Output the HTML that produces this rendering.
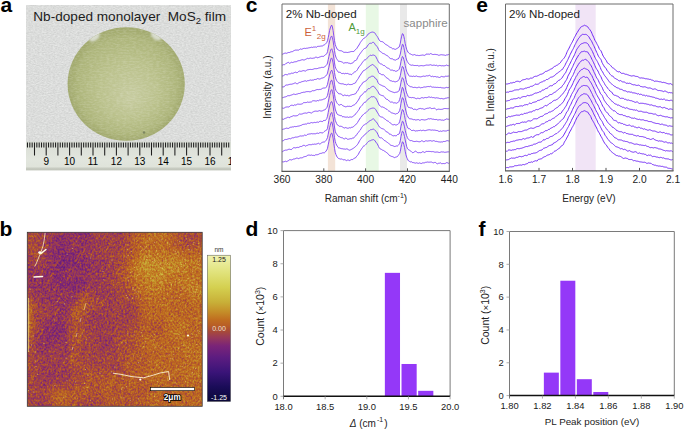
<!DOCTYPE html>
<html><head><meta charset="utf-8"><title>Figure</title>
<style>html,body{margin:0;padding:0;background:#fff;} svg{display:block;} text{font-family:"Liberation Sans", sans-serif;}</style>
</head><body>
<svg width="685" height="429" viewBox="0 0 685 429" font-family='"Liberation Sans", sans-serif'>
<defs>
<filter id="paper" x="0" y="0" width="100%" height="100%" color-interpolation-filters="sRGB">
 <feTurbulence type="fractalNoise" baseFrequency="0.45 0.9" numOctaves="2" seed="4" result="n"/>
 <feColorMatrix in="n" type="matrix" values="0.14 0 0 0 0.79 0.14 0 0 0 0.795 0.14 0 0 0 0.79 0 0 0 0 1" result="g"/>
 <feComposite in="g" in2="SourceGraphic" operator="in"/>
</filter>
<filter id="fib" x="0" y="0" width="100%" height="100%" color-interpolation-filters="sRGB">
 <feTurbulence type="fractalNoise" baseFrequency="0.3 0.7" numOctaves="2" seed="11" result="n"/>
 <feColorMatrix in="n" type="matrix" values="0 0 0 0 1  0 0 0 0 1  0 0 0 0 1  0.35 0 0 0 -0.12" result="w"/>
 <feComposite in="w" in2="SourceGraphic" operator="in" result="wi"/>
 <feMerge><feMergeNode in="SourceGraphic"/><feMergeNode in="wi"/></feMerge>
</filter>
<filter id="soft" x="-50%" y="-50%" width="200%" height="200%"><feGaussianBlur stdDeviation="0.8"/></filter>
<filter id="blur2" x="-10%" y="-10%" width="120%" height="120%"><feGaussianBlur stdDeviation="2.5" edgeMode="duplicate"/></filter>
<filter id="afm" x="0" y="0" width="100%" height="100%" color-interpolation-filters="sRGB">
 <feTurbulence type="fractalNoise" baseFrequency="0.55 0.45" numOctaves="3" seed="5" result="n"/>
 <feColorMatrix in="n" type="matrix" values="1 0 0 0 0  1 0 0 0 0  1 0 0 0 0  0 0 0 0 1" result="ng"/>
 <feComposite in="SourceGraphic" in2="ng" operator="arithmetic" k1="0" k2="1" k3="0.27" k4="-0.135" result="h"/>
 <feComponentTransfer in="h">
  <feFuncR type="table" tableValues="0.039 0.055 0.071 0.086 0.102 0.133 0.165 0.196 0.227 0.261 0.294 0.327 0.361 0.398 0.434 0.471 0.518 0.567 0.612 0.651 0.690 0.725 0.745 0.758 0.765 0.772 0.778 0.783 0.794 0.805 0.817 0.829 0.841 0.853 0.864 0.876 0.889 0.902 0.915 0.928 0.941"/>
  <feFuncG type="table" tableValues="0.031 0.035 0.039 0.043 0.047 0.055 0.063 0.071 0.078 0.086 0.094 0.102 0.110 0.120 0.129 0.139 0.170 0.206 0.243 0.282 0.329 0.376 0.416 0.467 0.525 0.579 0.630 0.680 0.715 0.747 0.778 0.809 0.830 0.847 0.865 0.883 0.897 0.910 0.923 0.936 0.949"/>
  <feFuncB type="table" tableValues="0.220 0.251 0.282 0.314 0.345 0.376 0.408 0.439 0.471 0.478 0.486 0.494 0.502 0.492 0.482 0.473 0.429 0.376 0.314 0.235 0.184 0.146 0.131 0.135 0.151 0.170 0.193 0.215 0.238 0.262 0.285 0.309 0.347 0.388 0.429 0.470 0.514 0.558 0.602 0.646 0.690"/>
 </feComponentTransfer>
</filter>
<linearGradient id="cbar" x1="0" y1="1" x2="0" y2="0"><stop offset="0.0" stop-color="#0a0838"/><stop offset="0.1" stop-color="#1a0c58"/><stop offset="0.2" stop-color="#3a1478"/><stop offset="0.3" stop-color="#5c1c80"/><stop offset="0.38" stop-color="#7a2478"/><stop offset="0.44" stop-color="#983a58"/><stop offset="0.48" stop-color="#a84a38"/><stop offset="0.52" stop-color="#b85e26"/><stop offset="0.56" stop-color="#c06e20"/><stop offset="0.61" stop-color="#c48c28"/><stop offset="0.68" stop-color="#c8b038"/><stop offset="0.78" stop-color="#d4d050"/><stop offset="0.88" stop-color="#e0e27a"/><stop offset="1.0" stop-color="#f0f2b0"/></linearGradient>
<radialGradient id="disk" cx="0.5" cy="0.5" r="0.5" fx="0.55" fy="0.62">
 <stop offset="0" stop-color="#c6cb9f"/>
 <stop offset="0.5" stop-color="#bac18b"/>
 <stop offset="0.85" stop-color="#adb57a"/>
 <stop offset="1" stop-color="#a0a86c"/>
</radialGradient>
<linearGradient id="ruler" x1="0" y1="0" x2="0" y2="1">
 <stop offset="0" stop-color="#d8dcd4"/>
 <stop offset="0.6" stop-color="#e2e6de"/>
 <stop offset="0.88" stop-color="#dfe3da"/>
 <stop offset="0.92" stop-color="#c8ccc2"/>
 <stop offset="1" stop-color="#bfc3b8"/>
</linearGradient>
</defs>
<text x="0.5" y="12.2" font-size="21" text-anchor="start" fill="#000" font-weight="bold" >a</text>
<text x="245.8" y="12.4" font-size="21" text-anchor="start" fill="#000" font-weight="bold" >c</text>
<text x="476.2" y="12.4" font-size="21" text-anchor="start" fill="#000" font-weight="bold" >e</text>
<text x="-0.6" y="235.6" font-size="21" text-anchor="start" fill="#000" font-weight="bold" >b</text>
<text x="245.5" y="235.8" font-size="21" text-anchor="start" fill="#000" font-weight="bold" >d</text>
<text x="478.5" y="235.6" font-size="21" text-anchor="start" fill="#000" font-weight="bold" >f</text>
<rect x="26" y="5" width="205" height="165" fill="#dadada"/>
<rect x="26" y="5" width="205" height="137" fill="#ddd" filter="url(#paper)"/>
<ellipse cx="126.2" cy="84" rx="58.6" ry="56.8" fill="url(#disk)" filter="url(#fib)"/>
<clipPath id="diskclip"><ellipse cx="126.2" cy="84" rx="58.6" ry="56.8"/></clipPath>
<g clip-path="url(#diskclip)" filter="url(#soft)"><ellipse cx="94.5" cy="37" rx="6" ry="3.6" fill="#d8dccd" transform="rotate(-38 94.5 37)"/><ellipse cx="156" cy="36" rx="6" ry="3.4" fill="#d8dccd" transform="rotate(36 156 36)"/></g>
<circle cx="144" cy="132.5" r="1.2" fill="#7d8660"/>
<rect x="26" y="141.4" width="205" height="29" fill="url(#ruler)"/>
<path d="M27.48 142.6v5 M29.82 142.6v5 M32.16 142.6v5 M34.50 142.6v13 M36.84 142.6v5 M39.18 142.6v5 M41.52 142.6v5 M43.86 142.6v5 M46.20 142.6v13 M48.54 142.6v5 M50.88 142.6v5 M53.22 142.6v5 M55.56 142.6v5 M57.90 142.6v13 M60.24 142.6v5 M62.58 142.6v5 M64.92 142.6v5 M67.26 142.6v5 M69.60 142.6v13 M71.94 142.6v5 M74.28 142.6v5 M76.62 142.6v5 M78.96 142.6v5 M81.30 142.6v13 M83.64 142.6v5 M85.98 142.6v5 M88.32 142.6v5 M90.66 142.6v5 M93.00 142.6v13 M95.34 142.6v5 M97.68 142.6v5 M100.02 142.6v5 M102.36 142.6v5 M104.70 142.6v13 M107.04 142.6v5 M109.38 142.6v5 M111.72 142.6v5 M114.06 142.6v5 M116.40 142.6v13 M118.74 142.6v5 M121.08 142.6v5 M123.42 142.6v5 M125.76 142.6v5 M128.10 142.6v13 M130.44 142.6v5 M132.78 142.6v5 M135.12 142.6v5 M137.46 142.6v5 M139.80 142.6v13 M142.14 142.6v5 M144.48 142.6v5 M146.82 142.6v5 M149.16 142.6v5 M151.50 142.6v13 M153.84 142.6v5 M156.18 142.6v5 M158.52 142.6v5 M160.86 142.6v5 M163.20 142.6v13 M165.54 142.6v5 M167.88 142.6v5 M170.22 142.6v5 M172.56 142.6v5 M174.90 142.6v13 M177.24 142.6v5 M179.58 142.6v5 M181.92 142.6v5 M184.26 142.6v5 M186.60 142.6v13 M188.94 142.6v5 M191.28 142.6v5 M193.62 142.6v5 M195.96 142.6v5 M198.30 142.6v13 M200.64 142.6v5 M202.98 142.6v5 M205.32 142.6v5 M207.66 142.6v5 M210.00 142.6v13 M212.34 142.6v5 M214.68 142.6v5 M217.02 142.6v5 M219.36 142.6v5 M221.70 142.6v13 M224.04 142.6v5 M226.38 142.6v5 M228.72 142.6v5" stroke="#1e1e1e" stroke-width="1.05"/>
<text x="46.2" y="164.6" font-size="10" text-anchor="middle" fill="#000" font-weight="normal" >9</text>
<text x="69.6" y="164.6" font-size="10" text-anchor="middle" fill="#000" font-weight="normal" >10</text>
<text x="93.0" y="164.6" font-size="10" text-anchor="middle" fill="#000" font-weight="normal" >11</text>
<text x="116.4" y="164.6" font-size="10" text-anchor="middle" fill="#000" font-weight="normal" >12</text>
<text x="139.8" y="164.6" font-size="10" text-anchor="middle" fill="#000" font-weight="normal" >13</text>
<text x="163.2" y="164.6" font-size="10" text-anchor="middle" fill="#000" font-weight="normal" >14</text>
<text x="186.6" y="164.6" font-size="10" text-anchor="middle" fill="#000" font-weight="normal" >15</text>
<text x="210.0" y="164.6" font-size="10" text-anchor="middle" fill="#000" font-weight="normal" >16</text>
<text x="233.4" y="164.6" font-size="10" text-anchor="middle" fill="#000" font-weight="normal" >17</text>
<rect x="231" y="140" width="10" height="32" fill="#fff"/>
<text x="33.3" y="20.6" font-size="13.6" fill="#1c1c1c">Nb-doped monolayer&#160; MoS<tspan font-size="9.5" dy="3">2</tspan><tspan dy="-3"> film</tspan></text>
<rect x="327.9" y="4.0" width="7.3" height="167.3" fill="#f3e3d7"/>
<rect x="365.8" y="4.0" width="12.9" height="167.3" fill="#e8f8e5"/>
<rect x="400.0" y="4.0" width="7.0" height="167.3" fill="#e9e9e9"/>
<path d="M282.0 54.34 282.7 54.16 283.4 53.79 284.1 53.43 284.8 53.21 285.5 53.08 286.2 53.26 286.9 53.30 287.6 52.80 288.3 52.50 289.0 52.56 289.7 52.46 290.4 52.07 291.1 51.72 291.8 51.73 292.5 51.60 293.2 51.11 293.9 50.73 294.6 50.38 295.3 50.11 296.0 50.08 296.7 50.11 297.4 50.07 298.1 50.13 298.8 50.08 299.5 49.52 300.2 48.97 300.9 49.06 301.6 49.28 302.3 49.02 303.0 48.60 303.7 48.43 304.4 48.31 305.1 48.38 305.8 48.49 306.5 48.22 307.2 48.16 307.9 48.18 308.6 47.87 309.3 47.72 310.0 47.72 310.7 47.47 311.4 47.20 312.1 47.42 312.8 47.44 313.5 47.08 314.2 47.12 314.9 47.04 315.6 46.98 316.3 47.28 317.0 46.93 317.7 46.33 318.4 46.33 319.1 46.39 319.8 46.24 320.5 46.13 321.2 46.00 321.9 46.02 322.6 45.86 323.3 45.33 324.0 44.96 324.7 44.66 325.4 44.14 326.1 43.35 326.8 42.42 327.5 40.77 328.2 37.72 328.9 34.34 329.6 30.53 330.3 27.99 331.0 26.10 331.7 25.07 332.4 27.01 333.1 30.61 333.8 35.89 334.5 40.63 335.2 44.42 335.9 46.38 336.6 47.98 337.3 49.25 338.0 49.83 338.7 50.18 339.4 50.57 340.1 50.72 340.8 50.72 341.5 50.85 342.2 51.21 342.9 51.69 343.6 52.19 344.3 52.35 345.0 52.30 345.7 52.30 346.4 52.35 347.1 52.47 347.8 52.48 348.5 52.29 349.2 52.11 349.9 52.04 350.6 51.70 351.3 51.52 352.0 51.63 352.7 51.51 353.4 51.54 354.1 51.32 354.8 50.30 355.5 49.52 356.2 49.13 356.9 48.33 357.6 47.14 358.3 46.00 359.0 45.01 359.7 43.74 360.4 42.40 361.1 41.51 361.8 40.58 362.5 39.59 363.2 38.85 363.9 38.30 364.6 37.97 365.3 37.49 366.0 36.77 366.7 36.05 367.4 35.15 368.1 34.12 368.8 33.60 369.5 33.19 370.2 32.72 370.9 32.48 371.6 32.21 372.3 32.08 373.0 32.10 373.7 32.37 374.4 32.68 375.1 33.23 375.8 34.56 376.5 35.61 377.2 36.39 377.9 37.63 378.6 39.00 379.3 40.24 380.0 41.09 380.7 41.41 381.4 41.54 382.1 41.71 382.8 41.85 383.5 42.37 384.2 43.19 384.9 43.81 385.6 44.36 386.3 44.75 387.0 45.05 387.7 45.53 388.4 46.10 389.1 46.68 389.8 47.15 390.5 47.43 391.2 47.59 391.9 48.17 392.6 48.81 393.3 48.71 394.0 48.69 394.7 49.25 395.4 49.39 396.1 48.91 396.8 48.61 397.5 48.20 398.2 47.76 398.9 47.30 399.6 45.94 400.3 43.16 401.0 39.22 401.7 36.13 402.4 33.67 403.1 34.07 403.8 36.26 404.5 39.47 405.2 43.61 405.9 46.66 406.6 49.22 407.3 50.94 408.0 52.15 408.7 52.99 409.4 53.58 410.1 53.87 410.8 54.09 411.5 54.51 412.2 54.91 412.9 55.01 413.6 54.86 414.3 54.58 415.0 54.64 415.7 55.19 416.4 55.42 417.1 55.28 417.8 55.38 418.5 55.55 419.2 55.61 419.9 55.45 420.6 55.33 421.3 55.25 422.0 54.99 422.7 55.05 423.4 55.17 424.1 55.25 424.8 55.40 425.5 55.00 426.2 54.14 426.9 53.91 427.6 54.17 428.3 54.10 429.0 54.19 429.7 54.21 430.4 53.66 431.1 53.58 431.8 54.16 432.5 54.45 433.2 54.49 433.9 54.52 434.6 54.36 435.3 54.37 436.0 54.62 436.7 54.59 437.4 54.66 438.1 55.09 438.8 55.29 439.5 55.16 440.2 54.91 440.9 54.77 441.6 54.73 442.3 54.83 443.0 54.97 443.7 54.98 444.4 55.10 445.1 55.41 445.8 55.35 446.5 54.94 447.2 54.89 447.9 54.87 448.6 54.50 449.3 54.24 M282.0 65.28 282.7 64.99 283.4 64.70 284.1 64.62 284.8 64.60 285.5 64.03 286.2 63.34 286.9 63.10 287.6 62.62 288.3 62.30 289.0 62.87 289.7 63.34 290.4 62.92 291.1 62.30 291.8 62.29 292.5 62.54 293.2 62.36 293.9 62.03 294.6 61.83 295.3 61.76 296.0 61.75 296.7 61.57 297.4 61.12 298.1 60.78 298.8 60.68 299.5 60.62 300.2 60.45 300.9 60.05 301.6 59.88 302.3 59.73 303.0 59.63 303.7 60.04 304.4 59.96 305.1 59.45 305.8 59.33 306.5 58.87 307.2 58.30 307.9 58.48 308.6 58.66 309.3 58.40 310.0 58.11 310.7 58.08 311.4 58.27 312.1 58.41 312.8 58.22 313.5 58.12 314.2 58.10 314.9 57.68 315.6 57.18 316.3 57.15 317.0 57.62 317.7 57.77 318.4 57.52 319.1 57.24 319.8 56.95 320.5 56.71 321.2 56.47 321.9 56.29 322.6 56.36 323.3 56.43 324.0 56.05 324.7 55.39 325.4 54.75 326.1 54.33 326.8 53.76 327.5 51.73 328.2 47.98 328.9 44.42 329.6 40.98 330.3 38.68 331.0 36.88 331.7 35.95 332.4 37.69 333.1 40.95 333.8 45.85 334.5 50.54 335.2 54.76 335.9 57.10 336.6 58.62 337.3 59.67 338.0 60.76 338.7 61.42 339.4 61.32 340.1 61.31 340.8 61.65 341.5 61.80 342.2 61.97 342.9 62.66 343.6 63.17 344.3 62.97 345.0 62.69 345.7 62.70 346.4 62.78 347.1 62.61 347.8 62.77 348.5 63.14 349.2 63.16 349.9 63.45 350.6 63.65 351.3 63.37 352.0 63.25 352.7 63.04 353.4 62.21 354.1 61.25 354.8 60.64 355.5 60.51 356.2 60.31 356.9 59.22 357.6 57.62 358.3 56.28 359.0 55.27 359.7 54.29 360.4 53.26 361.1 52.35 361.8 51.40 362.5 50.38 363.2 49.60 363.9 48.99 364.6 48.46 365.3 48.23 366.0 47.97 366.7 47.15 367.4 45.93 368.1 44.95 368.8 44.26 369.5 43.41 370.2 43.13 370.9 43.39 371.6 43.22 372.3 42.56 373.0 42.13 373.7 42.38 374.4 43.11 375.1 44.32 375.8 45.46 376.5 45.88 377.2 46.50 377.9 47.90 378.6 49.61 379.3 50.79 380.0 51.34 380.7 51.78 381.4 52.22 382.1 52.89 382.8 53.44 383.5 53.60 384.2 53.78 384.9 54.28 385.6 54.78 386.3 55.22 387.0 55.64 387.7 55.90 388.4 56.54 389.1 57.48 389.8 58.07 390.5 58.58 391.2 58.85 391.9 58.64 392.6 58.91 393.3 59.52 394.0 59.79 394.7 59.93 395.4 60.14 396.1 59.88 396.8 59.25 397.5 59.04 398.2 59.05 398.9 58.03 399.6 56.28 400.3 54.06 401.0 50.43 401.7 47.10 402.4 44.33 403.1 44.58 403.8 47.27 404.5 50.82 405.2 54.62 405.9 57.57 406.6 60.00 407.3 61.46 408.0 62.65 408.7 63.69 409.4 64.35 410.1 64.61 410.8 65.11 411.5 65.26 412.2 65.05 412.9 65.13 413.6 65.37 414.3 65.51 415.0 65.49 415.7 65.50 416.4 65.57 417.1 65.48 417.8 65.51 418.5 65.93 419.2 66.02 419.9 65.71 420.6 65.67 421.3 65.60 422.0 65.59 422.7 65.75 423.4 65.80 424.1 65.75 424.8 65.48 425.5 65.31 426.2 65.14 426.9 65.02 427.6 65.13 428.3 65.15 429.0 65.14 429.7 64.93 430.4 64.73 431.1 64.92 431.8 65.26 432.5 65.37 433.2 65.23 433.9 65.11 434.6 65.21 435.3 65.49 436.0 65.36 436.7 65.27 437.4 65.83 438.1 66.06 438.8 65.62 439.5 65.44 440.2 65.53 440.9 65.66 441.6 65.83 442.3 65.71 443.0 65.73 443.7 65.87 444.4 65.81 445.1 65.72 445.8 65.44 446.5 65.07 447.2 65.28 447.9 65.78 448.6 65.68 449.3 65.42 M282.0 75.97 282.7 76.02 283.4 75.93 284.1 75.18 284.8 74.58 285.5 74.44 286.2 74.51 286.9 74.83 287.6 74.72 288.3 74.06 289.0 73.69 289.7 73.94 290.4 73.82 291.1 73.23 291.8 73.18 292.5 73.30 293.2 73.20 293.9 72.87 294.6 72.49 295.3 72.18 296.0 72.29 296.7 72.71 297.4 72.55 298.1 71.95 298.8 71.39 299.5 71.10 300.2 71.23 300.9 71.34 301.6 71.21 302.3 70.92 303.0 70.64 303.7 70.63 304.4 70.80 305.1 71.06 305.8 70.99 306.5 70.35 307.2 69.91 307.9 69.82 308.6 69.65 309.3 69.53 310.0 69.45 310.7 69.40 311.4 69.50 312.1 69.48 312.8 69.33 313.5 69.10 314.2 68.79 314.9 68.66 315.6 68.67 316.3 68.67 317.0 68.69 317.7 68.44 318.4 68.13 319.1 68.01 319.8 67.80 320.5 67.72 321.2 67.53 321.9 67.25 322.6 67.40 323.3 67.46 324.0 67.12 324.7 66.73 325.4 66.23 326.1 65.60 326.8 64.75 327.5 63.00 328.2 59.75 328.9 56.61 329.6 53.69 330.3 51.41 331.0 49.41 331.7 48.73 332.4 50.39 333.1 53.21 333.8 58.12 334.5 62.91 335.2 66.79 335.9 68.65 336.6 69.73 337.3 70.81 338.0 71.85 338.7 72.33 339.4 72.28 340.1 72.27 340.8 72.83 341.5 73.44 342.2 73.62 342.9 73.41 343.6 73.39 344.3 73.82 345.0 73.64 345.7 73.32 346.4 73.55 347.1 73.50 347.8 73.42 348.5 73.87 349.2 74.24 349.9 74.16 350.6 74.31 351.3 74.68 352.0 74.42 352.7 73.66 353.4 72.89 354.1 72.22 354.8 71.87 355.5 71.70 356.2 71.17 356.9 70.37 357.6 69.33 358.3 68.00 359.0 66.94 359.7 66.12 360.4 65.26 361.1 64.38 361.8 63.30 362.5 62.28 363.2 61.43 363.9 60.47 364.6 59.90 365.3 59.82 366.0 59.50 366.7 58.70 367.4 57.75 368.1 57.12 368.8 56.54 369.5 55.73 370.2 55.20 370.9 55.34 371.6 55.53 372.3 55.22 373.0 54.88 373.7 55.14 374.4 55.42 375.1 55.62 375.8 56.70 376.5 58.01 377.2 59.35 377.9 60.93 378.6 62.20 379.3 63.04 380.0 63.59 380.7 63.93 381.4 64.01 382.1 64.34 382.8 65.03 383.5 65.47 384.2 65.51 384.9 65.79 385.6 66.54 386.3 67.23 387.0 67.74 387.7 68.11 388.4 68.27 389.1 68.65 389.8 69.33 390.5 70.02 391.2 70.22 391.9 69.93 392.6 70.15 393.3 70.62 394.0 70.60 394.7 70.70 395.4 71.22 396.1 71.35 396.8 70.97 397.5 70.62 398.2 70.33 398.9 69.56 399.6 68.07 400.3 65.28 401.0 61.50 401.7 58.68 402.4 56.48 403.1 57.17 403.8 59.35 404.5 62.00 405.2 65.58 405.9 68.68 406.6 71.23 407.3 72.67 408.0 74.02 408.7 75.31 409.4 76.16 410.1 76.31 410.8 76.08 411.5 76.25 412.2 76.54 412.9 76.29 413.6 76.10 414.3 76.40 415.0 76.54 415.7 76.23 416.4 75.96 417.1 76.22 417.8 76.63 418.5 76.64 419.2 76.66 419.9 76.86 420.6 76.85 421.3 76.72 422.0 76.56 422.7 76.31 423.4 76.10 424.1 76.17 424.8 76.39 425.5 76.19 426.2 75.83 426.9 75.78 427.6 75.91 428.3 75.82 429.0 75.40 429.7 75.33 430.4 75.95 431.1 76.61 431.8 76.51 432.5 76.23 433.2 76.57 433.9 76.83 434.6 76.51 435.3 76.49 436.0 76.88 436.7 77.00 437.4 76.87 438.1 76.95 438.8 77.40 439.5 77.50 440.2 77.20 440.9 76.74 441.6 76.40 442.3 76.61 443.0 76.79 443.7 76.85 444.4 76.83 445.1 76.40 445.8 76.14 446.5 76.30 447.2 76.27 447.9 76.13 448.6 76.06 449.3 76.05 M282.0 87.05 282.7 86.88 283.4 86.90 284.1 86.80 284.8 86.01 285.5 85.24 286.2 85.02 286.9 84.96 287.6 85.00 288.3 84.79 289.0 84.46 289.7 84.38 290.4 84.26 291.1 84.26 291.8 84.18 292.5 83.94 293.2 83.75 293.9 83.48 294.6 83.10 295.3 82.86 296.0 83.20 296.7 83.72 297.4 83.74 298.1 83.34 298.8 82.76 299.5 82.43 300.2 82.43 300.9 82.15 301.6 81.77 302.3 81.60 303.0 81.44 303.7 81.25 304.4 81.00 305.1 80.73 305.8 80.98 306.5 81.30 307.2 80.90 307.9 80.54 308.6 80.62 309.3 80.42 310.0 79.99 310.7 80.03 311.4 80.24 312.1 80.10 312.8 80.06 313.5 80.02 314.2 79.64 314.9 79.37 315.6 79.46 316.3 79.35 317.0 78.78 317.7 78.57 318.4 78.79 319.1 78.97 319.8 79.07 320.5 78.75 321.2 78.26 321.9 78.18 322.6 77.98 323.3 77.71 324.0 77.54 324.7 76.87 325.4 76.20 326.1 75.74 326.8 74.82 327.5 73.09 328.2 70.09 328.9 67.15 329.6 64.00 330.3 61.04 331.0 58.63 331.7 57.90 332.4 59.73 333.1 62.95 333.8 68.07 334.5 72.61 335.2 76.53 335.9 78.98 336.6 80.50 337.3 81.53 338.0 82.41 338.7 82.91 339.4 83.24 340.1 83.56 340.8 83.69 341.5 83.81 342.2 83.82 342.9 83.77 343.6 84.06 344.3 84.43 345.0 84.43 345.7 84.51 346.4 84.91 347.1 84.77 347.8 84.21 348.5 84.12 349.2 84.46 349.9 84.62 350.6 84.59 351.3 84.56 352.0 84.43 352.7 84.16 353.4 83.66 354.1 83.32 354.8 83.33 355.5 82.87 356.2 81.59 356.9 80.36 357.6 79.49 358.3 78.47 359.0 77.10 359.7 75.95 360.4 75.00 361.1 73.89 361.8 72.91 362.5 71.95 363.2 70.90 363.9 70.34 364.6 70.21 365.3 69.94 366.0 69.22 366.7 68.36 367.4 67.96 368.1 67.69 368.8 67.03 369.5 66.17 370.2 65.68 370.9 65.47 371.6 64.98 372.3 64.50 373.0 64.70 373.7 65.30 374.4 65.86 375.1 66.43 375.8 67.12 376.5 67.90 377.2 68.89 377.9 70.58 378.6 72.53 379.3 73.43 380.0 73.58 380.7 73.98 381.4 74.54 382.1 74.87 382.8 74.67 383.5 74.67 384.2 75.35 384.9 76.13 385.6 76.89 386.3 77.65 387.0 78.15 387.7 78.41 388.4 78.74 389.1 79.66 389.8 80.53 390.5 80.72 391.2 80.75 391.9 81.13 392.6 81.42 393.3 81.27 394.0 81.39 394.7 81.80 395.4 81.85 396.1 81.63 396.8 81.40 397.5 81.08 398.2 80.67 398.9 79.70 399.6 78.08 400.3 75.78 401.0 72.08 401.7 68.70 402.4 66.39 403.1 67.03 403.8 69.22 404.5 72.16 405.2 75.97 405.9 79.55 406.6 82.67 407.3 84.19 408.0 85.05 408.7 85.69 409.4 86.08 410.1 86.53 410.8 86.80 411.5 86.77 412.2 87.03 412.9 87.34 413.6 87.52 414.3 87.38 415.0 87.22 415.7 87.48 416.4 87.69 417.1 87.68 417.8 87.62 418.5 87.24 419.2 87.10 419.9 87.62 420.6 87.84 421.3 87.61 422.0 87.57 422.7 87.53 423.4 87.16 424.1 86.88 424.8 87.05 425.5 87.04 426.2 86.80 426.9 86.82 427.6 86.56 428.3 86.46 429.0 86.79 429.7 86.59 430.4 86.25 431.1 86.55 431.8 87.09 432.5 87.20 433.2 87.04 433.9 87.19 434.6 87.31 435.3 87.24 436.0 87.37 436.7 87.43 437.4 87.33 438.1 87.39 438.8 87.54 439.5 87.53 440.2 87.39 440.9 87.53 441.6 87.81 442.3 87.85 443.0 87.92 443.7 87.98 444.4 88.04 445.1 87.96 445.8 87.55 446.5 87.38 447.2 87.51 447.9 87.82 448.6 87.51 449.3 86.73 M282.0 97.79 282.7 97.71 283.4 97.44 284.1 97.12 284.8 96.99 285.5 96.84 286.2 96.65 286.9 96.25 287.6 95.75 288.3 95.68 289.0 95.70 289.7 95.67 290.4 95.37 291.1 95.05 291.8 94.95 292.5 94.62 293.2 94.21 293.9 94.07 294.6 94.28 295.3 94.50 296.0 94.38 296.7 94.14 297.4 93.99 298.1 93.70 298.8 93.46 299.5 93.51 300.2 93.37 300.9 92.93 301.6 92.63 302.3 92.54 303.0 92.33 303.7 92.21 304.4 92.24 305.1 92.09 305.8 91.83 306.5 91.64 307.2 91.65 307.9 91.59 308.6 91.58 309.3 91.77 310.0 91.74 310.7 91.68 311.4 91.35 312.1 90.78 312.8 90.65 313.5 90.75 314.2 90.66 314.9 90.46 315.6 90.09 316.3 89.75 317.0 89.60 317.7 89.50 318.4 89.64 319.1 89.56 319.8 89.36 320.5 89.42 321.2 89.25 321.9 88.69 322.6 88.31 323.3 88.12 324.0 87.86 324.7 88.03 325.4 88.07 326.1 87.35 326.8 86.26 327.5 84.30 328.2 81.11 328.9 78.06 329.6 74.97 330.3 72.86 331.0 71.13 331.7 70.17 332.4 71.58 333.1 74.53 333.8 79.44 334.5 84.22 335.2 88.23 335.9 90.37 336.6 91.54 337.3 92.07 338.0 92.97 338.7 93.78 339.4 93.82 340.1 93.81 340.8 93.93 341.5 94.13 342.2 94.89 342.9 95.74 343.6 95.64 344.3 95.10 345.0 95.03 345.7 95.39 346.4 95.61 347.1 95.38 347.8 95.41 348.5 95.84 349.2 95.89 349.9 95.50 350.6 95.11 351.3 94.95 352.0 94.73 352.7 94.51 353.4 94.49 354.1 94.19 354.8 93.95 355.5 93.82 356.2 92.89 356.9 91.62 357.6 90.86 358.3 89.83 359.0 88.22 359.7 86.93 360.4 85.93 361.1 85.14 361.8 84.33 362.5 83.05 363.2 82.22 363.9 81.97 364.6 81.60 365.3 81.24 366.0 80.75 366.7 80.24 367.4 79.44 368.1 78.36 368.8 77.73 369.5 77.37 370.2 77.11 370.9 76.77 371.6 76.23 372.3 76.12 373.0 76.36 373.7 76.44 374.4 76.92 375.1 78.18 375.8 78.91 376.5 79.02 377.2 80.38 377.9 82.35 378.6 83.54 379.3 84.26 380.0 84.65 380.7 84.94 381.4 85.24 382.1 85.61 382.8 86.02 383.5 86.22 384.2 86.40 384.9 86.85 385.6 87.47 386.3 88.05 387.0 88.80 387.7 89.60 388.4 90.09 389.1 90.52 389.8 90.93 390.5 91.24 391.2 91.47 391.9 91.78 392.6 92.03 393.3 92.23 394.0 92.62 394.7 92.62 395.4 92.35 396.1 92.24 396.8 92.14 397.5 91.91 398.2 91.63 398.9 90.93 399.6 89.05 400.3 86.13 401.0 82.42 401.7 79.50 402.4 77.65 403.1 78.64 403.8 80.73 404.5 83.18 405.2 86.99 405.9 90.49 406.6 92.93 407.3 94.48 408.0 96.19 408.7 97.26 409.4 97.42 410.1 97.35 410.8 97.56 411.5 97.71 412.2 97.53 412.9 97.51 413.6 97.71 414.3 97.80 415.0 98.00 415.7 98.51 416.4 98.75 417.1 98.37 417.8 98.19 418.5 98.37 419.2 98.59 419.9 98.61 420.6 98.23 421.3 97.79 422.0 97.57 422.7 97.75 423.4 98.05 424.1 97.89 424.8 97.54 425.5 97.53 426.2 97.68 426.9 97.64 427.6 97.40 428.3 97.10 429.0 96.81 429.7 97.11 430.4 97.43 431.1 97.11 431.8 97.23 432.5 97.62 433.2 97.58 433.9 97.60 434.6 97.84 435.3 98.05 436.0 97.91 436.7 97.75 437.4 97.94 438.1 98.06 438.8 98.16 439.5 98.44 440.2 98.67 440.9 98.60 441.6 98.45 442.3 98.65 443.0 98.86 443.7 98.89 444.4 98.72 445.1 98.33 445.8 98.21 446.5 98.13 447.2 97.84 447.9 97.79 448.6 97.74 449.3 97.65 M282.0 108.08 282.7 108.12 283.4 108.28 284.1 108.11 284.8 107.66 285.5 107.23 286.2 107.03 286.9 107.00 287.6 106.92 288.3 107.02 289.0 107.01 289.7 106.35 290.4 105.66 291.1 105.39 291.8 105.18 292.5 105.31 293.2 105.66 293.9 105.31 294.6 104.84 295.3 105.07 296.0 105.12 296.7 104.58 297.4 104.17 298.1 104.12 298.8 104.19 299.5 104.25 300.2 104.27 300.9 104.17 301.6 104.02 302.3 103.82 303.0 103.23 303.7 102.61 304.4 102.60 305.1 102.65 305.8 102.55 306.5 102.49 307.2 102.14 307.9 102.01 308.6 102.32 309.3 102.26 310.0 102.03 310.7 102.06 311.4 101.99 312.1 101.38 312.8 100.71 313.5 100.73 314.2 100.84 314.9 100.78 315.6 101.03 316.3 101.11 317.0 100.62 317.7 100.52 318.4 100.79 319.1 100.34 319.8 99.88 320.5 100.04 321.2 99.99 321.9 99.76 322.6 99.65 323.3 99.26 324.0 98.89 324.7 98.87 325.4 98.56 326.1 97.81 326.8 96.86 327.5 95.30 328.2 92.17 328.9 88.68 329.6 85.33 330.3 82.70 331.0 80.65 331.7 80.13 332.4 82.15 333.1 85.27 333.8 89.87 334.5 94.32 335.2 98.42 335.9 100.76 336.6 102.35 337.3 103.49 338.0 104.25 338.7 104.82 339.4 105.11 340.1 104.82 340.8 104.46 341.5 104.53 342.2 105.13 342.9 105.80 343.6 106.05 344.3 106.35 345.0 106.68 345.7 106.83 346.4 106.70 347.1 106.35 347.8 106.25 348.5 106.35 349.2 106.33 349.9 106.24 350.6 106.49 351.3 106.49 352.0 105.91 352.7 105.52 353.4 105.19 354.1 104.92 354.8 104.58 355.5 103.99 356.2 103.14 356.9 102.11 357.6 101.23 358.3 100.15 359.0 99.01 359.7 97.57 360.4 96.02 361.1 95.31 361.8 95.02 362.5 94.43 363.2 93.49 363.9 92.46 364.6 91.85 365.3 91.91 366.0 91.62 366.7 90.60 367.4 89.46 368.1 88.67 368.8 88.66 369.5 88.61 370.2 88.01 370.9 87.46 371.6 86.86 372.3 86.45 373.0 86.42 373.7 86.33 374.4 86.80 375.1 87.82 375.8 88.79 376.5 89.57 377.2 90.51 377.9 91.60 378.6 92.95 379.3 94.29 380.0 94.82 380.7 94.98 381.4 95.32 382.1 95.61 382.8 95.71 383.5 95.97 384.2 96.63 384.9 97.59 385.6 98.63 386.3 99.18 387.0 99.16 387.7 99.62 388.4 100.48 389.1 100.90 389.8 101.47 390.5 102.14 391.2 102.13 391.9 101.91 392.6 102.21 393.3 102.83 394.0 103.00 394.7 102.75 395.4 102.88 396.1 103.26 396.8 103.11 397.5 102.66 398.2 102.41 398.9 101.42 399.6 99.53 400.3 97.11 401.0 93.50 401.7 90.02 402.4 87.35 403.1 88.28 403.8 91.25 404.5 94.12 405.2 97.59 405.9 100.91 406.6 103.44 407.3 105.26 408.0 106.90 408.7 107.53 409.4 107.56 410.1 107.70 410.8 108.09 411.5 107.96 412.2 108.17 412.9 109.13 413.6 109.51 414.3 109.27 415.0 109.11 415.7 109.46 416.4 109.84 417.1 109.71 417.8 109.20 418.5 108.86 419.2 108.72 419.9 108.39 420.6 108.44 421.3 108.76 422.0 108.75 422.7 108.74 423.4 109.02 424.1 109.37 424.8 109.20 425.5 108.84 426.2 108.65 426.9 108.29 427.6 108.24 428.3 108.28 429.0 107.99 429.7 107.82 430.4 107.88 431.1 108.35 431.8 108.68 432.5 108.49 433.2 108.39 433.9 108.31 434.6 108.21 435.3 108.60 436.0 109.48 436.7 109.89 437.4 109.45 438.1 109.14 438.8 109.23 439.5 109.29 440.2 109.38 440.9 109.38 441.6 109.35 442.3 109.26 443.0 109.01 443.7 108.71 444.4 108.53 445.1 108.52 445.8 108.55 446.5 108.59 447.2 108.61 447.9 108.74 448.6 108.64 449.3 108.30 M282.0 118.96 282.7 119.19 283.4 119.35 284.1 118.91 284.8 118.55 285.5 118.29 286.2 117.96 286.9 117.89 287.6 117.28 288.3 116.97 289.0 117.75 289.7 117.65 290.4 116.84 291.1 116.58 291.8 116.50 292.5 116.15 293.2 115.72 293.9 115.69 294.6 115.87 295.3 115.90 296.0 115.80 296.7 115.75 297.4 115.61 298.1 115.07 298.8 114.49 299.5 113.97 300.2 114.01 300.9 114.29 301.6 114.05 302.3 113.90 303.0 113.65 303.7 113.26 304.4 113.13 305.1 113.03 305.8 113.03 306.5 113.19 307.2 113.03 307.9 112.55 308.6 112.34 309.3 112.43 310.0 112.52 310.7 112.85 311.4 113.07 312.1 112.60 312.8 112.04 313.5 111.70 314.2 111.41 314.9 111.19 315.6 111.12 316.3 111.15 317.0 111.24 317.7 111.27 318.4 111.02 319.1 110.66 319.8 110.66 320.5 110.96 321.2 111.05 321.9 110.94 322.6 110.76 323.3 110.38 324.0 109.90 324.7 109.85 325.4 109.55 326.1 108.50 326.8 107.69 327.5 105.97 328.2 102.29 328.9 98.96 329.6 95.54 330.3 92.67 331.0 90.51 331.7 89.59 332.4 91.36 333.1 94.66 333.8 99.88 334.5 104.98 335.2 109.04 335.9 111.15 336.6 113.05 337.3 114.30 338.0 114.79 338.7 114.98 339.4 115.26 340.1 115.65 340.8 115.62 341.5 115.61 342.2 116.50 342.9 117.01 343.6 116.65 344.3 116.86 345.0 117.10 345.7 117.13 346.4 117.16 347.1 116.90 347.8 117.12 348.5 117.43 349.2 117.16 349.9 116.97 350.6 117.01 351.3 117.13 352.0 117.05 352.7 116.58 353.4 116.02 354.1 115.45 354.8 115.03 355.5 114.19 356.2 113.12 356.9 112.42 357.6 111.48 358.3 110.58 359.0 109.62 359.7 108.04 360.4 106.97 361.1 106.48 361.8 105.69 362.5 104.82 363.2 103.73 363.9 102.69 364.6 102.35 365.3 102.24 366.0 101.69 366.7 100.81 367.4 99.97 368.1 99.14 368.8 98.62 369.5 98.37 370.2 97.64 370.9 96.83 371.6 96.69 372.3 96.84 373.0 96.77 373.7 96.64 374.4 96.98 375.1 97.58 375.8 98.12 376.5 99.12 377.2 100.72 377.9 102.26 378.6 103.92 379.3 105.37 380.0 105.90 380.7 106.35 381.4 106.94 382.1 106.97 382.8 106.94 383.5 107.40 384.2 107.75 384.9 108.03 385.6 108.64 386.3 109.05 387.0 109.35 387.7 110.08 388.4 110.78 389.1 111.10 389.8 111.43 390.5 112.09 391.2 112.72 391.9 112.90 392.6 113.08 393.3 113.36 394.0 113.43 394.7 113.78 395.4 114.10 396.1 113.75 396.8 113.54 397.5 113.46 398.2 112.88 398.9 111.92 399.6 110.65 400.3 107.86 401.0 103.34 401.7 100.04 402.4 97.70 403.1 98.24 403.8 100.73 404.5 104.00 405.2 107.96 405.9 111.07 406.6 113.89 407.3 115.72 408.0 116.97 408.7 118.02 409.4 118.79 410.1 118.88 410.8 118.82 411.5 118.95 412.2 119.12 412.9 119.51 413.6 119.70 414.3 119.52 415.0 119.72 415.7 120.01 416.4 119.92 417.1 119.79 417.8 119.63 418.5 119.59 419.2 120.04 419.9 120.41 420.6 120.05 421.3 119.63 422.0 119.59 422.7 119.70 423.4 119.80 424.1 119.92 424.8 120.00 425.5 119.83 426.2 119.67 426.9 119.49 427.6 119.10 428.3 118.74 429.0 118.79 429.7 118.94 430.4 118.68 431.1 118.61 431.8 119.05 432.5 119.19 433.2 119.15 433.9 119.30 434.6 119.53 435.3 119.59 436.0 119.40 436.7 119.51 437.4 119.91 438.1 120.01 438.8 119.85 439.5 119.71 440.2 119.71 440.9 120.02 441.6 120.13 442.3 120.03 443.0 120.29 443.7 120.25 444.4 119.96 445.1 119.79 445.8 119.30 446.5 118.95 447.2 119.07 447.9 119.28 448.6 119.30 449.3 119.23 M282.0 129.43 282.7 129.40 283.4 129.15 284.1 128.95 284.8 128.83 285.5 128.46 286.2 128.18 286.9 128.18 287.6 128.37 288.3 128.46 289.0 128.16 289.7 127.61 290.4 127.27 291.1 127.26 291.8 127.10 292.5 126.88 293.2 127.00 293.9 126.77 294.6 126.45 295.3 126.60 296.0 126.66 296.7 126.48 297.4 126.28 298.1 126.11 298.8 126.09 299.5 125.89 300.2 125.58 300.9 125.46 301.6 125.16 302.3 124.69 303.0 124.35 303.7 124.35 304.4 124.29 305.1 123.99 305.8 124.04 306.5 124.07 307.2 123.57 307.9 123.08 308.6 123.27 309.3 123.43 310.0 123.17 310.7 122.80 311.4 122.56 312.1 122.75 312.8 122.89 313.5 122.66 314.2 122.39 314.9 122.46 315.6 122.57 316.3 122.39 317.0 122.00 317.7 122.10 318.4 122.34 319.1 121.81 319.8 121.38 320.5 121.27 321.2 121.27 321.9 121.63 322.6 121.56 323.3 120.68 324.0 120.24 324.7 120.51 325.4 120.40 326.1 119.75 326.8 118.57 327.5 116.23 328.2 112.58 328.9 109.08 329.6 105.92 330.3 103.75 331.0 102.02 331.7 101.53 332.4 103.10 333.1 105.99 333.8 111.37 334.5 116.50 335.2 120.21 335.9 121.91 336.6 123.58 337.3 124.86 338.0 125.32 338.7 125.72 339.4 126.29 340.1 126.34 340.8 126.20 341.5 126.41 342.2 126.79 342.9 127.23 343.6 127.67 344.3 128.02 345.0 127.85 345.7 127.52 346.4 127.83 347.1 128.17 347.8 128.22 348.5 128.14 349.2 127.78 349.9 127.73 350.6 127.90 351.3 127.44 352.0 127.12 352.7 127.23 353.4 126.82 354.1 126.08 354.8 125.33 355.5 124.68 356.2 124.17 356.9 123.59 357.6 122.47 358.3 121.12 359.0 120.11 359.7 118.87 360.4 117.83 361.1 117.23 361.8 116.13 362.5 115.20 363.2 114.72 363.9 113.95 364.6 113.33 365.3 113.10 366.0 112.65 366.7 111.91 367.4 111.13 368.1 110.38 368.8 109.70 369.5 108.93 370.2 108.67 370.9 108.74 371.6 108.29 372.3 108.08 373.0 108.25 373.7 108.04 374.4 108.18 375.1 108.89 375.8 109.72 376.5 110.91 377.2 112.16 377.9 113.19 378.6 114.53 379.3 115.88 380.0 116.46 380.7 116.79 381.4 117.03 382.1 117.04 382.8 117.40 383.5 117.97 384.2 118.53 384.9 119.02 385.6 119.50 386.3 120.24 387.0 120.77 387.7 120.98 388.4 121.27 389.1 121.94 389.8 122.68 390.5 123.11 391.2 123.68 391.9 124.31 392.6 124.74 393.3 124.86 394.0 124.55 394.7 124.52 395.4 124.91 396.1 125.04 396.8 124.82 397.5 124.47 398.2 124.17 398.9 123.36 399.6 121.76 400.3 119.06 401.0 115.07 401.7 111.84 402.4 109.49 403.1 110.04 403.8 112.45 404.5 115.64 405.2 119.36 405.9 122.38 406.6 124.86 407.3 126.73 408.0 128.35 408.7 128.70 409.4 128.68 410.1 129.10 410.8 129.86 411.5 130.50 412.2 130.57 412.9 130.38 413.6 130.26 414.3 130.49 415.0 130.97 415.7 131.06 416.4 130.80 417.1 130.83 417.8 130.79 418.5 130.57 419.2 130.63 419.9 130.42 420.6 130.20 421.3 130.61 422.0 130.77 422.7 130.32 423.4 130.23 424.1 130.57 424.8 130.62 425.5 130.60 426.2 130.46 426.9 130.12 427.6 130.01 428.3 129.88 429.0 129.76 429.7 129.78 430.4 129.95 431.1 130.17 431.8 130.10 432.5 129.98 433.2 130.10 433.9 130.19 434.6 130.12 435.3 130.23 436.0 130.43 436.7 130.50 437.4 130.56 438.1 130.86 438.8 131.39 439.5 131.43 440.2 131.06 440.9 131.10 441.6 131.35 442.3 131.10 443.0 130.79 443.7 130.81 444.4 130.96 445.1 131.02 445.8 131.01 446.5 130.93 447.2 130.59 447.9 130.32 448.6 130.36 449.3 130.53 M282.0 140.82 282.7 140.92 283.4 140.65 284.1 140.01 284.8 139.60 285.5 139.45 286.2 139.49 286.9 139.42 287.6 139.11 288.3 138.85 289.0 138.67 289.7 138.60 290.4 138.83 291.1 138.63 291.8 137.95 292.5 137.77 293.2 137.86 293.9 137.71 294.6 137.39 295.3 137.13 296.0 137.06 296.7 137.14 297.4 137.00 298.1 136.76 298.8 136.62 299.5 136.20 300.2 135.89 300.9 136.07 301.6 136.04 302.3 135.88 303.0 135.98 303.7 135.74 304.4 135.08 305.1 135.02 305.8 135.49 306.5 135.34 307.2 134.61 307.9 134.17 308.6 134.16 309.3 134.02 310.0 133.86 310.7 133.86 311.4 133.65 312.1 133.67 312.8 133.91 313.5 133.75 314.2 133.69 314.9 133.87 315.6 133.75 316.3 133.43 317.0 133.16 317.7 133.19 318.4 133.46 319.1 133.16 319.8 132.60 320.5 132.61 321.2 132.76 321.9 132.80 322.6 132.88 323.3 132.49 324.0 131.78 324.7 131.19 325.4 130.74 326.1 130.37 326.8 129.91 327.5 128.32 328.2 124.41 328.9 120.55 329.6 117.54 330.3 115.27 331.0 113.16 331.7 112.42 332.4 114.47 333.1 117.70 333.8 122.38 334.5 127.04 335.2 131.19 335.9 133.09 336.6 134.14 337.3 135.03 338.0 136.05 338.7 136.66 339.4 136.73 340.1 137.12 340.8 137.56 341.5 137.69 342.2 137.78 342.9 138.06 343.6 138.69 344.3 138.99 345.0 138.59 345.7 138.12 346.4 138.33 347.1 139.05 347.8 139.34 348.5 139.22 349.2 139.06 349.9 138.78 350.6 138.68 351.3 138.78 352.0 138.47 352.7 138.03 353.4 138.04 354.1 137.66 354.8 136.55 355.5 135.86 356.2 135.50 356.9 134.39 357.6 133.20 358.3 132.58 359.0 131.58 359.7 130.55 360.4 129.87 361.1 128.66 361.8 127.39 362.5 126.48 363.2 125.56 363.9 124.99 364.6 124.67 365.3 124.10 366.0 123.77 366.7 123.64 367.4 123.02 368.1 122.16 368.8 121.41 369.5 120.93 370.2 120.59 370.9 120.24 371.6 119.87 372.3 119.27 373.0 118.86 373.7 118.93 374.4 119.62 375.1 120.76 375.8 121.63 376.5 122.12 377.2 123.10 377.9 124.46 378.6 125.69 379.3 126.83 380.0 127.48 380.7 127.81 381.4 128.33 382.1 128.72 382.8 128.76 383.5 128.88 384.2 129.58 384.9 130.44 385.6 130.95 386.3 131.71 387.0 132.25 387.7 132.28 388.4 132.73 389.1 133.77 389.8 134.36 390.5 134.28 391.2 134.62 391.9 135.20 392.6 135.63 393.3 135.86 394.0 135.74 394.7 135.60 395.4 135.76 396.1 135.97 396.8 135.30 397.5 134.53 398.2 134.47 398.9 134.16 399.6 132.94 400.3 130.14 401.0 126.24 401.7 123.50 402.4 121.27 403.1 121.65 403.8 123.98 404.5 126.83 405.2 130.24 405.9 133.22 406.6 135.68 407.3 137.40 408.0 138.81 408.7 139.49 409.4 140.20 410.1 140.68 410.8 140.58 411.5 140.55 412.2 140.84 412.9 141.23 413.6 141.43 414.3 141.53 415.0 141.54 415.7 141.41 416.4 141.26 417.1 141.25 417.8 141.56 418.5 141.65 419.2 141.64 419.9 141.89 420.6 141.49 421.3 140.86 422.0 140.88 422.7 141.09 423.4 141.62 424.1 141.82 424.8 141.23 425.5 140.87 426.2 140.85 426.9 140.92 427.6 141.08 428.3 140.94 429.0 140.74 429.7 140.78 430.4 140.64 431.1 140.79 431.8 141.17 432.5 141.05 433.2 140.71 433.9 140.70 434.6 140.95 435.3 141.34 436.0 141.49 436.7 141.33 437.4 141.55 438.1 141.84 438.8 141.85 439.5 141.95 440.2 142.07 440.9 141.98 441.6 141.90 442.3 142.01 443.0 141.80 443.7 141.40 444.4 141.51 445.1 141.48 445.8 141.15 446.5 140.80 447.2 140.61 447.9 140.76 448.6 140.94 449.3 141.04 M282.0 151.89 282.7 151.53 283.4 151.00 284.1 150.63 284.8 150.32 285.5 150.11 286.2 150.10 286.9 150.10 287.6 149.79 288.3 149.41 289.0 149.29 289.7 149.22 290.4 149.44 291.1 149.67 291.8 149.27 292.5 148.54 293.2 147.95 293.9 147.63 294.6 147.71 295.3 147.92 296.0 147.78 296.7 147.53 297.4 147.38 298.1 147.46 298.8 147.43 299.5 146.94 300.2 146.54 300.9 146.50 301.6 146.46 302.3 146.01 303.0 145.55 303.7 145.31 304.4 145.36 305.1 145.94 305.8 146.11 306.5 145.58 307.2 145.40 307.9 145.18 308.6 144.74 309.3 144.67 310.0 144.61 310.7 144.72 311.4 144.74 312.1 144.29 312.8 144.27 313.5 144.33 314.2 144.08 314.9 144.14 315.6 144.21 316.3 144.04 317.0 143.93 317.7 143.57 318.4 143.23 319.1 143.73 319.8 144.07 320.5 143.71 321.2 143.11 321.9 142.51 322.6 142.26 323.3 142.06 324.0 141.98 324.7 141.85 325.4 141.26 326.1 140.37 326.8 139.24 327.5 137.50 328.2 134.22 328.9 130.74 329.6 127.62 330.3 125.30 331.0 122.85 331.7 121.78 332.4 123.98 333.1 127.83 333.8 133.12 334.5 137.58 335.2 141.31 335.9 143.55 336.6 145.09 337.3 146.16 338.0 147.34 338.7 147.94 339.4 147.94 340.1 148.13 340.8 148.53 341.5 148.65 342.2 148.63 342.9 148.92 343.6 148.99 344.3 148.98 345.0 149.20 345.7 149.18 346.4 148.91 347.1 148.77 347.8 149.19 348.5 149.96 349.2 150.23 349.9 150.05 350.6 149.81 351.3 149.45 352.0 149.18 352.7 148.83 353.4 148.12 354.1 147.61 354.8 147.30 355.5 146.67 356.2 145.95 356.9 145.23 357.6 144.34 358.3 143.27 359.0 141.93 359.7 140.62 360.4 139.59 361.1 138.55 361.8 137.46 362.5 136.70 363.2 136.20 363.9 135.73 364.6 134.95 365.3 133.93 366.0 133.36 366.7 132.98 367.4 132.34 368.1 131.51 368.8 130.88 369.5 130.53 370.2 129.97 370.9 129.51 371.6 129.62 372.3 129.42 373.0 129.06 373.7 129.16 374.4 129.66 375.1 130.47 375.8 131.13 376.5 131.72 377.2 132.88 377.9 134.45 378.6 136.13 379.3 137.42 380.0 137.96 380.7 137.82 381.4 137.75 382.1 138.32 382.8 138.84 383.5 139.59 384.2 140.42 384.9 140.76 385.6 141.09 386.3 141.65 387.0 142.19 387.7 142.60 388.4 143.02 389.1 143.72 389.8 144.55 390.5 145.08 391.2 145.38 391.9 145.50 392.6 145.65 393.3 145.94 394.0 146.30 394.7 146.53 395.4 146.37 396.1 146.00 396.8 145.96 397.5 145.99 398.2 145.39 398.9 144.50 399.6 143.38 400.3 140.78 401.0 136.53 401.7 133.36 402.4 131.23 403.1 131.66 403.8 133.79 404.5 136.56 405.2 139.98 405.9 143.20 406.6 146.31 407.3 148.22 408.0 149.33 408.7 149.77 409.4 150.16 410.1 150.62 410.8 151.06 411.5 151.76 412.2 152.48 412.9 152.81 413.6 152.45 414.3 151.90 415.0 151.41 415.7 151.17 416.4 151.68 417.1 152.33 417.8 152.67 418.5 152.74 419.2 152.65 419.9 152.59 420.6 152.72 421.3 152.60 422.0 152.07 422.7 151.71 423.4 151.83 424.1 152.33 424.8 152.46 425.5 151.94 426.2 151.46 426.9 151.43 427.6 151.47 428.3 151.41 429.0 151.44 429.7 151.46 430.4 151.49 431.1 151.66 431.8 151.67 432.5 151.58 433.2 151.62 433.9 151.83 434.6 152.08 435.3 152.15 436.0 152.17 436.7 152.02 437.4 152.03 438.1 152.29 438.8 152.33 439.5 152.49 440.2 152.38 440.9 151.91 441.6 151.87 442.3 152.01 443.0 151.92 443.7 152.00 444.4 152.28 445.1 152.31 445.8 152.19 446.5 152.10 447.2 151.99 447.9 151.83 448.6 151.87 449.3 151.94 M282.0 162.05 282.7 161.80 283.4 161.87 284.1 161.80 284.8 161.42 285.5 161.19 286.2 161.52 286.9 161.63 287.6 161.07 288.3 160.71 289.0 160.24 289.7 159.67 290.4 159.69 291.1 159.90 291.8 159.93 292.5 159.54 293.2 159.10 293.9 159.04 294.6 158.94 295.3 158.70 296.0 158.39 296.7 158.09 297.4 158.16 298.1 158.52 298.8 158.61 299.5 158.21 300.2 157.88 300.9 157.86 301.6 157.85 302.3 157.75 303.0 157.37 303.7 156.88 304.4 156.66 305.1 156.56 305.8 156.42 306.5 156.15 307.2 155.59 307.9 155.19 308.6 155.09 309.3 155.08 310.0 155.32 310.7 155.25 311.4 155.01 312.1 155.31 312.8 155.45 313.5 155.37 314.2 155.59 314.9 155.34 315.6 154.77 316.3 154.76 317.0 154.77 317.7 154.63 318.4 154.42 319.1 153.95 319.8 153.61 320.5 153.43 321.2 153.35 321.9 153.20 322.6 152.81 323.3 152.73 324.0 152.86 324.7 152.63 325.4 151.95 326.1 150.96 326.8 149.98 327.5 148.26 328.2 144.88 328.9 141.65 329.6 138.47 330.3 135.83 331.0 133.69 331.7 133.03 332.4 134.93 333.1 138.15 333.8 143.38 334.5 148.32 335.2 152.35 335.9 154.47 336.6 156.02 337.3 157.27 338.0 158.10 338.7 158.49 339.4 158.73 340.1 158.94 340.8 159.17 341.5 158.97 342.2 158.98 342.9 159.68 343.6 159.86 344.3 159.68 345.0 159.78 345.7 160.14 346.4 160.64 347.1 160.39 347.8 159.97 348.5 160.14 349.2 160.48 349.9 160.58 350.6 159.98 351.3 159.54 352.0 159.71 352.7 159.56 353.4 158.84 354.1 158.22 354.8 158.26 355.5 157.88 356.2 156.85 356.9 156.05 357.6 155.28 358.3 154.37 359.0 152.97 359.7 151.56 360.4 150.67 361.1 149.58 361.8 148.43 362.5 147.55 363.2 146.43 363.9 145.77 364.6 145.70 365.3 145.04 366.0 144.27 366.7 143.63 367.4 142.59 368.1 141.76 368.8 141.29 369.5 140.88 370.2 140.74 370.9 140.53 371.6 140.06 372.3 139.89 373.0 139.72 373.7 139.63 374.4 140.08 375.1 140.92 375.8 142.04 376.5 142.94 377.2 143.77 377.9 145.05 378.6 146.64 379.3 147.98 380.0 148.79 380.7 149.09 381.4 149.35 382.1 149.94 382.8 150.23 383.5 150.45 384.2 150.99 384.9 151.37 385.6 151.82 386.3 152.40 387.0 152.84 387.7 153.36 388.4 154.20 389.1 155.18 389.8 155.66 390.5 155.90 391.2 156.30 391.9 156.44 392.6 156.65 393.3 156.99 394.0 157.36 394.7 157.67 395.4 157.27 396.1 156.90 396.8 156.92 397.5 156.50 398.2 155.55 398.9 154.53 399.6 153.64 400.3 151.43 401.0 147.45 401.7 144.35 402.4 141.87 403.1 142.20 403.8 144.47 404.5 147.32 405.2 151.21 405.9 154.69 406.6 157.16 407.3 158.65 408.0 160.18 408.7 160.96 409.4 161.33 410.1 161.82 410.8 161.91 411.5 161.78 412.2 162.28 412.9 162.76 413.6 162.62 414.3 162.79 415.0 163.20 415.7 163.10 416.4 162.81 417.1 162.92 417.8 163.27 418.5 163.33 419.2 163.00 419.9 162.94 420.6 163.39 421.3 163.54 422.0 163.17 422.7 162.87 423.4 162.87 424.1 162.92 424.8 162.70 425.5 162.34 426.2 162.30 426.9 162.20 427.6 162.02 428.3 162.16 429.0 162.19 429.7 162.15 430.4 162.09 431.1 161.96 431.8 162.20 432.5 162.57 433.2 162.80 433.9 162.81 434.6 162.41 435.3 162.38 436.0 162.91 436.7 163.48 437.4 163.80 438.1 163.50 438.8 163.16 439.5 163.19 440.2 162.90 440.9 163.04 441.6 163.68 442.3 163.66 443.0 163.43 443.7 163.57 444.4 163.63 445.1 163.48 445.8 163.20 446.5 162.65 447.2 162.56 447.9 163.15 448.6 163.31 449.3 162.91" fill="none" stroke="#8044f4" stroke-width="0.95" stroke-linejoin="round"/>
<path d="M282.0 171.3V4.0H449.3V171.3" fill="none" stroke="#6c6c6c" stroke-width="1"/>
<path d="M281.5 171.3H449.8" stroke="#555" stroke-width="1.2"/>
<path d="M323.8 171.3v-3M365.6 171.3v-3M407.5 171.3v-3" stroke="#555" stroke-width="1"/>
<text x="282.0" y="182.8" font-size="10.2" text-anchor="middle" fill="#222" font-weight="normal" >360</text>
<text x="323.8" y="182.8" font-size="10.2" text-anchor="middle" fill="#222" font-weight="normal" >380</text>
<text x="365.6" y="182.8" font-size="10.2" text-anchor="middle" fill="#222" font-weight="normal" >400</text>
<text x="407.5" y="182.8" font-size="10.2" text-anchor="middle" fill="#222" font-weight="normal" >420</text>
<text x="449.3" y="182.8" font-size="10.2" text-anchor="middle" fill="#222" font-weight="normal" >440</text>
<text x="366" y="202" font-size="10" text-anchor="middle" fill="#222">Raman shift (cm<tspan font-size="7" dy="-4">-1</tspan><tspan dy="4">)</tspan></text>
<text transform="translate(270.6 87.2) rotate(-90)" font-size="10" text-anchor="middle" fill="#222">Intensity (a.u.)</text>
<text x="285.7" y="17.5" font-size="11.6" text-anchor="start" fill="#1c1c1c" font-weight="normal" >2% Nb-doped</text>
<text x="304.4" y="35.8" font-size="11" fill="#cc603a">E<tspan font-size="8" dy="-4.6">1</tspan><tspan font-size="8" dy="7.6" dx="0.6">2g</tspan></text>
<text x="348.4" y="31" font-size="11" fill="#4f9a3a">A<tspan font-size="8" dy="3">1g</tspan></text>
<text x="403.6" y="27.4" font-size="11.5" text-anchor="start" fill="#8a8a8a" font-weight="normal" >sapphire</text>
<rect x="575.4" y="4.0" width="20.3" height="166.9" fill="#f1e4f6"/>
<path d="M505.5 83.93 506.1 83.99 506.7 84.04 507.3 84.05 507.9 83.74 508.5 83.66 509.1 83.57 509.7 83.47 510.3 83.02 510.9 82.80 511.5 82.97 512.1 83.02 512.7 82.67 513.3 82.37 513.9 82.52 514.5 82.51 515.1 82.00 515.7 81.70 516.3 81.42 516.9 81.34 517.5 81.24 518.1 81.33 518.7 81.41 519.3 81.73 519.9 81.88 520.5 81.62 521.1 80.87 521.7 80.44 522.3 80.04 522.9 79.93 523.5 79.73 524.1 79.61 524.7 79.53 525.3 79.40 525.9 79.09 526.5 78.73 527.1 78.78 527.7 78.92 528.3 79.09 528.9 79.05 529.5 78.81 530.1 78.51 530.7 78.01 531.3 78.11 531.9 78.19 532.5 78.14 533.1 77.36 533.7 76.99 534.3 76.62 534.9 76.36 535.5 76.26 536.1 76.42 536.7 76.20 537.3 75.97 537.9 75.64 538.5 75.41 539.1 74.99 539.7 74.71 540.3 74.43 540.9 74.13 541.5 74.17 542.1 73.85 542.7 73.87 543.3 73.23 543.9 72.94 544.5 72.22 545.1 71.77 545.7 71.38 546.3 71.41 546.9 71.13 547.5 70.87 548.1 70.46 548.7 70.26 549.3 69.88 549.9 69.79 550.5 69.19 551.1 68.94 551.7 68.78 552.3 68.60 552.9 67.81 553.5 67.08 554.1 66.54 554.7 66.41 555.3 66.32 555.9 65.90 556.5 65.27 557.1 65.15 557.7 64.92 558.3 64.34 558.9 63.82 559.5 63.55 560.1 63.09 560.7 62.23 561.3 61.31 561.9 60.45 562.5 59.78 563.1 59.20 563.7 58.55 564.3 57.77 564.9 56.83 565.5 55.76 566.1 54.43 566.7 52.83 567.3 51.42 567.9 50.26 568.5 49.23 569.1 48.09 569.7 46.86 570.3 45.54 570.9 44.38 571.5 43.43 572.1 42.31 572.7 41.16 573.3 39.97 573.9 38.66 574.5 37.28 575.1 36.35 575.7 35.21 576.3 34.02 576.9 32.90 577.5 32.23 578.1 31.03 578.7 30.12 579.3 29.21 579.9 28.42 580.5 27.38 581.1 26.90 581.7 26.59 582.3 26.27 582.9 26.09 583.5 25.81 584.1 25.40 584.7 25.21 585.3 25.53 585.9 26.01 586.5 26.04 587.1 26.35 587.7 26.78 588.3 27.83 588.9 28.42 589.5 29.20 590.1 29.94 590.7 30.91 591.3 31.85 591.9 33.31 592.5 34.82 593.1 36.02 593.7 37.24 594.3 38.80 594.9 40.28 595.5 41.22 596.1 42.18 596.7 43.43 597.3 44.70 597.9 45.71 598.5 46.85 599.1 48.43 599.7 49.56 600.3 50.07 600.9 50.71 601.5 51.95 602.1 53.49 602.7 54.97 603.3 56.22 603.9 57.13 604.5 58.01 605.1 58.84 605.7 59.77 606.3 60.55 606.9 61.89 607.5 62.97 608.1 63.61 608.7 63.69 609.3 64.19 609.9 64.75 610.5 65.36 611.1 65.96 611.7 66.92 612.3 67.59 612.9 68.04 613.5 68.18 614.1 68.51 614.7 69.09 615.3 69.77 615.9 70.53 616.5 70.90 617.1 71.35 617.7 71.60 618.3 71.92 618.9 71.70 619.5 71.61 620.1 71.99 620.7 72.81 621.3 73.28 621.9 73.42 622.5 73.36 623.1 73.40 623.7 73.36 624.3 73.72 624.9 74.08 625.5 74.27 626.1 74.21 626.7 74.39 627.3 74.68 627.9 74.76 628.5 75.03 629.1 75.30 629.7 75.50 630.3 75.60 630.9 75.93 631.5 76.03 632.1 75.97 632.7 75.82 633.3 75.79 633.9 75.52 634.5 75.91 635.1 76.02 635.7 76.44 636.3 76.38 636.9 76.57 637.5 76.56 638.1 76.89 638.7 77.28 639.3 77.72 639.9 77.92 640.5 78.02 641.1 77.82 641.7 77.93 642.3 78.02 642.9 78.15 643.5 78.13 644.1 78.26 644.7 78.50 645.3 78.72 645.9 78.80 646.5 78.76 647.1 78.94 647.7 78.97 648.3 79.01 648.9 79.32 649.5 79.42 650.1 79.33 650.7 79.44 651.3 79.81 651.9 80.33 652.5 80.18 653.1 80.52 653.7 80.71 654.3 81.37 654.9 81.23 655.5 81.12 656.1 81.01 656.7 81.23 657.3 81.23 657.9 81.35 658.5 81.55 659.1 81.74 659.7 81.74 660.3 81.78 660.9 81.90 661.5 82.17 662.1 82.45 662.7 82.50 663.3 82.35 663.9 82.37 664.5 82.58 665.1 82.73 665.7 82.89 666.3 83.21 666.9 83.29 667.5 83.58 668.1 83.63 668.7 83.93 669.3 83.86 669.9 83.83 670.5 83.64 671.1 83.89 671.7 84.30 672.3 84.92 672.9 85.00 M505.5 92.71 506.1 92.49 506.7 92.20 507.3 92.06 507.9 92.16 508.5 92.19 509.1 91.92 509.7 91.38 510.3 91.32 510.9 91.47 511.5 91.36 512.1 91.18 512.7 91.02 513.3 90.81 513.9 90.45 514.5 90.08 515.1 90.06 515.7 89.97 516.3 89.96 516.9 89.63 517.5 89.80 518.1 89.83 518.7 89.78 519.3 89.30 519.9 89.08 520.5 88.81 521.1 88.90 521.7 88.92 522.3 89.00 522.9 89.09 523.5 89.07 524.1 88.93 524.7 88.49 525.3 88.20 525.9 88.08 526.5 88.12 527.1 87.79 527.7 87.51 528.3 87.37 528.9 87.51 529.5 87.26 530.1 86.80 530.7 86.21 531.3 86.24 531.9 86.43 532.5 86.12 533.1 85.63 533.7 85.43 534.3 85.13 534.9 84.46 535.5 84.04 536.1 84.18 536.7 84.38 537.3 84.34 537.9 84.10 538.5 83.97 539.1 83.44 539.7 82.95 540.3 82.54 540.9 82.35 541.5 82.00 542.1 81.83 542.7 81.69 543.3 81.23 543.9 80.80 544.5 80.87 545.1 80.74 545.7 80.08 546.3 79.47 546.9 79.50 547.5 79.52 548.1 78.99 548.7 78.66 549.3 78.27 549.9 77.87 550.5 77.30 551.1 77.10 551.7 77.08 552.3 76.97 552.9 76.64 553.5 76.28 554.1 75.88 554.7 75.60 555.3 74.90 555.9 74.13 556.5 73.68 557.1 73.36 557.7 72.99 558.3 72.44 558.9 72.11 559.5 71.58 560.1 71.30 560.7 70.54 561.3 69.96 561.9 69.63 562.5 69.38 563.1 68.32 563.7 67.19 564.3 66.54 564.9 65.41 565.5 64.13 566.1 62.80 566.7 61.86 567.3 60.68 567.9 59.54 568.5 58.19 569.1 56.92 569.7 55.55 570.3 54.28 570.9 53.05 571.5 51.96 572.1 50.69 572.7 49.70 573.3 48.64 573.9 47.31 574.5 45.90 575.1 44.64 575.7 43.55 576.3 42.22 576.9 41.21 577.5 40.17 578.1 39.18 578.7 38.22 579.3 37.68 579.9 36.76 580.5 35.87 581.1 35.19 581.7 34.99 582.3 34.40 582.9 34.37 583.5 34.41 584.1 34.63 584.7 34.41 585.3 34.41 585.9 34.31 586.5 34.63 587.1 35.16 587.7 35.60 588.3 36.15 588.9 36.85 589.5 37.96 590.1 39.09 590.7 39.93 591.3 40.68 591.9 41.83 592.5 43.19 593.1 44.45 593.7 45.54 594.3 46.82 594.9 48.19 595.5 49.71 596.1 50.98 596.7 52.38 597.3 53.51 597.9 55.07 598.5 56.26 599.1 57.40 599.7 57.97 600.3 58.50 600.9 59.44 601.5 60.84 602.1 62.71 602.7 63.74 603.3 64.92 603.9 65.79 604.5 66.96 605.1 67.26 605.7 68.04 606.3 68.86 606.9 70.14 607.5 70.97 608.1 71.58 608.7 72.28 609.3 73.16 609.9 74.06 610.5 74.69 611.1 75.38 611.7 75.86 612.3 76.00 612.9 76.08 613.5 76.77 614.1 77.69 614.7 78.35 615.3 78.50 615.9 78.79 616.5 79.19 617.1 79.55 617.7 79.72 618.3 80.29 618.9 80.77 619.5 80.93 620.1 80.59 620.7 80.63 621.3 81.06 621.9 81.64 622.5 81.90 623.1 81.93 623.7 81.96 624.3 81.98 624.9 82.29 625.5 82.68 626.1 83.33 626.7 83.28 627.3 83.21 627.9 83.16 628.5 83.44 629.1 83.35 629.7 83.16 630.3 83.38 630.9 83.84 631.5 84.12 632.1 84.36 632.7 84.65 633.3 84.84 633.9 84.79 634.5 84.72 635.1 84.87 635.7 85.17 636.3 85.36 636.9 85.43 637.5 85.39 638.1 85.25 638.7 85.11 639.3 85.42 639.9 85.91 640.5 86.41 641.1 86.50 641.7 86.61 642.3 86.75 642.9 87.05 643.5 86.95 644.1 86.78 644.7 86.81 645.3 86.91 645.9 87.09 646.5 87.43 647.1 87.68 647.7 87.96 648.3 88.03 648.9 88.10 649.5 87.91 650.1 87.98 650.7 88.19 651.3 88.42 651.9 88.90 652.5 89.15 653.1 89.31 653.7 89.16 654.3 88.95 654.9 88.93 655.5 89.03 656.1 89.48 656.7 89.71 657.3 90.17 657.9 90.35 658.5 90.56 659.1 90.47 659.7 90.49 660.3 90.58 660.9 90.83 661.5 90.83 662.1 90.85 662.7 91.28 663.3 91.60 663.9 91.47 664.5 91.09 665.1 90.98 665.7 91.28 666.3 91.64 666.9 91.96 667.5 92.19 668.1 92.75 668.7 92.71 669.3 92.54 669.9 92.47 670.5 92.75 671.1 92.76 671.7 92.78 672.3 93.04 672.9 93.16 M505.5 100.99 506.1 101.04 506.7 101.00 507.3 100.87 507.9 100.58 508.5 100.57 509.1 100.53 509.7 100.27 510.3 99.72 510.9 99.43 511.5 99.19 512.1 99.17 512.7 99.19 513.3 98.93 513.9 98.68 514.5 98.72 515.1 98.96 515.7 98.68 516.3 98.60 516.9 98.46 517.5 98.20 518.1 97.71 518.7 97.70 519.3 97.96 519.9 98.22 520.5 98.13 521.1 97.62 521.7 97.14 522.3 96.86 522.9 96.85 523.5 96.57 524.1 96.49 524.7 96.55 525.3 96.66 525.9 96.51 526.5 96.14 527.1 95.70 527.7 95.34 528.3 95.53 528.9 95.81 529.5 95.66 530.1 95.41 530.7 95.11 531.3 95.15 531.9 94.95 532.5 94.69 533.1 94.35 533.7 94.03 534.3 93.68 534.9 93.13 535.5 93.05 536.1 93.06 536.7 93.02 537.3 92.69 537.9 92.66 538.5 92.45 539.1 92.05 539.7 91.73 540.3 91.83 540.9 91.71 541.5 90.91 542.1 90.19 542.7 89.98 543.3 89.99 543.9 89.97 544.5 89.43 545.1 89.06 545.7 88.52 546.3 88.54 546.9 88.21 547.5 88.07 548.1 87.52 548.7 86.93 549.3 86.26 549.9 85.97 550.5 85.74 551.1 85.74 551.7 85.82 552.3 85.69 552.9 84.96 553.5 84.32 554.1 83.86 554.7 83.83 555.3 83.60 555.9 83.32 556.5 82.63 557.1 81.80 557.7 81.07 558.3 80.56 558.9 80.42 559.5 80.14 560.1 79.67 560.7 78.97 561.3 78.63 561.9 78.07 562.5 77.16 563.1 76.09 563.7 75.27 564.3 74.36 564.9 73.48 565.5 72.86 566.1 71.63 566.7 70.19 567.3 68.80 567.9 67.81 568.5 66.55 569.1 65.30 569.7 64.26 570.3 63.09 570.9 61.85 571.5 60.53 572.1 59.42 572.7 58.23 573.3 57.17 573.9 56.00 574.5 54.73 575.1 53.29 575.7 51.85 576.3 50.43 576.9 49.16 577.5 48.33 578.1 47.51 578.7 46.58 579.3 45.72 579.9 45.20 580.5 44.43 581.1 43.98 581.7 43.69 582.3 43.55 582.9 43.17 583.5 43.00 584.1 42.70 584.7 42.74 585.3 42.72 585.9 42.80 586.5 42.93 587.1 43.34 587.7 43.66 588.3 44.29 588.9 45.70 589.5 46.65 590.1 47.39 590.7 48.21 591.3 49.53 591.9 50.53 592.5 51.67 593.1 53.03 593.7 54.53 594.3 55.91 594.9 57.28 595.5 58.46 596.1 59.51 596.7 60.38 597.3 61.42 597.9 62.65 598.5 63.95 599.1 65.11 599.7 66.13 600.3 67.52 600.9 69.10 601.5 70.36 602.1 71.20 602.7 72.00 603.3 73.30 603.9 74.41 604.5 75.38 605.1 76.05 605.7 76.87 606.3 77.57 606.9 78.47 607.5 79.21 608.1 80.13 608.7 80.83 609.3 81.76 609.9 82.38 610.5 83.09 611.1 83.44 611.7 84.01 612.3 84.44 612.9 85.08 613.5 85.51 614.1 86.15 614.7 86.33 615.3 86.66 615.9 86.84 616.5 87.62 617.1 87.75 617.7 87.96 618.3 87.85 618.9 88.61 619.5 88.97 620.1 89.32 620.7 89.27 621.3 89.37 621.9 89.43 622.5 89.87 623.1 90.35 623.7 90.67 624.3 90.74 624.9 90.87 625.5 90.85 626.1 91.10 626.7 91.58 627.3 91.92 627.9 91.98 628.5 91.75 629.1 91.70 629.7 92.03 630.3 92.21 630.9 92.20 631.5 92.11 632.1 92.39 632.7 92.94 633.3 92.85 633.9 92.88 634.5 92.96 635.1 93.29 635.7 93.17 636.3 93.28 636.9 93.87 637.5 94.02 638.1 93.71 638.7 93.71 639.3 94.33 639.9 94.67 640.5 94.23 641.1 94.25 641.7 94.59 642.3 95.14 642.9 95.12 643.5 95.17 644.1 95.05 644.7 95.41 645.3 95.92 645.9 95.80 646.5 95.40 647.1 95.65 647.7 96.19 648.3 96.16 648.9 95.98 649.5 96.23 650.1 96.55 650.7 96.62 651.3 96.71 651.9 96.80 652.5 97.05 653.1 97.15 653.7 97.25 654.3 97.34 654.9 97.80 655.5 98.10 656.1 98.19 656.7 98.18 657.3 98.35 657.9 98.65 658.5 98.81 659.1 99.11 659.7 99.34 660.3 99.36 660.9 99.08 661.5 99.11 662.1 99.38 662.7 99.53 663.3 99.27 663.9 98.97 664.5 99.13 665.1 99.70 665.7 100.23 666.3 100.10 666.9 100.16 667.5 100.19 668.1 100.47 668.7 100.54 669.3 100.61 669.9 100.52 670.5 100.27 671.1 100.28 671.7 100.27 672.3 100.71 672.9 101.07 M505.5 109.38 506.1 109.34 506.7 109.08 507.3 108.82 507.9 108.63 508.5 108.65 509.1 108.57 509.7 108.34 510.3 108.05 510.9 107.94 511.5 107.92 512.1 107.91 512.7 108.09 513.3 108.00 513.9 107.59 514.5 106.87 515.1 106.70 515.7 106.67 516.3 106.56 516.9 106.42 517.5 106.57 518.1 106.68 518.7 106.40 519.3 106.06 519.9 106.13 520.5 105.91 521.1 105.76 521.7 105.86 522.3 106.07 522.9 105.94 523.5 105.50 524.1 105.13 524.7 104.85 525.3 104.83 525.9 104.72 526.5 104.54 527.1 104.56 527.7 104.75 528.3 104.28 528.9 103.64 529.5 103.10 530.1 103.28 530.7 103.48 531.3 103.62 531.9 103.15 532.5 102.62 533.1 102.32 533.7 102.34 534.3 102.19 534.9 101.95 535.5 101.87 536.1 101.84 536.7 101.42 537.3 100.72 537.9 100.35 538.5 100.38 539.1 100.41 539.7 100.10 540.3 99.68 540.9 99.52 541.5 99.35 542.1 99.13 542.7 98.58 543.3 98.13 543.9 97.83 544.5 97.55 545.1 97.08 545.7 96.67 546.3 96.73 546.9 96.71 547.5 96.61 548.1 96.17 548.7 95.70 549.3 94.96 549.9 94.53 550.5 94.52 551.1 94.56 551.7 94.37 552.3 93.95 552.9 93.56 553.5 93.03 554.1 92.57 554.7 92.31 555.3 92.04 555.9 91.68 556.5 91.19 557.1 90.55 557.7 89.94 558.3 89.33 558.9 89.09 559.5 88.43 560.1 87.87 560.7 87.64 561.3 87.45 561.9 86.55 562.5 85.44 563.1 84.94 563.7 84.26 564.3 83.32 564.9 82.18 565.5 81.10 566.1 80.37 566.7 79.36 567.3 77.96 567.9 76.14 568.5 74.97 569.1 73.96 569.7 72.96 570.3 71.75 570.9 70.25 571.5 68.95 572.1 67.79 572.7 66.72 573.3 65.23 573.9 63.92 574.5 62.64 575.1 61.56 575.7 60.19 576.3 59.01 576.9 57.98 577.5 57.04 578.1 55.98 578.7 54.97 579.3 54.42 579.9 53.45 580.5 52.68 581.1 51.86 581.7 51.71 582.3 51.65 582.9 51.60 583.5 51.37 584.1 50.98 584.7 51.22 585.3 51.49 585.9 51.90 586.5 51.70 587.1 51.64 587.7 52.05 588.3 52.99 588.9 53.91 589.5 54.76 590.1 55.60 590.7 56.71 591.3 57.90 591.9 59.32 592.5 60.37 593.1 61.65 593.7 62.80 594.3 64.23 594.9 65.61 595.5 67.05 596.1 68.17 596.7 69.27 597.3 69.92 597.9 70.99 598.5 72.20 599.1 73.73 599.7 74.72 600.3 75.68 600.9 76.69 601.5 78.02 602.1 79.65 602.7 80.79 603.3 81.53 603.9 82.55 604.5 83.59 605.1 84.83 605.7 85.64 606.3 86.39 606.9 86.99 607.5 88.12 608.1 88.82 608.7 89.47 609.3 90.01 609.9 91.00 610.5 91.43 611.1 91.74 611.7 92.10 612.3 92.94 612.9 94.03 613.5 94.76 614.1 95.18 614.7 95.24 615.3 95.30 615.9 95.56 616.5 95.87 617.1 96.22 617.7 96.21 618.3 96.51 618.9 96.94 619.5 97.93 620.1 98.37 620.7 98.43 621.3 98.27 621.9 98.22 622.5 98.30 623.1 98.14 623.7 98.65 624.3 99.16 624.9 99.39 625.5 99.24 626.1 99.51 626.7 99.97 627.3 100.17 627.9 100.05 628.5 99.98 629.1 100.09 629.7 100.55 630.3 100.70 630.9 100.57 631.5 100.73 632.1 100.96 632.7 101.32 633.3 101.42 633.9 101.78 634.5 102.04 635.1 102.27 635.7 102.33 636.3 102.06 636.9 101.89 637.5 102.01 638.1 102.57 638.7 103.05 639.3 103.42 639.9 103.41 640.5 103.26 641.1 103.19 641.7 103.32 642.3 103.36 642.9 103.19 643.5 103.42 644.1 103.51 644.7 103.77 645.3 103.63 645.9 104.00 646.5 104.03 647.1 104.40 647.7 104.23 648.3 104.34 648.9 104.58 649.5 104.92 650.1 105.03 650.7 104.97 651.3 104.85 651.9 104.93 652.5 105.34 653.1 105.66 653.7 105.76 654.3 105.79 654.9 105.87 655.5 105.91 656.1 106.11 656.7 106.70 657.3 106.74 657.9 106.89 658.5 106.93 659.1 107.00 659.7 106.61 660.3 106.68 660.9 107.14 661.5 107.53 662.1 107.78 662.7 107.95 663.3 107.78 663.9 107.29 664.5 107.41 665.1 107.69 665.7 108.21 666.3 108.39 666.9 108.43 667.5 108.68 668.1 109.08 668.7 109.49 669.3 109.16 669.9 108.94 670.5 108.88 671.1 109.10 671.7 109.11 672.3 109.33 672.9 109.58 M505.5 117.74 506.1 117.54 506.7 117.53 507.3 117.46 507.9 116.94 508.5 116.38 509.1 116.32 509.7 116.78 510.3 116.76 510.9 116.54 511.5 116.17 512.1 116.17 512.7 116.08 513.3 115.91 513.9 115.57 514.5 115.60 515.1 115.55 515.7 115.24 516.3 115.08 516.9 115.05 517.5 115.17 518.1 115.07 518.7 115.24 519.3 115.26 519.9 114.98 520.5 114.57 521.1 114.10 521.7 114.25 522.3 114.34 522.9 114.54 523.5 114.14 524.1 113.53 524.7 113.31 525.3 113.39 525.9 113.48 526.5 113.10 527.1 113.01 527.7 112.93 528.3 112.51 528.9 112.29 529.5 112.09 530.1 112.00 530.7 111.92 531.3 112.07 531.9 111.87 532.5 111.08 533.1 110.70 533.7 110.74 534.3 110.83 534.9 110.39 535.5 109.92 536.1 109.55 536.7 109.53 537.3 109.61 537.9 109.75 538.5 109.37 539.1 108.93 539.7 108.64 540.3 108.41 540.9 108.01 541.5 107.97 542.1 107.89 542.7 107.64 543.3 106.97 543.9 106.57 544.5 105.88 545.1 105.54 545.7 105.48 546.3 105.79 546.9 105.71 547.5 105.27 548.1 104.63 548.7 104.02 549.3 103.56 549.9 103.35 550.5 103.05 551.1 102.83 551.7 102.35 552.3 101.78 552.9 101.10 553.5 100.69 554.1 100.35 554.7 100.31 555.3 100.27 555.9 100.03 556.5 99.64 557.1 99.47 557.7 98.91 558.3 98.39 558.9 97.88 559.5 97.42 560.1 96.76 560.7 95.98 561.3 95.19 561.9 94.51 562.5 94.14 563.1 93.44 563.7 92.50 564.3 91.61 564.9 90.93 565.5 90.06 566.1 88.99 566.7 87.57 567.3 86.10 567.9 84.73 568.5 83.56 569.1 82.31 569.7 81.31 570.3 80.24 570.9 78.89 571.5 77.49 572.1 76.68 572.7 75.72 573.3 74.55 573.9 73.07 574.5 71.63 575.1 70.06 575.7 68.82 576.3 67.98 576.9 66.88 577.5 66.00 578.1 64.82 578.7 63.95 579.3 63.03 579.9 62.55 580.5 61.95 581.1 61.01 581.7 60.48 582.3 60.09 582.9 60.38 583.5 60.23 584.1 60.10 584.7 59.47 585.3 59.37 585.9 59.35 586.5 59.91 587.1 60.41 587.7 61.04 588.3 61.49 588.9 62.25 589.5 63.33 590.1 64.34 590.7 65.07 591.3 66.02 591.9 67.30 592.5 68.67 593.1 70.05 593.7 71.43 594.3 72.78 594.9 73.83 595.5 75.28 596.1 76.65 596.7 77.86 597.3 78.71 597.9 79.58 598.5 80.82 599.1 82.23 599.7 83.33 600.3 84.45 600.9 85.35 601.5 86.47 602.1 87.23 602.7 88.81 603.3 90.22 603.9 91.44 604.5 92.00 605.1 93.01 605.7 93.62 606.3 94.41 606.9 95.50 607.5 96.65 608.1 97.27 608.7 97.77 609.3 98.43 609.9 99.00 610.5 99.71 611.1 100.50 611.7 101.09 612.3 101.44 612.9 101.94 613.5 102.41 614.1 103.14 614.7 103.73 615.3 104.09 615.9 103.88 616.5 104.15 617.1 104.80 617.7 105.33 618.3 105.11 618.9 105.02 619.5 105.57 620.1 106.04 620.7 106.26 621.3 106.39 621.9 106.96 622.5 107.26 623.1 107.33 623.7 107.23 624.3 107.62 624.9 108.07 625.5 108.27 626.1 107.92 626.7 107.73 627.3 108.02 627.9 108.35 628.5 108.69 629.1 108.89 629.7 109.17 630.3 109.27 630.9 109.45 631.5 109.41 632.1 109.33 632.7 109.76 633.3 109.97 633.9 109.90 634.5 109.88 635.1 110.24 635.7 110.25 636.3 109.98 636.9 110.19 637.5 110.68 638.1 111.24 638.7 111.31 639.3 111.37 639.9 111.18 640.5 111.22 641.1 111.16 641.7 111.43 642.3 111.69 642.9 112.12 643.5 112.09 644.1 112.20 644.7 112.22 645.3 112.27 645.9 112.16 646.5 112.19 647.1 112.42 647.7 112.70 648.3 113.04 648.9 113.24 649.5 113.32 650.1 113.45 650.7 113.30 651.3 113.42 651.9 113.50 652.5 113.74 653.1 113.88 653.7 114.19 654.3 114.16 654.9 113.98 655.5 114.04 656.1 114.55 656.7 115.01 657.3 115.31 657.9 115.59 658.5 115.75 659.1 115.70 659.7 115.45 660.3 115.30 660.9 115.36 661.5 115.70 662.1 116.03 662.7 116.22 663.3 116.27 663.9 116.44 664.5 116.63 665.1 116.79 665.7 116.86 666.3 116.87 666.9 116.74 667.5 116.86 668.1 117.19 668.7 117.42 669.3 117.37 669.9 117.75 670.5 117.91 671.1 117.90 671.7 117.74 672.3 117.81 672.9 117.88 M505.5 126.34 506.1 126.44 506.7 126.34 507.3 126.02 507.9 125.77 508.5 125.66 509.1 125.47 509.7 125.20 510.3 124.94 510.9 125.00 511.5 125.02 512.1 124.96 512.7 124.41 513.3 124.28 513.9 124.57 514.5 125.01 515.1 124.62 515.7 123.94 516.3 123.64 516.9 123.48 517.5 123.54 518.1 123.38 518.7 123.49 519.3 123.54 519.9 123.21 520.5 122.81 521.1 122.48 521.7 122.39 522.3 122.07 522.9 122.04 523.5 122.28 524.1 122.05 524.7 121.96 525.3 122.08 525.9 122.28 526.5 121.97 527.1 121.50 527.7 121.04 528.3 120.81 528.9 120.78 529.5 120.88 530.1 121.03 530.7 120.99 531.3 120.68 531.9 120.33 532.5 119.89 533.1 119.32 533.7 118.85 534.3 118.79 534.9 118.85 535.5 118.72 536.1 118.82 536.7 118.82 537.3 118.75 537.9 118.15 538.5 117.71 539.1 117.51 539.7 117.15 540.3 116.73 540.9 116.50 541.5 116.41 542.1 116.27 542.7 116.11 543.3 115.62 543.9 114.99 544.5 114.41 545.1 114.26 545.7 113.86 546.3 113.74 546.9 113.48 547.5 113.42 548.1 112.98 548.7 112.34 549.3 112.09 549.9 111.94 550.5 111.95 551.1 111.51 551.7 111.27 552.3 111.02 552.9 110.73 553.5 110.41 554.1 109.60 554.7 109.16 555.3 108.64 555.9 108.39 556.5 107.85 557.1 107.51 557.7 107.34 558.3 106.66 558.9 105.97 559.5 105.23 560.1 105.14 560.7 104.63 561.3 104.15 561.9 103.33 562.5 102.75 563.1 102.09 563.7 101.22 564.3 100.10 564.9 98.76 565.5 97.77 566.1 96.90 566.7 95.88 567.3 94.72 567.9 93.12 568.5 91.55 569.1 90.00 569.7 89.08 570.3 88.22 570.9 87.26 571.5 86.13 572.1 85.05 572.7 83.85 573.3 82.42 573.9 80.88 574.5 80.01 575.1 78.74 575.7 77.41 576.3 76.20 576.9 75.59 577.5 74.45 578.1 73.27 578.7 72.49 579.3 72.00 579.9 71.11 580.5 70.32 581.1 69.71 581.7 69.60 582.3 69.44 582.9 69.09 583.5 68.38 584.1 68.01 584.7 68.32 585.3 68.72 585.9 68.80 586.5 69.16 587.1 69.36 587.7 69.70 588.3 70.00 588.9 70.95 589.5 71.82 590.1 73.10 590.7 74.06 591.3 74.97 591.9 75.71 592.5 77.11 593.1 78.49 593.7 80.01 594.3 81.06 594.9 82.19 595.5 83.51 596.1 84.90 596.7 86.17 597.3 87.32 597.9 88.47 598.5 89.26 599.1 90.43 599.7 91.77 600.3 93.25 600.9 93.99 601.5 94.71 602.1 95.40 602.7 96.65 603.3 98.19 603.9 99.72 604.5 100.78 605.1 101.52 605.7 102.43 606.3 103.26 606.9 104.06 607.5 104.78 608.1 105.23 608.7 105.71 609.3 106.67 609.9 107.67 610.5 108.24 611.1 108.55 611.7 109.09 612.3 109.82 612.9 110.47 613.5 110.80 614.1 110.60 614.7 110.91 615.3 111.34 615.9 111.88 616.5 112.47 617.1 113.35 617.7 113.62 618.3 113.77 618.9 114.12 619.5 114.50 620.1 114.65 620.7 114.62 621.3 114.65 621.9 114.53 622.5 114.79 623.1 115.29 623.7 115.58 624.3 115.63 624.9 115.53 625.5 115.93 626.1 116.27 626.7 116.67 627.3 116.75 627.9 116.69 628.5 116.61 629.1 116.91 629.7 117.14 630.3 117.35 630.9 117.82 631.5 118.08 632.1 118.06 632.7 118.16 633.3 118.34 633.9 118.23 634.5 117.98 635.1 118.26 635.7 118.66 636.3 118.93 636.9 118.97 637.5 119.21 638.1 119.55 638.7 119.44 639.3 119.26 639.9 119.34 640.5 119.79 641.1 119.92 641.7 119.89 642.3 119.83 642.9 119.74 643.5 119.90 644.1 120.10 644.7 120.54 645.3 120.58 645.9 120.67 646.5 120.62 647.1 120.72 647.7 121.03 648.3 121.33 648.9 121.63 649.5 121.54 650.1 121.69 650.7 121.57 651.3 121.71 651.9 121.82 652.5 122.29 653.1 122.58 653.7 122.74 654.3 122.89 654.9 123.08 655.5 123.28 656.1 123.42 656.7 123.52 657.3 123.48 657.9 123.53 658.5 123.64 659.1 123.82 659.7 124.10 660.3 124.45 660.9 124.45 661.5 124.15 662.1 124.09 662.7 124.31 663.3 124.78 663.9 124.91 664.5 124.94 665.1 125.01 665.7 125.16 666.3 125.22 666.9 125.50 667.5 126.00 668.1 126.22 668.7 126.08 669.3 125.80 669.9 125.84 670.5 126.00 671.1 126.26 671.7 126.21 672.3 126.27 672.9 126.38 M505.5 134.45 506.1 134.55 506.7 134.56 507.3 134.09 507.9 133.50 508.5 133.12 509.1 133.09 509.7 133.23 510.3 133.47 510.9 133.37 511.5 133.15 512.1 132.89 512.7 132.60 513.3 132.19 513.9 132.05 514.5 132.39 515.1 132.39 515.7 132.45 516.3 132.45 516.9 132.52 517.5 132.13 518.1 131.73 518.7 131.60 519.3 131.62 519.9 131.62 520.5 131.61 521.1 131.60 521.7 131.53 522.3 131.24 522.9 130.91 523.5 130.74 524.1 130.40 524.7 130.24 525.3 130.13 525.9 130.00 526.5 130.05 527.1 129.85 527.7 129.53 528.3 129.08 528.9 128.82 529.5 128.55 530.1 128.16 530.7 128.09 531.3 128.04 531.9 128.18 532.5 128.32 533.1 128.32 533.7 128.24 534.3 127.98 534.9 127.56 535.5 127.29 536.1 127.00 536.7 126.67 537.3 126.50 537.9 126.57 538.5 126.41 539.1 126.00 539.7 125.77 540.3 125.26 540.9 124.74 541.5 124.20 542.1 124.06 542.7 123.74 543.3 123.77 543.9 123.61 544.5 123.23 545.1 122.64 545.7 122.11 546.3 121.86 546.9 121.69 547.5 121.63 548.1 121.01 548.7 120.46 549.3 120.27 549.9 120.34 550.5 120.25 551.1 119.70 551.7 119.29 552.3 118.78 552.9 118.61 553.5 118.28 554.1 118.13 554.7 117.65 555.3 117.17 555.9 116.53 556.5 115.92 557.1 115.53 557.7 115.34 558.3 114.82 558.9 114.06 559.5 113.63 560.1 113.64 560.7 113.47 561.3 112.99 561.9 111.85 562.5 110.85 563.1 110.09 563.7 109.56 564.3 108.68 564.9 107.58 565.5 106.73 566.1 105.91 566.7 104.75 567.3 103.05 567.9 101.86 568.5 100.73 569.1 99.74 569.7 98.62 570.3 97.42 570.9 95.96 571.5 94.50 572.1 93.50 572.7 92.37 573.3 91.52 573.9 90.41 574.5 89.04 575.1 87.61 575.7 86.27 576.3 84.94 576.9 83.98 577.5 83.04 578.1 81.98 578.7 80.79 579.3 79.94 579.9 78.87 580.5 78.30 581.1 77.96 581.7 77.71 582.3 77.21 582.9 76.92 583.5 76.57 584.1 76.48 584.7 76.95 585.3 77.34 585.9 77.51 586.5 77.21 587.1 77.34 587.7 77.53 588.3 78.46 588.9 79.39 589.5 80.48 590.1 81.32 590.7 82.30 591.3 83.16 591.9 84.40 592.5 85.62 593.1 86.83 593.7 87.97 594.3 89.35 594.9 90.74 595.5 92.17 596.1 93.53 596.7 94.67 597.3 95.70 597.9 96.96 598.5 97.86 599.1 98.93 599.7 99.90 600.3 101.07 600.9 102.14 601.5 103.43 602.1 104.82 602.7 106.14 603.3 106.94 603.9 107.69 604.5 108.89 605.1 110.37 605.7 111.42 606.3 112.01 606.9 112.40 607.5 112.72 608.1 113.57 608.7 114.74 609.3 115.49 609.9 115.90 610.5 116.44 611.1 116.91 611.7 117.36 612.3 118.17 612.9 119.37 613.5 119.92 614.1 120.31 614.7 120.46 615.3 120.68 615.9 120.47 616.5 121.00 617.1 121.57 617.7 122.48 618.3 122.79 618.9 123.02 619.5 122.63 620.1 122.93 620.7 123.22 621.3 123.58 621.9 123.23 622.5 123.50 623.1 124.01 623.7 124.42 624.3 124.39 624.9 124.49 625.5 124.90 626.1 125.09 626.7 125.41 627.3 125.47 627.9 125.42 628.5 125.23 629.1 125.04 629.7 125.05 630.3 125.50 630.9 126.15 631.5 126.25 632.1 126.23 632.7 126.08 633.3 126.17 633.9 126.41 634.5 126.99 635.1 127.05 635.7 127.16 636.3 127.54 636.9 127.77 637.5 127.75 638.1 127.42 638.7 127.20 639.3 127.29 639.9 127.78 640.5 128.20 641.1 128.16 641.7 128.20 642.3 128.44 642.9 128.98 643.5 129.17 644.1 128.84 644.7 128.84 645.3 129.24 645.9 129.69 646.5 129.67 647.1 130.04 647.7 130.20 648.3 130.27 648.9 129.80 649.5 129.72 650.1 129.75 650.7 130.15 651.3 130.46 651.9 130.60 652.5 130.95 653.1 131.00 653.7 131.03 654.3 130.97 654.9 131.11 655.5 131.32 656.1 131.60 656.7 131.88 657.3 132.16 657.9 132.31 658.5 132.43 659.1 132.14 659.7 131.93 660.3 131.88 660.9 132.15 661.5 132.47 662.1 132.80 662.7 132.67 663.3 132.53 663.9 132.32 664.5 132.96 665.1 133.32 665.7 133.54 666.3 133.29 666.9 133.59 667.5 133.82 668.1 134.07 668.7 133.77 669.3 134.01 669.9 134.31 670.5 134.77 671.1 134.89 671.7 134.95 672.3 134.88 672.9 134.81 M505.5 143.06 506.1 142.87 506.7 142.61 507.3 142.36 507.9 142.35 508.5 142.41 509.1 142.37 509.7 142.38 510.3 141.97 510.9 141.64 511.5 141.56 512.1 141.70 512.7 141.26 513.3 141.03 513.9 141.21 514.5 141.11 515.1 140.81 515.7 140.56 516.3 140.33 516.9 140.06 517.5 140.09 518.1 139.99 518.7 139.81 519.3 139.64 519.9 139.66 520.5 139.64 521.1 139.76 521.7 139.59 522.3 139.19 522.9 138.69 523.5 138.57 524.1 138.91 524.7 139.17 525.3 138.92 525.9 138.59 526.5 138.21 527.1 138.19 527.7 137.93 528.3 137.98 528.9 137.80 529.5 137.64 530.1 137.35 530.7 136.95 531.3 136.73 531.9 136.71 532.5 137.37 533.1 137.45 533.7 136.93 534.3 135.94 534.9 135.74 535.5 135.37 536.1 135.06 536.7 134.77 537.3 134.67 537.9 134.71 538.5 134.71 539.1 134.53 539.7 133.86 540.3 133.22 540.9 132.77 541.5 132.62 542.1 132.71 542.7 132.67 543.3 132.32 543.9 131.83 544.5 131.47 545.1 130.94 545.7 130.62 546.3 130.55 546.9 130.73 547.5 130.34 548.1 129.67 548.7 129.38 549.3 129.50 549.9 129.04 550.5 128.29 551.1 127.80 551.7 127.92 552.3 127.58 552.9 127.20 553.5 126.69 554.1 126.77 554.7 126.50 555.3 126.04 555.9 125.20 556.5 124.87 557.1 124.63 557.7 124.05 558.3 123.37 558.9 122.66 559.5 122.16 560.1 121.46 560.7 120.90 561.3 120.33 561.9 119.79 562.5 119.35 563.1 118.86 563.7 118.10 564.3 116.85 564.9 115.82 565.5 114.63 566.1 113.29 566.7 112.12 567.3 111.44 567.9 110.64 568.5 109.31 569.1 107.78 569.7 106.33 570.3 105.30 570.9 104.25 571.5 102.98 572.1 101.51 572.7 100.23 573.3 99.30 573.9 98.48 574.5 97.21 575.1 95.56 575.7 94.15 576.3 93.23 576.9 92.15 577.5 91.14 578.1 89.89 578.7 88.91 579.3 88.21 579.9 87.98 580.5 87.35 581.1 86.53 581.7 86.14 582.3 86.04 582.9 85.74 583.5 85.46 584.1 85.43 584.7 85.57 585.3 85.66 585.9 85.69 586.5 85.72 587.1 85.97 587.7 86.27 588.3 86.72 588.9 87.75 589.5 88.76 590.1 89.89 590.7 90.95 591.3 92.25 591.9 93.35 592.5 94.64 593.1 96.09 593.7 97.25 594.3 98.29 594.9 99.27 595.5 100.79 596.1 102.26 596.7 103.29 597.3 104.04 597.9 105.00 598.5 106.28 599.1 107.55 599.7 109.14 600.3 110.10 600.9 111.16 601.5 112.17 602.1 113.44 602.7 114.31 603.3 115.26 603.9 116.37 604.5 117.53 605.1 118.32 605.7 119.26 606.3 120.03 606.9 121.21 607.5 121.94 608.1 122.87 608.7 123.48 609.3 124.23 609.9 124.72 610.5 125.08 611.1 125.56 611.7 126.30 612.3 127.28 612.9 127.46 613.5 127.60 614.1 128.00 614.7 128.64 615.3 128.96 615.9 129.58 616.5 130.49 617.1 130.69 617.7 130.77 618.3 131.11 618.9 131.60 619.5 131.65 620.1 131.72 620.7 131.67 621.3 131.68 621.9 131.97 622.5 132.37 623.1 132.87 623.7 132.97 624.3 132.64 624.9 132.37 625.5 132.73 626.1 133.34 626.7 133.56 627.3 133.54 627.9 133.82 628.5 133.98 629.1 134.25 629.7 134.20 630.3 134.21 630.9 134.41 631.5 134.34 632.1 134.33 632.7 134.40 633.3 134.92 633.9 135.25 634.5 135.35 635.1 135.42 635.7 135.73 636.3 135.97 636.9 136.02 637.5 135.66 638.1 135.66 638.7 135.92 639.3 136.36 639.9 136.60 640.5 136.49 641.1 136.61 641.7 136.55 642.3 136.62 642.9 136.68 643.5 136.95 644.1 137.13 644.7 137.25 645.3 137.35 645.9 137.73 646.5 138.21 647.1 138.59 647.7 138.49 648.3 138.60 648.9 138.73 649.5 139.03 650.1 139.40 650.7 139.44 651.3 139.30 651.9 139.10 652.5 138.73 653.1 138.44 653.7 138.69 654.3 139.52 654.9 139.80 655.5 140.04 656.1 140.35 656.7 140.51 657.3 140.60 657.9 140.89 658.5 141.16 659.1 140.86 659.7 140.87 660.3 141.02 660.9 141.15 661.5 141.05 662.1 141.14 662.7 141.45 663.3 141.75 663.9 142.11 664.5 142.18 665.1 142.03 665.7 141.87 666.3 142.06 666.9 142.28 667.5 142.79 668.1 142.91 668.7 142.83 669.3 142.66 669.9 143.01 670.5 143.18 671.1 143.04 671.7 143.09 672.3 143.36 672.9 143.53 M505.5 151.38 506.1 151.27 506.7 151.19 507.3 151.24 507.9 150.58 508.5 150.01 509.1 149.76 509.7 150.07 510.3 150.13 510.9 150.28 511.5 150.32 512.1 150.14 512.7 149.84 513.3 149.90 513.9 149.79 514.5 149.60 515.1 149.50 515.7 149.59 516.3 149.06 516.9 148.65 517.5 148.54 518.1 148.68 518.7 148.67 519.3 148.74 519.9 148.56 520.5 148.37 521.1 148.29 521.7 148.19 522.3 147.94 522.9 147.78 523.5 147.56 524.1 147.27 524.7 147.07 525.3 146.85 525.9 146.52 526.5 146.53 527.1 146.60 527.7 146.54 528.3 146.17 528.9 146.03 529.5 145.87 530.1 145.73 530.7 145.43 531.3 145.34 531.9 145.14 532.5 145.15 533.1 144.62 533.7 144.23 534.3 144.07 534.9 144.24 535.5 144.03 536.1 143.70 536.7 143.40 537.3 143.21 537.9 142.65 538.5 142.38 539.1 142.10 539.7 142.23 540.3 142.21 540.9 141.91 541.5 141.69 542.1 141.30 542.7 140.70 543.3 139.72 543.9 139.71 544.5 139.89 545.1 139.75 545.7 139.07 546.3 138.60 546.9 138.57 547.5 138.48 548.1 138.54 548.7 138.09 549.3 137.35 549.9 136.79 550.5 136.62 551.1 136.56 551.7 136.35 552.3 136.13 552.9 135.91 553.5 135.40 554.1 134.91 554.7 134.40 555.3 133.99 555.9 133.83 556.5 133.57 557.1 133.23 557.7 132.64 558.3 132.15 558.9 131.63 559.5 131.15 560.1 130.59 560.7 130.14 561.3 129.33 561.9 128.68 562.5 128.01 563.1 127.25 563.7 126.23 564.3 125.17 564.9 124.40 565.5 123.40 566.1 122.40 566.7 121.42 567.3 120.42 567.9 118.83 568.5 117.32 569.1 116.33 569.7 115.40 570.3 114.30 570.9 113.13 571.5 112.04 572.1 110.65 572.7 109.27 573.3 107.98 573.9 106.85 574.5 105.77 575.1 104.62 575.7 103.30 576.3 101.99 576.9 100.89 577.5 99.73 578.1 98.62 578.7 97.61 579.3 96.99 579.9 96.33 580.5 95.74 581.1 95.10 581.7 94.82 582.3 94.68 582.9 94.28 583.5 93.85 584.1 93.55 584.7 93.90 585.3 93.98 585.9 94.14 586.5 94.18 587.1 94.60 587.7 95.05 588.3 95.92 588.9 96.91 589.5 97.93 590.1 98.86 590.7 99.72 591.3 100.86 591.9 102.11 592.5 103.58 593.1 104.46 593.7 105.64 594.3 106.87 594.9 108.09 595.5 109.44 596.1 110.78 596.7 111.92 597.3 112.74 597.9 113.98 598.5 115.38 599.1 116.60 599.7 117.75 600.3 118.96 600.9 119.84 601.5 120.59 602.1 121.39 602.7 122.67 603.3 124.08 603.9 125.40 604.5 126.14 605.1 126.69 605.7 127.65 606.3 128.63 606.9 129.39 607.5 130.07 608.1 130.64 608.7 131.38 609.3 132.19 609.9 133.17 610.5 133.53 611.1 133.88 611.7 134.28 612.3 135.01 612.9 135.68 613.5 136.26 614.1 136.96 614.7 137.69 615.3 137.98 615.9 137.92 616.5 138.37 617.1 138.89 617.7 139.38 618.3 139.71 618.9 139.94 619.5 139.82 620.1 139.83 620.7 140.01 621.3 140.06 621.9 140.17 622.5 140.64 623.1 140.96 623.7 141.09 624.3 141.08 624.9 141.09 625.5 141.46 626.1 141.47 626.7 141.55 627.3 141.65 627.9 142.01 628.5 142.25 629.1 142.61 629.7 142.86 630.3 142.84 630.9 142.68 631.5 142.95 632.1 143.15 632.7 143.46 633.3 143.72 633.9 143.97 634.5 144.22 635.1 144.28 635.7 144.12 636.3 143.98 636.9 144.16 637.5 144.26 638.1 144.44 638.7 144.64 639.3 144.98 639.9 144.78 640.5 144.85 641.1 145.01 641.7 145.24 642.3 145.34 642.9 145.13 643.5 145.41 644.1 145.54 644.7 145.54 645.3 145.28 645.9 145.52 646.5 146.07 647.1 146.28 647.7 146.51 648.3 146.48 648.9 147.03 649.5 147.36 650.1 147.85 650.7 147.57 651.3 147.58 651.9 147.36 652.5 147.65 653.1 147.87 653.7 147.91 654.3 147.67 654.9 147.55 655.5 147.69 656.1 147.86 656.7 148.06 657.3 148.18 657.9 148.41 658.5 148.84 659.1 149.00 659.7 148.93 660.3 149.01 660.9 149.32 661.5 149.41 662.1 149.63 662.7 149.98 663.3 150.31 663.9 150.26 664.5 150.51 665.1 150.89 665.7 150.97 666.3 150.66 666.9 150.70 667.5 150.82 668.1 150.91 668.7 150.91 669.3 151.02 669.9 151.00 670.5 150.89 671.1 150.96 671.7 150.85 672.3 151.46 672.9 151.86 M505.5 160.17 506.1 160.08 506.7 159.83 507.3 159.74 507.9 159.74 508.5 159.59 509.1 159.13 509.7 158.83 510.3 158.55 510.9 158.34 511.5 157.95 512.1 157.97 512.7 158.26 513.3 158.13 513.9 158.09 514.5 158.19 515.1 158.21 515.7 157.67 516.3 157.32 516.9 157.43 517.5 157.38 518.1 157.04 518.7 156.79 519.3 156.48 519.9 156.43 520.5 156.53 521.1 156.80 521.7 156.72 522.3 156.50 522.9 156.41 523.5 156.18 524.1 155.80 524.7 155.45 525.3 155.30 525.9 155.46 526.5 155.64 527.1 155.57 527.7 155.04 528.3 154.46 528.9 154.20 529.5 154.37 530.1 154.43 530.7 154.23 531.3 153.70 531.9 153.57 532.5 153.52 533.1 153.41 533.7 153.09 534.3 153.11 534.9 152.97 535.5 152.91 536.1 152.73 536.7 152.52 537.3 152.11 537.9 151.72 538.5 151.29 539.1 150.82 539.7 150.47 540.3 150.36 540.9 150.19 541.5 150.09 542.1 149.87 542.7 149.11 543.3 148.56 543.9 148.03 544.5 148.10 545.1 147.71 545.7 147.63 546.3 147.54 546.9 147.17 547.5 146.72 548.1 146.29 548.7 145.95 549.3 145.62 549.9 145.46 550.5 145.33 551.1 144.78 551.7 144.93 552.3 144.82 552.9 144.14 553.5 143.10 554.1 142.79 554.7 142.66 555.3 142.40 555.9 141.91 556.5 141.59 557.1 141.18 557.7 140.63 558.3 139.93 558.9 139.50 559.5 139.38 560.1 139.14 560.7 138.59 561.3 137.86 561.9 137.21 562.5 136.89 563.1 136.09 563.7 135.12 564.3 134.03 564.9 133.01 565.5 131.87 566.1 130.77 566.7 129.69 567.3 128.50 567.9 127.46 568.5 126.52 569.1 125.24 569.7 123.87 570.3 122.90 570.9 121.70 571.5 120.36 572.1 119.03 572.7 118.08 573.3 116.94 573.9 115.66 574.5 114.48 575.1 113.34 575.7 112.05 576.3 110.69 576.9 109.40 577.5 108.38 578.1 107.44 578.7 106.43 579.3 105.72 579.9 105.31 580.5 105.11 581.1 104.65 581.7 103.85 582.3 103.41 582.9 102.97 583.5 102.76 584.1 102.67 584.7 102.62 585.3 102.61 585.9 102.64 586.5 103.02 587.1 103.10 587.7 103.49 588.3 104.15 588.9 105.25 589.5 106.39 590.1 107.22 590.7 107.88 591.3 108.81 591.9 110.03 592.5 111.12 593.1 112.43 593.7 113.88 594.3 115.02 594.9 116.04 595.5 117.37 596.1 118.67 596.7 119.70 597.3 121.05 597.9 122.72 598.5 123.75 599.1 124.31 599.7 125.31 600.3 126.59 600.9 127.81 601.5 128.87 602.1 130.25 602.7 131.05 603.3 131.70 603.9 132.46 604.5 133.99 605.1 135.30 605.7 136.04 606.3 136.71 606.9 137.76 607.5 138.76 608.1 139.33 608.7 139.99 609.3 140.92 609.9 141.67 610.5 142.25 611.1 142.67 611.7 143.12 612.3 143.42 612.9 143.95 613.5 144.50 614.1 145.04 614.7 145.60 615.3 146.21 615.9 146.77 616.5 146.80 617.1 147.02 617.7 147.20 618.3 147.52 618.9 147.55 619.5 148.05 620.1 148.62 620.7 148.83 621.3 148.60 621.9 148.65 622.5 148.93 623.1 149.50 623.7 149.56 624.3 149.36 624.9 149.22 625.5 149.68 626.1 150.14 626.7 150.45 627.3 150.95 627.9 151.10 628.5 150.94 629.1 150.50 629.7 150.68 630.3 151.13 630.9 151.52 631.5 151.74 632.1 151.82 632.7 152.16 633.3 152.24 633.9 152.15 634.5 151.88 635.1 151.75 635.7 151.72 636.3 151.97 636.9 152.55 637.5 153.26 638.1 153.39 638.7 153.25 639.3 152.90 639.9 153.14 640.5 153.47 641.1 153.64 641.7 153.68 642.3 153.90 642.9 153.84 643.5 153.86 644.1 154.06 644.7 154.38 645.3 154.32 645.9 154.69 646.5 155.23 647.1 155.69 647.7 155.41 648.3 155.07 648.9 155.09 649.5 155.29 650.1 155.31 650.7 155.07 651.3 155.61 651.9 156.19 652.5 156.63 653.1 156.49 653.7 156.39 654.3 156.36 654.9 156.55 655.5 156.68 656.1 156.99 656.7 157.05 657.3 157.07 657.9 157.18 658.5 157.47 659.1 157.73 659.7 157.63 660.3 157.39 660.9 157.42 661.5 157.54 662.1 158.06 662.7 157.99 663.3 157.89 663.9 157.88 664.5 158.40 665.1 158.82 665.7 158.69 666.3 158.81 666.9 158.79 667.5 158.90 668.1 158.81 668.7 159.07 669.3 159.40 669.9 159.59 670.5 159.77 671.1 159.91 671.7 159.87 672.3 159.59 672.9 159.62 M505.5 167.93 506.1 167.84 506.7 167.52 507.3 167.48 507.9 167.56 508.5 167.70 509.1 167.21 509.7 166.91 510.3 166.80 510.9 166.94 511.5 166.86 512.1 166.90 512.7 166.66 513.3 166.71 513.9 166.23 514.5 165.84 515.1 165.65 515.7 165.73 516.3 165.77 516.9 165.52 517.5 165.54 518.1 165.24 518.7 165.19 519.3 165.11 519.9 165.14 520.5 165.00 521.1 165.15 521.7 165.16 522.3 164.83 522.9 164.45 523.5 164.52 524.1 164.69 524.7 164.69 525.3 164.30 525.9 163.98 526.5 163.82 527.1 163.80 527.7 163.45 528.3 162.68 528.9 162.26 529.5 162.44 530.1 162.56 530.7 162.21 531.3 161.87 531.9 162.09 532.5 162.25 533.1 161.81 533.7 161.37 534.3 161.15 534.9 161.05 535.5 160.73 536.1 160.74 536.7 161.01 537.3 160.84 537.9 159.90 538.5 159.28 539.1 159.12 539.7 159.23 540.3 158.92 540.9 159.06 541.5 158.94 542.1 158.34 542.7 157.57 543.3 157.31 543.9 157.07 544.5 156.71 545.1 156.57 545.7 156.38 546.3 155.87 546.9 155.35 547.5 155.14 548.1 154.97 548.7 154.81 549.3 154.64 549.9 154.24 550.5 153.71 551.1 153.65 551.7 153.80 552.3 153.39 552.9 152.81 553.5 152.18 554.1 151.53 554.7 151.07 555.3 150.93 555.9 150.81 556.5 150.32 557.1 149.88 557.7 149.30 558.3 148.87 558.9 148.53 559.5 148.14 560.1 147.65 560.7 146.77 561.3 145.97 561.9 145.49 562.5 145.44 563.1 144.82 563.7 143.64 564.3 142.23 564.9 141.20 565.5 140.40 566.1 139.32 566.7 138.08 567.3 136.94 567.9 136.00 568.5 134.55 569.1 133.31 569.7 131.93 570.3 131.05 570.9 129.97 571.5 128.78 572.1 127.52 572.7 126.63 573.3 125.53 573.9 124.38 574.5 122.96 575.1 121.67 575.7 120.34 576.3 118.99 576.9 117.81 577.5 116.81 578.1 116.21 578.7 115.04 579.3 114.21 579.9 113.36 580.5 112.64 581.1 111.99 581.7 111.61 582.3 111.66 582.9 111.40 583.5 111.10 584.1 110.67 584.7 110.80 585.3 111.05 585.9 111.42 586.5 111.66 587.1 111.78 587.7 112.06 588.3 112.89 588.9 113.94 589.5 114.80 590.1 115.26 590.7 116.42 591.3 117.96 591.9 119.43 592.5 120.35 593.1 121.37 593.7 122.39 594.3 123.49 594.9 124.75 595.5 125.98 596.1 126.96 596.7 128.08 597.3 129.49 597.9 130.84 598.5 131.99 599.1 132.76 599.7 133.82 600.3 135.02 600.9 136.28 601.5 137.13 602.1 138.31 602.7 139.57 603.3 140.90 603.9 141.85 604.5 142.97 605.1 143.79 605.7 144.44 606.3 145.11 606.9 145.98 607.5 147.06 608.1 147.80 608.7 148.44 609.3 149.14 609.9 150.09 610.5 150.89 611.1 151.48 611.7 151.95 612.3 152.46 612.9 152.95 613.5 153.43 614.1 153.77 614.7 154.09 615.3 154.83 615.9 155.35 616.5 155.55 617.1 155.47 617.7 155.74 618.3 156.09 618.9 156.24 619.5 156.11 620.1 156.30 620.7 156.55 621.3 156.99 621.9 157.25 622.5 157.84 623.1 158.28 623.7 158.51 624.3 158.35 624.9 158.04 625.5 158.00 626.1 158.26 626.7 158.33 627.3 158.51 627.9 158.76 628.5 159.32 629.1 159.44 629.7 159.55 630.3 159.51 630.9 159.58 631.5 159.45 632.1 159.65 632.7 160.17 633.3 160.66 633.9 160.76 634.5 160.52 635.1 160.76 635.7 160.84 636.3 161.12 636.9 161.12 637.5 161.18 638.1 161.28 638.7 161.49 639.3 161.74 639.9 161.78 640.5 161.92 641.1 161.94 641.7 162.05 642.3 162.17 642.9 162.32 643.5 162.31 644.1 162.24 644.7 162.23 645.3 162.43 645.9 162.80 646.5 163.24 647.1 163.25 647.7 163.26 648.3 162.98 648.9 163.10 649.5 163.20 650.1 163.35 650.7 163.28 651.3 163.53 651.9 164.12 652.5 164.51 653.1 164.49 653.7 164.90 654.3 165.17 654.9 165.18 655.5 165.20 656.1 165.57 656.7 165.72 657.3 165.72 657.9 165.86 658.5 166.08 659.1 166.09 659.7 166.01 660.3 166.12 660.9 166.32 661.5 166.41 662.1 166.21 662.7 166.46 663.3 166.76 663.9 166.93 664.5 167.02 665.1 167.24 665.7 167.09 666.3 167.12 666.9 167.47 667.5 167.95 668.1 168.21 668.7 168.27 669.3 168.30 669.9 168.43 670.5 168.48 671.1 168.64 671.7 168.87 672.3 169.14 672.9 168.94" fill="none" stroke="#7028f6" stroke-width="1" stroke-linejoin="round"/>
<path d="M505.5 170.9V4.0H673.0V170.9" fill="none" stroke="#6c6c6c" stroke-width="1"/>
<path d="M505.0 170.9H673.5" stroke="#555" stroke-width="1.2"/>
<path d="M539.0 170.9v-3M572.5 170.9v-3M606.0 170.9v-3M639.5 170.9v-3" stroke="#555" stroke-width="1"/>
<text x="505.5" y="182.6" font-size="10.2" text-anchor="middle" fill="#222" font-weight="normal" >1.6</text>
<text x="539.0" y="182.6" font-size="10.2" text-anchor="middle" fill="#222" font-weight="normal" >1.7</text>
<text x="572.5" y="182.6" font-size="10.2" text-anchor="middle" fill="#222" font-weight="normal" >1.8</text>
<text x="606.0" y="182.6" font-size="10.2" text-anchor="middle" fill="#222" font-weight="normal" >1.9</text>
<text x="639.5" y="182.6" font-size="10.2" text-anchor="middle" fill="#222" font-weight="normal" >2.0</text>
<text x="673.0" y="182.6" font-size="10.2" text-anchor="middle" fill="#222" font-weight="normal" >2.1</text>
<text x="589" y="201.5" font-size="10" text-anchor="middle" fill="#222" font-weight="normal" >Energy (eV)</text>
<text transform="translate(494.2 87.2) rotate(-90)" font-size="10" text-anchor="middle" fill="#222">PL Intensity (a.u.)</text>
<text x="509.1" y="17.7" font-size="11.6" text-anchor="start" fill="#1c1c1c" font-weight="normal" >2% Nb-doped</text>
<clipPath id="afmclip"><rect x="27.3" y="232.3" width="174.9" height="174.0"/></clipPath>
<g clip-path="url(#afmclip)"><g filter="url(#afm)"><g filter="url(#blur2)">
<path fill="rgb(102,102,102)" d="M57.3 257.3h5.3v5.3h-5.3zM57.3 262.3h5.3v5.3h-5.3z"/><path fill="rgb(104,104,104)" d="M57.3 252.3h5.3v5.3h-5.3zM62.3 257.3h5.3v5.3h-5.3zM67.3 257.3h5.3v5.3h-5.3zM72.3 257.3h5.3v5.3h-5.3zM77.3 257.3h5.3v5.3h-5.3zM62.3 262.3h5.3v5.3h-5.3zM77.3 262.3h5.3v5.3h-5.3zM57.3 267.3h5.3v5.3h-5.3zM57.3 277.3h5.3v5.3h-5.3zM72.3 282.3h5.3v5.3h-5.3z"/><path fill="rgb(106,106,106)" d="M57.3 237.3h5.3v5.3h-5.3zM57.3 242.3h5.3v5.3h-5.3zM57.3 247.3h5.3v5.3h-5.3zM62.3 252.3h5.3v5.3h-5.3zM67.3 252.3h5.3v5.3h-5.3zM72.3 252.3h5.3v5.3h-5.3zM67.3 262.3h5.3v5.3h-5.3zM72.3 262.3h5.3v5.3h-5.3zM62.3 267.3h5.3v5.3h-5.3zM57.3 272.3h5.3v5.3h-5.3zM62.3 277.3h5.3v5.3h-5.3zM67.3 277.3h5.3v5.3h-5.3zM72.3 277.3h5.3v5.3h-5.3zM77.3 277.3h5.3v5.3h-5.3zM57.3 282.3h5.3v5.3h-5.3zM67.3 282.3h5.3v5.3h-5.3zM77.3 282.3h5.3v5.3h-5.3zM47.3 327.3h5.3v5.3h-5.3zM52.3 327.3h5.3v5.3h-5.3zM57.3 327.3h5.3v5.3h-5.3zM17.3 337.3h5.3v5.3h-5.3z"/><path fill="rgb(108,108,108)" d="M82.3 227.3h5.3v5.3h-5.3zM57.3 232.3h5.3v5.3h-5.3zM77.3 232.3h5.3v5.3h-5.3zM82.3 232.3h5.3v5.3h-5.3zM62.3 242.3h5.3v5.3h-5.3zM62.3 247.3h5.3v5.3h-5.3zM52.3 252.3h5.3v5.3h-5.3zM77.3 252.3h5.3v5.3h-5.3zM52.3 257.3h5.3v5.3h-5.3zM82.3 257.3h5.3v5.3h-5.3zM52.3 262.3h5.3v5.3h-5.3zM82.3 262.3h5.3v5.3h-5.3zM52.3 267.3h5.3v5.3h-5.3zM47.3 272.3h5.3v5.3h-5.3zM52.3 272.3h5.3v5.3h-5.3zM62.3 272.3h5.3v5.3h-5.3zM32.3 277.3h5.3v5.3h-5.3zM42.3 277.3h5.3v5.3h-5.3zM47.3 277.3h5.3v5.3h-5.3zM52.3 277.3h5.3v5.3h-5.3zM52.3 282.3h5.3v5.3h-5.3zM62.3 282.3h5.3v5.3h-5.3zM47.3 322.3h5.3v5.3h-5.3zM52.3 322.3h5.3v5.3h-5.3zM57.3 322.3h5.3v5.3h-5.3zM17.3 332.3h5.3v5.3h-5.3zM47.3 332.3h5.3v5.3h-5.3zM52.3 332.3h5.3v5.3h-5.3zM22.3 337.3h5.3v5.3h-5.3zM17.3 342.3h5.3v5.3h-5.3z"/><path fill="rgb(110,110,110)" d="M62.3 222.3h5.3v5.3h-5.3zM67.3 222.3h5.3v5.3h-5.3zM77.3 222.3h5.3v5.3h-5.3zM82.3 222.3h5.3v5.3h-5.3zM62.3 227.3h5.3v5.3h-5.3zM67.3 227.3h5.3v5.3h-5.3zM72.3 227.3h5.3v5.3h-5.3zM77.3 227.3h5.3v5.3h-5.3zM62.3 232.3h5.3v5.3h-5.3zM72.3 232.3h5.3v5.3h-5.3zM52.3 237.3h5.3v5.3h-5.3zM62.3 237.3h5.3v5.3h-5.3zM77.3 237.3h5.3v5.3h-5.3zM82.3 237.3h5.3v5.3h-5.3zM52.3 242.3h5.3v5.3h-5.3zM52.3 247.3h5.3v5.3h-5.3zM67.3 247.3h5.3v5.3h-5.3zM72.3 247.3h5.3v5.3h-5.3zM82.3 252.3h5.3v5.3h-5.3zM17.3 267.3h5.3v5.3h-5.3zM67.3 267.3h5.3v5.3h-5.3zM72.3 267.3h5.3v5.3h-5.3zM77.3 267.3h5.3v5.3h-5.3zM42.3 272.3h5.3v5.3h-5.3zM67.3 272.3h5.3v5.3h-5.3zM72.3 272.3h5.3v5.3h-5.3zM77.3 272.3h5.3v5.3h-5.3zM37.3 277.3h5.3v5.3h-5.3zM82.3 277.3h5.3v5.3h-5.3zM32.3 282.3h5.3v5.3h-5.3zM37.3 282.3h5.3v5.3h-5.3zM42.3 282.3h5.3v5.3h-5.3zM47.3 282.3h5.3v5.3h-5.3zM82.3 282.3h5.3v5.3h-5.3zM47.3 287.3h5.3v5.3h-5.3zM52.3 287.3h5.3v5.3h-5.3zM57.3 287.3h5.3v5.3h-5.3zM72.3 287.3h5.3v5.3h-5.3zM57.3 292.3h5.3v5.3h-5.3zM57.3 297.3h5.3v5.3h-5.3zM62.3 297.3h5.3v5.3h-5.3zM57.3 302.3h5.3v5.3h-5.3zM62.3 302.3h5.3v5.3h-5.3zM57.3 317.3h5.3v5.3h-5.3zM42.3 332.3h5.3v5.3h-5.3zM57.3 332.3h5.3v5.3h-5.3zM42.3 337.3h5.3v5.3h-5.3zM47.3 337.3h5.3v5.3h-5.3zM22.3 342.3h5.3v5.3h-5.3z"/><path fill="rgb(112,112,112)" d="M57.3 222.3h5.3v5.3h-5.3zM72.3 222.3h5.3v5.3h-5.3zM87.3 222.3h5.3v5.3h-5.3zM57.3 227.3h5.3v5.3h-5.3zM87.3 227.3h5.3v5.3h-5.3zM52.3 232.3h5.3v5.3h-5.3zM67.3 232.3h5.3v5.3h-5.3zM87.3 232.3h5.3v5.3h-5.3zM67.3 242.3h5.3v5.3h-5.3zM77.3 242.3h5.3v5.3h-5.3zM47.3 247.3h5.3v5.3h-5.3zM77.3 247.3h5.3v5.3h-5.3zM82.3 247.3h5.3v5.3h-5.3zM47.3 252.3h5.3v5.3h-5.3zM87.3 252.3h5.3v5.3h-5.3zM87.3 257.3h5.3v5.3h-5.3zM47.3 262.3h5.3v5.3h-5.3zM87.3 262.3h5.3v5.3h-5.3zM22.3 267.3h5.3v5.3h-5.3zM47.3 267.3h5.3v5.3h-5.3zM82.3 267.3h5.3v5.3h-5.3zM97.3 267.3h5.3v5.3h-5.3zM17.3 272.3h5.3v5.3h-5.3zM22.3 272.3h5.3v5.3h-5.3zM27.3 272.3h5.3v5.3h-5.3zM32.3 272.3h5.3v5.3h-5.3zM82.3 272.3h5.3v5.3h-5.3zM87.3 277.3h5.3v5.3h-5.3zM87.3 282.3h5.3v5.3h-5.3zM32.3 287.3h5.3v5.3h-5.3zM37.3 287.3h5.3v5.3h-5.3zM42.3 287.3h5.3v5.3h-5.3zM62.3 287.3h5.3v5.3h-5.3zM67.3 287.3h5.3v5.3h-5.3zM77.3 287.3h5.3v5.3h-5.3zM47.3 292.3h5.3v5.3h-5.3zM52.3 292.3h5.3v5.3h-5.3zM62.3 292.3h5.3v5.3h-5.3zM67.3 297.3h5.3v5.3h-5.3zM57.3 307.3h5.3v5.3h-5.3zM47.3 317.3h5.3v5.3h-5.3zM52.3 317.3h5.3v5.3h-5.3zM42.3 322.3h5.3v5.3h-5.3zM62.3 322.3h5.3v5.3h-5.3zM42.3 327.3h5.3v5.3h-5.3zM62.3 327.3h5.3v5.3h-5.3zM22.3 332.3h5.3v5.3h-5.3zM32.3 337.3h5.3v5.3h-5.3zM37.3 337.3h5.3v5.3h-5.3zM52.3 337.3h5.3v5.3h-5.3zM32.3 342.3h5.3v5.3h-5.3zM37.3 342.3h5.3v5.3h-5.3zM42.3 342.3h5.3v5.3h-5.3zM17.3 347.3h5.3v5.3h-5.3z"/><path fill="rgb(114,114,114)" d="M47.3 237.3h5.3v5.3h-5.3zM67.3 237.3h5.3v5.3h-5.3zM72.3 237.3h5.3v5.3h-5.3zM87.3 237.3h5.3v5.3h-5.3zM47.3 242.3h5.3v5.3h-5.3zM72.3 242.3h5.3v5.3h-5.3zM82.3 242.3h5.3v5.3h-5.3zM87.3 247.3h5.3v5.3h-5.3zM47.3 257.3h5.3v5.3h-5.3zM17.3 262.3h5.3v5.3h-5.3zM22.3 262.3h5.3v5.3h-5.3zM92.3 262.3h5.3v5.3h-5.3zM97.3 262.3h5.3v5.3h-5.3zM42.3 267.3h5.3v5.3h-5.3zM87.3 267.3h5.3v5.3h-5.3zM92.3 267.3h5.3v5.3h-5.3zM102.3 267.3h5.3v5.3h-5.3zM37.3 272.3h5.3v5.3h-5.3zM87.3 272.3h5.3v5.3h-5.3zM92.3 272.3h5.3v5.3h-5.3zM97.3 272.3h5.3v5.3h-5.3zM22.3 277.3h5.3v5.3h-5.3zM27.3 277.3h5.3v5.3h-5.3zM92.3 277.3h5.3v5.3h-5.3zM92.3 282.3h5.3v5.3h-5.3zM42.3 292.3h5.3v5.3h-5.3zM67.3 292.3h5.3v5.3h-5.3zM42.3 297.3h5.3v5.3h-5.3zM52.3 297.3h5.3v5.3h-5.3zM67.3 302.3h5.3v5.3h-5.3zM62.3 307.3h5.3v5.3h-5.3zM57.3 312.3h5.3v5.3h-5.3zM92.3 317.3h5.3v5.3h-5.3zM17.3 327.3h5.3v5.3h-5.3zM62.3 332.3h5.3v5.3h-5.3zM57.3 337.3h5.3v5.3h-5.3zM102.3 337.3h5.3v5.3h-5.3zM47.3 342.3h5.3v5.3h-5.3zM57.3 342.3h5.3v5.3h-5.3zM62.3 342.3h5.3v5.3h-5.3zM22.3 347.3h5.3v5.3h-5.3zM32.3 347.3h5.3v5.3h-5.3zM37.3 347.3h5.3v5.3h-5.3zM42.3 347.3h5.3v5.3h-5.3zM62.3 347.3h5.3v5.3h-5.3zM17.3 352.3h5.3v5.3h-5.3zM57.3 367.3h5.3v5.3h-5.3zM47.3 372.3h5.3v5.3h-5.3zM52.3 372.3h5.3v5.3h-5.3zM57.3 372.3h5.3v5.3h-5.3zM17.3 377.3h5.3v5.3h-5.3z"/><path fill="rgb(116,116,116)" d="M92.3 222.3h5.3v5.3h-5.3zM92.3 227.3h5.3v5.3h-5.3zM47.3 232.3h5.3v5.3h-5.3zM92.3 232.3h5.3v5.3h-5.3zM97.3 232.3h5.3v5.3h-5.3zM102.3 232.3h5.3v5.3h-5.3zM92.3 237.3h5.3v5.3h-5.3zM97.3 237.3h5.3v5.3h-5.3zM102.3 237.3h5.3v5.3h-5.3zM87.3 242.3h5.3v5.3h-5.3zM42.3 247.3h5.3v5.3h-5.3zM92.3 247.3h5.3v5.3h-5.3zM42.3 252.3h5.3v5.3h-5.3zM92.3 252.3h5.3v5.3h-5.3zM92.3 257.3h5.3v5.3h-5.3zM97.3 257.3h5.3v5.3h-5.3zM102.3 262.3h5.3v5.3h-5.3zM27.3 267.3h5.3v5.3h-5.3zM32.3 267.3h5.3v5.3h-5.3zM102.3 272.3h5.3v5.3h-5.3zM17.3 277.3h5.3v5.3h-5.3zM97.3 277.3h5.3v5.3h-5.3zM22.3 282.3h5.3v5.3h-5.3zM97.3 282.3h5.3v5.3h-5.3zM22.3 287.3h5.3v5.3h-5.3zM82.3 287.3h5.3v5.3h-5.3zM87.3 287.3h5.3v5.3h-5.3zM92.3 287.3h5.3v5.3h-5.3zM97.3 287.3h5.3v5.3h-5.3zM102.3 287.3h5.3v5.3h-5.3zM32.3 292.3h5.3v5.3h-5.3zM37.3 292.3h5.3v5.3h-5.3zM72.3 292.3h5.3v5.3h-5.3zM102.3 292.3h5.3v5.3h-5.3zM47.3 297.3h5.3v5.3h-5.3zM107.3 297.3h5.3v5.3h-5.3zM52.3 302.3h5.3v5.3h-5.3zM52.3 312.3h5.3v5.3h-5.3zM62.3 312.3h5.3v5.3h-5.3zM17.3 317.3h5.3v5.3h-5.3zM42.3 317.3h5.3v5.3h-5.3zM62.3 317.3h5.3v5.3h-5.3zM97.3 317.3h5.3v5.3h-5.3zM17.3 322.3h5.3v5.3h-5.3zM92.3 322.3h5.3v5.3h-5.3zM97.3 322.3h5.3v5.3h-5.3zM22.3 327.3h5.3v5.3h-5.3zM37.3 332.3h5.3v5.3h-5.3zM62.3 337.3h5.3v5.3h-5.3zM97.3 337.3h5.3v5.3h-5.3zM52.3 342.3h5.3v5.3h-5.3zM102.3 342.3h5.3v5.3h-5.3zM107.3 342.3h5.3v5.3h-5.3zM22.3 352.3h5.3v5.3h-5.3zM32.3 352.3h5.3v5.3h-5.3zM37.3 352.3h5.3v5.3h-5.3zM42.3 352.3h5.3v5.3h-5.3zM62.3 352.3h5.3v5.3h-5.3zM37.3 357.3h5.3v5.3h-5.3zM42.3 357.3h5.3v5.3h-5.3zM37.3 362.3h5.3v5.3h-5.3zM42.3 362.3h5.3v5.3h-5.3zM57.3 362.3h5.3v5.3h-5.3zM42.3 367.3h5.3v5.3h-5.3zM47.3 367.3h5.3v5.3h-5.3zM52.3 367.3h5.3v5.3h-5.3zM42.3 372.3h5.3v5.3h-5.3zM62.3 372.3h5.3v5.3h-5.3zM22.3 377.3h5.3v5.3h-5.3zM42.3 377.3h5.3v5.3h-5.3zM47.3 377.3h5.3v5.3h-5.3zM17.3 382.3h5.3v5.3h-5.3z"/><path fill="rgb(118,118,118)" d="M207.3 222.3h5.3v5.3h-5.3zM52.3 227.3h5.3v5.3h-5.3zM97.3 227.3h5.3v5.3h-5.3zM102.3 227.3h5.3v5.3h-5.3zM107.3 232.3h5.3v5.3h-5.3zM112.3 232.3h5.3v5.3h-5.3zM42.3 237.3h5.3v5.3h-5.3zM107.3 237.3h5.3v5.3h-5.3zM112.3 237.3h5.3v5.3h-5.3zM42.3 242.3h5.3v5.3h-5.3zM92.3 242.3h5.3v5.3h-5.3zM97.3 242.3h5.3v5.3h-5.3zM102.3 242.3h5.3v5.3h-5.3zM107.3 242.3h5.3v5.3h-5.3zM112.3 242.3h5.3v5.3h-5.3zM97.3 247.3h5.3v5.3h-5.3zM97.3 252.3h5.3v5.3h-5.3zM42.3 257.3h5.3v5.3h-5.3zM27.3 262.3h5.3v5.3h-5.3zM42.3 262.3h5.3v5.3h-5.3zM37.3 267.3h5.3v5.3h-5.3zM107.3 267.3h5.3v5.3h-5.3zM107.3 272.3h5.3v5.3h-5.3zM102.3 277.3h5.3v5.3h-5.3zM17.3 282.3h5.3v5.3h-5.3zM27.3 282.3h5.3v5.3h-5.3zM102.3 282.3h5.3v5.3h-5.3zM22.3 292.3h5.3v5.3h-5.3zM77.3 292.3h5.3v5.3h-5.3zM97.3 292.3h5.3v5.3h-5.3zM107.3 292.3h5.3v5.3h-5.3zM22.3 297.3h5.3v5.3h-5.3zM37.3 297.3h5.3v5.3h-5.3zM102.3 297.3h5.3v5.3h-5.3zM17.3 302.3h5.3v5.3h-5.3zM22.3 302.3h5.3v5.3h-5.3zM42.3 302.3h5.3v5.3h-5.3zM47.3 302.3h5.3v5.3h-5.3zM107.3 302.3h5.3v5.3h-5.3zM17.3 307.3h5.3v5.3h-5.3zM22.3 307.3h5.3v5.3h-5.3zM52.3 307.3h5.3v5.3h-5.3zM122.3 307.3h5.3v5.3h-5.3zM17.3 312.3h5.3v5.3h-5.3zM22.3 312.3h5.3v5.3h-5.3zM47.3 312.3h5.3v5.3h-5.3zM92.3 312.3h5.3v5.3h-5.3zM97.3 312.3h5.3v5.3h-5.3zM122.3 312.3h5.3v5.3h-5.3zM22.3 317.3h5.3v5.3h-5.3zM87.3 317.3h5.3v5.3h-5.3zM102.3 317.3h5.3v5.3h-5.3zM22.3 322.3h5.3v5.3h-5.3zM87.3 322.3h5.3v5.3h-5.3zM102.3 322.3h5.3v5.3h-5.3zM107.3 322.3h5.3v5.3h-5.3zM112.3 322.3h5.3v5.3h-5.3zM97.3 327.3h5.3v5.3h-5.3zM102.3 327.3h5.3v5.3h-5.3zM32.3 332.3h5.3v5.3h-5.3zM97.3 332.3h5.3v5.3h-5.3zM102.3 332.3h5.3v5.3h-5.3zM107.3 337.3h5.3v5.3h-5.3zM97.3 342.3h5.3v5.3h-5.3zM47.3 347.3h5.3v5.3h-5.3zM57.3 347.3h5.3v5.3h-5.3zM107.3 347.3h5.3v5.3h-5.3zM57.3 352.3h5.3v5.3h-5.3zM17.3 357.3h5.3v5.3h-5.3zM22.3 357.3h5.3v5.3h-5.3zM32.3 357.3h5.3v5.3h-5.3zM47.3 357.3h5.3v5.3h-5.3zM57.3 357.3h5.3v5.3h-5.3zM47.3 362.3h5.3v5.3h-5.3zM52.3 362.3h5.3v5.3h-5.3zM37.3 367.3h5.3v5.3h-5.3zM62.3 367.3h5.3v5.3h-5.3zM37.3 372.3h5.3v5.3h-5.3zM37.3 377.3h5.3v5.3h-5.3zM52.3 377.3h5.3v5.3h-5.3zM57.3 377.3h5.3v5.3h-5.3zM62.3 377.3h5.3v5.3h-5.3zM22.3 382.3h5.3v5.3h-5.3zM37.3 382.3h5.3v5.3h-5.3zM42.3 382.3h5.3v5.3h-5.3zM37.3 402.3h5.3v5.3h-5.3z"/><path fill="rgb(120,120,120)" d="M52.3 222.3h5.3v5.3h-5.3zM97.3 222.3h5.3v5.3h-5.3zM107.3 227.3h5.3v5.3h-5.3zM42.3 232.3h5.3v5.3h-5.3zM117.3 232.3h5.3v5.3h-5.3zM117.3 237.3h5.3v5.3h-5.3zM117.3 242.3h5.3v5.3h-5.3zM102.3 247.3h5.3v5.3h-5.3zM107.3 247.3h5.3v5.3h-5.3zM112.3 247.3h5.3v5.3h-5.3zM102.3 252.3h5.3v5.3h-5.3zM17.3 257.3h5.3v5.3h-5.3zM22.3 257.3h5.3v5.3h-5.3zM102.3 257.3h5.3v5.3h-5.3zM32.3 262.3h5.3v5.3h-5.3zM37.3 262.3h5.3v5.3h-5.3zM107.3 262.3h5.3v5.3h-5.3zM17.3 287.3h5.3v5.3h-5.3zM107.3 287.3h5.3v5.3h-5.3zM92.3 292.3h5.3v5.3h-5.3zM32.3 297.3h5.3v5.3h-5.3zM72.3 297.3h5.3v5.3h-5.3zM97.3 297.3h5.3v5.3h-5.3zM112.3 297.3h5.3v5.3h-5.3zM97.3 302.3h5.3v5.3h-5.3zM102.3 302.3h5.3v5.3h-5.3zM112.3 302.3h5.3v5.3h-5.3zM127.3 302.3h5.3v5.3h-5.3zM67.3 307.3h5.3v5.3h-5.3zM92.3 307.3h5.3v5.3h-5.3zM97.3 307.3h5.3v5.3h-5.3zM107.3 307.3h5.3v5.3h-5.3zM112.3 307.3h5.3v5.3h-5.3zM117.3 307.3h5.3v5.3h-5.3zM127.3 307.3h5.3v5.3h-5.3zM87.3 312.3h5.3v5.3h-5.3zM102.3 312.3h5.3v5.3h-5.3zM117.3 312.3h5.3v5.3h-5.3zM127.3 312.3h5.3v5.3h-5.3zM32.3 317.3h5.3v5.3h-5.3zM37.3 317.3h5.3v5.3h-5.3zM107.3 317.3h5.3v5.3h-5.3zM112.3 317.3h5.3v5.3h-5.3zM117.3 317.3h5.3v5.3h-5.3zM122.3 317.3h5.3v5.3h-5.3zM37.3 322.3h5.3v5.3h-5.3zM117.3 322.3h5.3v5.3h-5.3zM37.3 327.3h5.3v5.3h-5.3zM92.3 327.3h5.3v5.3h-5.3zM107.3 327.3h5.3v5.3h-5.3zM112.3 327.3h5.3v5.3h-5.3zM117.3 327.3h5.3v5.3h-5.3zM107.3 332.3h5.3v5.3h-5.3zM92.3 337.3h5.3v5.3h-5.3zM92.3 342.3h5.3v5.3h-5.3zM52.3 347.3h5.3v5.3h-5.3zM67.3 347.3h5.3v5.3h-5.3zM82.3 347.3h5.3v5.3h-5.3zM87.3 347.3h5.3v5.3h-5.3zM102.3 347.3h5.3v5.3h-5.3zM112.3 347.3h5.3v5.3h-5.3zM47.3 352.3h5.3v5.3h-5.3zM52.3 352.3h5.3v5.3h-5.3zM87.3 352.3h5.3v5.3h-5.3zM92.3 352.3h5.3v5.3h-5.3zM97.3 352.3h5.3v5.3h-5.3zM112.3 352.3h5.3v5.3h-5.3zM52.3 357.3h5.3v5.3h-5.3zM62.3 357.3h5.3v5.3h-5.3zM92.3 357.3h5.3v5.3h-5.3zM97.3 357.3h5.3v5.3h-5.3zM112.3 357.3h5.3v5.3h-5.3zM17.3 362.3h5.3v5.3h-5.3zM32.3 362.3h5.3v5.3h-5.3zM62.3 362.3h5.3v5.3h-5.3zM112.3 362.3h5.3v5.3h-5.3zM32.3 367.3h5.3v5.3h-5.3zM27.3 377.3h5.3v5.3h-5.3zM32.3 377.3h5.3v5.3h-5.3zM27.3 382.3h5.3v5.3h-5.3zM32.3 382.3h5.3v5.3h-5.3zM32.3 397.3h5.3v5.3h-5.3zM37.3 397.3h5.3v5.3h-5.3zM22.3 402.3h5.3v5.3h-5.3zM27.3 402.3h5.3v5.3h-5.3zM32.3 402.3h5.3v5.3h-5.3zM42.3 402.3h5.3v5.3h-5.3zM17.3 407.3h5.3v5.3h-5.3zM22.3 407.3h5.3v5.3h-5.3zM27.3 407.3h5.3v5.3h-5.3zM32.3 407.3h5.3v5.3h-5.3zM37.3 407.3h5.3v5.3h-5.3zM42.3 407.3h5.3v5.3h-5.3zM82.3 407.3h5.3v5.3h-5.3zM37.3 412.3h5.3v5.3h-5.3zM42.3 412.3h5.3v5.3h-5.3z"/><path fill="rgb(122,122,122)" d="M47.3 227.3h5.3v5.3h-5.3zM112.3 227.3h5.3v5.3h-5.3zM207.3 227.3h5.3v5.3h-5.3zM37.3 237.3h5.3v5.3h-5.3zM17.3 252.3h5.3v5.3h-5.3zM22.3 252.3h5.3v5.3h-5.3zM107.3 252.3h5.3v5.3h-5.3zM112.3 252.3h5.3v5.3h-5.3zM27.3 257.3h5.3v5.3h-5.3zM107.3 257.3h5.3v5.3h-5.3zM112.3 262.3h5.3v5.3h-5.3zM112.3 267.3h5.3v5.3h-5.3zM107.3 277.3h5.3v5.3h-5.3zM107.3 282.3h5.3v5.3h-5.3zM27.3 287.3h5.3v5.3h-5.3zM17.3 292.3h5.3v5.3h-5.3zM112.3 292.3h5.3v5.3h-5.3zM17.3 297.3h5.3v5.3h-5.3zM92.3 297.3h5.3v5.3h-5.3zM37.3 302.3h5.3v5.3h-5.3zM92.3 302.3h5.3v5.3h-5.3zM117.3 302.3h5.3v5.3h-5.3zM122.3 302.3h5.3v5.3h-5.3zM42.3 307.3h5.3v5.3h-5.3zM47.3 307.3h5.3v5.3h-5.3zM102.3 307.3h5.3v5.3h-5.3zM32.3 312.3h5.3v5.3h-5.3zM37.3 312.3h5.3v5.3h-5.3zM42.3 312.3h5.3v5.3h-5.3zM67.3 312.3h5.3v5.3h-5.3zM107.3 312.3h5.3v5.3h-5.3zM112.3 312.3h5.3v5.3h-5.3zM127.3 317.3h5.3v5.3h-5.3zM32.3 322.3h5.3v5.3h-5.3zM67.3 322.3h5.3v5.3h-5.3zM122.3 322.3h5.3v5.3h-5.3zM32.3 327.3h5.3v5.3h-5.3zM67.3 327.3h5.3v5.3h-5.3zM87.3 327.3h5.3v5.3h-5.3zM67.3 332.3h5.3v5.3h-5.3zM92.3 332.3h5.3v5.3h-5.3zM112.3 332.3h5.3v5.3h-5.3zM67.3 337.3h5.3v5.3h-5.3zM67.3 342.3h5.3v5.3h-5.3zM82.3 342.3h5.3v5.3h-5.3zM87.3 342.3h5.3v5.3h-5.3zM112.3 342.3h5.3v5.3h-5.3zM92.3 347.3h5.3v5.3h-5.3zM97.3 347.3h5.3v5.3h-5.3zM67.3 352.3h5.3v5.3h-5.3zM82.3 352.3h5.3v5.3h-5.3zM102.3 352.3h5.3v5.3h-5.3zM107.3 352.3h5.3v5.3h-5.3zM87.3 357.3h5.3v5.3h-5.3zM102.3 357.3h5.3v5.3h-5.3zM107.3 357.3h5.3v5.3h-5.3zM22.3 362.3h5.3v5.3h-5.3zM97.3 362.3h5.3v5.3h-5.3zM102.3 362.3h5.3v5.3h-5.3zM107.3 362.3h5.3v5.3h-5.3zM17.3 372.3h5.3v5.3h-5.3zM32.3 372.3h5.3v5.3h-5.3zM67.3 372.3h5.3v5.3h-5.3zM47.3 382.3h5.3v5.3h-5.3zM37.3 387.3h5.3v5.3h-5.3zM42.3 387.3h5.3v5.3h-5.3zM37.3 392.3h5.3v5.3h-5.3zM22.3 397.3h5.3v5.3h-5.3zM27.3 397.3h5.3v5.3h-5.3zM42.3 397.3h5.3v5.3h-5.3zM17.3 402.3h5.3v5.3h-5.3zM82.3 402.3h5.3v5.3h-5.3zM77.3 407.3h5.3v5.3h-5.3zM17.3 412.3h5.3v5.3h-5.3zM22.3 412.3h5.3v5.3h-5.3zM27.3 412.3h5.3v5.3h-5.3zM32.3 412.3h5.3v5.3h-5.3zM82.3 412.3h5.3v5.3h-5.3z"/><path fill="rgb(124,124,124)" d="M47.3 222.3h5.3v5.3h-5.3zM102.3 222.3h5.3v5.3h-5.3zM202.3 222.3h5.3v5.3h-5.3zM117.3 227.3h5.3v5.3h-5.3zM37.3 232.3h5.3v5.3h-5.3zM122.3 232.3h5.3v5.3h-5.3zM187.3 232.3h5.3v5.3h-5.3zM207.3 232.3h5.3v5.3h-5.3zM122.3 237.3h5.3v5.3h-5.3zM187.3 237.3h5.3v5.3h-5.3zM17.3 242.3h5.3v5.3h-5.3zM22.3 242.3h5.3v5.3h-5.3zM17.3 247.3h5.3v5.3h-5.3zM22.3 247.3h5.3v5.3h-5.3zM117.3 247.3h5.3v5.3h-5.3zM27.3 252.3h5.3v5.3h-5.3zM37.3 252.3h5.3v5.3h-5.3zM32.3 257.3h5.3v5.3h-5.3zM37.3 257.3h5.3v5.3h-5.3zM112.3 257.3h5.3v5.3h-5.3zM112.3 272.3h5.3v5.3h-5.3zM112.3 287.3h5.3v5.3h-5.3zM117.3 287.3h5.3v5.3h-5.3zM82.3 292.3h5.3v5.3h-5.3zM87.3 292.3h5.3v5.3h-5.3zM117.3 292.3h5.3v5.3h-5.3zM122.3 292.3h5.3v5.3h-5.3zM117.3 297.3h5.3v5.3h-5.3zM122.3 297.3h5.3v5.3h-5.3zM127.3 297.3h5.3v5.3h-5.3zM32.3 302.3h5.3v5.3h-5.3zM32.3 307.3h5.3v5.3h-5.3zM37.3 307.3h5.3v5.3h-5.3zM87.3 307.3h5.3v5.3h-5.3zM132.3 307.3h5.3v5.3h-5.3zM132.3 312.3h5.3v5.3h-5.3zM67.3 317.3h5.3v5.3h-5.3zM82.3 317.3h5.3v5.3h-5.3zM82.3 322.3h5.3v5.3h-5.3zM122.3 327.3h5.3v5.3h-5.3zM87.3 332.3h5.3v5.3h-5.3zM117.3 332.3h5.3v5.3h-5.3zM82.3 337.3h5.3v5.3h-5.3zM87.3 337.3h5.3v5.3h-5.3zM112.3 337.3h5.3v5.3h-5.3zM77.3 347.3h5.3v5.3h-5.3zM117.3 347.3h5.3v5.3h-5.3zM117.3 352.3h5.3v5.3h-5.3zM67.3 357.3h5.3v5.3h-5.3zM82.3 357.3h5.3v5.3h-5.3zM117.3 357.3h5.3v5.3h-5.3zM67.3 362.3h5.3v5.3h-5.3zM87.3 362.3h5.3v5.3h-5.3zM92.3 362.3h5.3v5.3h-5.3zM117.3 362.3h5.3v5.3h-5.3zM67.3 367.3h5.3v5.3h-5.3zM112.3 367.3h5.3v5.3h-5.3zM22.3 372.3h5.3v5.3h-5.3zM77.3 372.3h5.3v5.3h-5.3zM67.3 377.3h5.3v5.3h-5.3zM57.3 382.3h5.3v5.3h-5.3zM62.3 382.3h5.3v5.3h-5.3zM17.3 387.3h5.3v5.3h-5.3zM22.3 387.3h5.3v5.3h-5.3zM27.3 387.3h5.3v5.3h-5.3zM32.3 387.3h5.3v5.3h-5.3zM17.3 392.3h5.3v5.3h-5.3zM22.3 392.3h5.3v5.3h-5.3zM32.3 392.3h5.3v5.3h-5.3zM42.3 392.3h5.3v5.3h-5.3zM17.3 397.3h5.3v5.3h-5.3zM77.3 402.3h5.3v5.3h-5.3zM87.3 402.3h5.3v5.3h-5.3zM47.3 407.3h5.3v5.3h-5.3zM87.3 407.3h5.3v5.3h-5.3zM47.3 412.3h5.3v5.3h-5.3zM77.3 412.3h5.3v5.3h-5.3zM87.3 412.3h5.3v5.3h-5.3z"/><path fill="rgb(126,126,126)" d="M42.3 222.3h5.3v5.3h-5.3zM42.3 227.3h5.3v5.3h-5.3zM122.3 227.3h5.3v5.3h-5.3zM187.3 227.3h5.3v5.3h-5.3zM202.3 227.3h5.3v5.3h-5.3zM192.3 232.3h5.3v5.3h-5.3zM17.3 237.3h5.3v5.3h-5.3zM22.3 237.3h5.3v5.3h-5.3zM27.3 237.3h5.3v5.3h-5.3zM32.3 237.3h5.3v5.3h-5.3zM192.3 237.3h5.3v5.3h-5.3zM27.3 242.3h5.3v5.3h-5.3zM37.3 242.3h5.3v5.3h-5.3zM122.3 242.3h5.3v5.3h-5.3zM27.3 247.3h5.3v5.3h-5.3zM37.3 247.3h5.3v5.3h-5.3zM117.3 252.3h5.3v5.3h-5.3zM117.3 257.3h5.3v5.3h-5.3zM117.3 262.3h5.3v5.3h-5.3zM112.3 277.3h5.3v5.3h-5.3zM112.3 282.3h5.3v5.3h-5.3zM122.3 287.3h5.3v5.3h-5.3zM27.3 292.3h5.3v5.3h-5.3zM72.3 302.3h5.3v5.3h-5.3zM132.3 302.3h5.3v5.3h-5.3zM132.3 317.3h5.3v5.3h-5.3zM77.3 322.3h5.3v5.3h-5.3zM127.3 322.3h5.3v5.3h-5.3zM82.3 327.3h5.3v5.3h-5.3zM82.3 332.3h5.3v5.3h-5.3zM122.3 332.3h5.3v5.3h-5.3zM77.3 337.3h5.3v5.3h-5.3zM77.3 342.3h5.3v5.3h-5.3zM117.3 342.3h5.3v5.3h-5.3zM122.3 342.3h5.3v5.3h-5.3zM77.3 352.3h5.3v5.3h-5.3zM77.3 357.3h5.3v5.3h-5.3zM77.3 362.3h5.3v5.3h-5.3zM82.3 362.3h5.3v5.3h-5.3zM17.3 367.3h5.3v5.3h-5.3zM22.3 367.3h5.3v5.3h-5.3zM72.3 367.3h5.3v5.3h-5.3zM77.3 367.3h5.3v5.3h-5.3zM97.3 367.3h5.3v5.3h-5.3zM102.3 367.3h5.3v5.3h-5.3zM107.3 367.3h5.3v5.3h-5.3zM117.3 367.3h5.3v5.3h-5.3zM27.3 372.3h5.3v5.3h-5.3zM72.3 372.3h5.3v5.3h-5.3zM72.3 377.3h5.3v5.3h-5.3zM77.3 377.3h5.3v5.3h-5.3zM52.3 382.3h5.3v5.3h-5.3zM67.3 382.3h5.3v5.3h-5.3zM27.3 392.3h5.3v5.3h-5.3zM82.3 397.3h5.3v5.3h-5.3zM87.3 397.3h5.3v5.3h-5.3zM47.3 402.3h5.3v5.3h-5.3zM92.3 402.3h5.3v5.3h-5.3zM97.3 402.3h5.3v5.3h-5.3zM72.3 407.3h5.3v5.3h-5.3zM72.3 412.3h5.3v5.3h-5.3z"/><path fill="rgb(128,128,128)" d="M107.3 222.3h5.3v5.3h-5.3zM112.3 222.3h5.3v5.3h-5.3zM197.3 222.3h5.3v5.3h-5.3zM37.3 227.3h5.3v5.3h-5.3zM127.3 227.3h5.3v5.3h-5.3zM182.3 227.3h5.3v5.3h-5.3zM32.3 232.3h5.3v5.3h-5.3zM182.3 232.3h5.3v5.3h-5.3zM202.3 232.3h5.3v5.3h-5.3zM182.3 237.3h5.3v5.3h-5.3zM207.3 237.3h5.3v5.3h-5.3zM32.3 242.3h5.3v5.3h-5.3zM187.3 242.3h5.3v5.3h-5.3zM32.3 247.3h5.3v5.3h-5.3zM32.3 252.3h5.3v5.3h-5.3zM117.3 267.3h5.3v5.3h-5.3zM117.3 282.3h5.3v5.3h-5.3zM127.3 292.3h5.3v5.3h-5.3zM77.3 297.3h5.3v5.3h-5.3zM87.3 297.3h5.3v5.3h-5.3zM87.3 302.3h5.3v5.3h-5.3zM82.3 312.3h5.3v5.3h-5.3zM77.3 317.3h5.3v5.3h-5.3zM132.3 322.3h5.3v5.3h-5.3zM77.3 327.3h5.3v5.3h-5.3zM127.3 327.3h5.3v5.3h-5.3zM77.3 332.3h5.3v5.3h-5.3zM117.3 337.3h5.3v5.3h-5.3zM122.3 337.3h5.3v5.3h-5.3zM127.3 342.3h5.3v5.3h-5.3zM122.3 347.3h5.3v5.3h-5.3zM127.3 347.3h5.3v5.3h-5.3zM27.3 352.3h5.3v5.3h-5.3zM27.3 357.3h5.3v5.3h-5.3zM27.3 362.3h5.3v5.3h-5.3zM27.3 367.3h5.3v5.3h-5.3zM82.3 367.3h5.3v5.3h-5.3zM87.3 367.3h5.3v5.3h-5.3zM92.3 367.3h5.3v5.3h-5.3zM82.3 372.3h5.3v5.3h-5.3zM82.3 377.3h5.3v5.3h-5.3zM72.3 382.3h5.3v5.3h-5.3zM77.3 382.3h5.3v5.3h-5.3zM82.3 382.3h5.3v5.3h-5.3zM87.3 382.3h5.3v5.3h-5.3zM47.3 387.3h5.3v5.3h-5.3zM77.3 387.3h5.3v5.3h-5.3zM82.3 387.3h5.3v5.3h-5.3zM87.3 387.3h5.3v5.3h-5.3zM77.3 392.3h5.3v5.3h-5.3zM82.3 392.3h5.3v5.3h-5.3zM87.3 392.3h5.3v5.3h-5.3zM77.3 397.3h5.3v5.3h-5.3zM92.3 397.3h5.3v5.3h-5.3zM97.3 397.3h5.3v5.3h-5.3zM72.3 402.3h5.3v5.3h-5.3zM102.3 402.3h5.3v5.3h-5.3zM92.3 407.3h5.3v5.3h-5.3zM97.3 407.3h5.3v5.3h-5.3zM102.3 407.3h5.3v5.3h-5.3zM67.3 412.3h5.3v5.3h-5.3z"/><path fill="rgb(130,130,130)" d="M27.3 222.3h5.3v5.3h-5.3zM37.3 222.3h5.3v5.3h-5.3zM117.3 222.3h5.3v5.3h-5.3zM122.3 222.3h5.3v5.3h-5.3zM182.3 222.3h5.3v5.3h-5.3zM187.3 222.3h5.3v5.3h-5.3zM192.3 222.3h5.3v5.3h-5.3zM27.3 227.3h5.3v5.3h-5.3zM192.3 227.3h5.3v5.3h-5.3zM197.3 227.3h5.3v5.3h-5.3zM17.3 232.3h5.3v5.3h-5.3zM22.3 232.3h5.3v5.3h-5.3zM27.3 232.3h5.3v5.3h-5.3zM127.3 232.3h5.3v5.3h-5.3zM197.3 232.3h5.3v5.3h-5.3zM127.3 237.3h5.3v5.3h-5.3zM197.3 237.3h5.3v5.3h-5.3zM202.3 237.3h5.3v5.3h-5.3zM127.3 242.3h5.3v5.3h-5.3zM182.3 242.3h5.3v5.3h-5.3zM192.3 242.3h5.3v5.3h-5.3zM207.3 242.3h5.3v5.3h-5.3zM122.3 247.3h5.3v5.3h-5.3zM122.3 257.3h5.3v5.3h-5.3zM117.3 272.3h5.3v5.3h-5.3zM117.3 277.3h5.3v5.3h-5.3zM122.3 282.3h5.3v5.3h-5.3zM132.3 297.3h5.3v5.3h-5.3zM132.3 327.3h5.3v5.3h-5.3zM127.3 332.3h5.3v5.3h-5.3zM127.3 337.3h5.3v5.3h-5.3zM132.3 342.3h5.3v5.3h-5.3zM27.3 347.3h5.3v5.3h-5.3zM72.3 352.3h5.3v5.3h-5.3zM122.3 352.3h5.3v5.3h-5.3zM72.3 357.3h5.3v5.3h-5.3zM122.3 357.3h5.3v5.3h-5.3zM72.3 362.3h5.3v5.3h-5.3zM122.3 362.3h5.3v5.3h-5.3zM122.3 367.3h5.3v5.3h-5.3zM87.3 372.3h5.3v5.3h-5.3zM92.3 372.3h5.3v5.3h-5.3zM97.3 372.3h5.3v5.3h-5.3zM102.3 372.3h5.3v5.3h-5.3zM112.3 372.3h5.3v5.3h-5.3zM117.3 372.3h5.3v5.3h-5.3zM87.3 377.3h5.3v5.3h-5.3zM92.3 382.3h5.3v5.3h-5.3zM97.3 382.3h5.3v5.3h-5.3zM67.3 387.3h5.3v5.3h-5.3zM72.3 387.3h5.3v5.3h-5.3zM92.3 387.3h5.3v5.3h-5.3zM112.3 387.3h5.3v5.3h-5.3zM72.3 392.3h5.3v5.3h-5.3zM92.3 392.3h5.3v5.3h-5.3zM47.3 397.3h5.3v5.3h-5.3zM72.3 397.3h5.3v5.3h-5.3zM102.3 397.3h5.3v5.3h-5.3zM127.3 397.3h5.3v5.3h-5.3zM67.3 402.3h5.3v5.3h-5.3zM52.3 407.3h5.3v5.3h-5.3zM67.3 407.3h5.3v5.3h-5.3zM52.3 412.3h5.3v5.3h-5.3zM62.3 412.3h5.3v5.3h-5.3zM92.3 412.3h5.3v5.3h-5.3zM97.3 412.3h5.3v5.3h-5.3zM102.3 412.3h5.3v5.3h-5.3z"/><path fill="rgb(132,132,132)" d="M22.3 222.3h5.3v5.3h-5.3zM32.3 222.3h5.3v5.3h-5.3zM127.3 222.3h5.3v5.3h-5.3zM132.3 222.3h5.3v5.3h-5.3zM177.3 222.3h5.3v5.3h-5.3zM22.3 227.3h5.3v5.3h-5.3zM32.3 227.3h5.3v5.3h-5.3zM132.3 227.3h5.3v5.3h-5.3zM177.3 227.3h5.3v5.3h-5.3zM177.3 232.3h5.3v5.3h-5.3zM177.3 237.3h5.3v5.3h-5.3zM127.3 247.3h5.3v5.3h-5.3zM122.3 252.3h5.3v5.3h-5.3zM122.3 262.3h5.3v5.3h-5.3zM122.3 267.3h5.3v5.3h-5.3zM72.3 307.3h5.3v5.3h-5.3zM72.3 312.3h5.3v5.3h-5.3zM77.3 312.3h5.3v5.3h-5.3zM137.3 312.3h5.3v5.3h-5.3zM72.3 317.3h5.3v5.3h-5.3zM137.3 317.3h5.3v5.3h-5.3zM72.3 322.3h5.3v5.3h-5.3zM137.3 322.3h5.3v5.3h-5.3zM137.3 327.3h5.3v5.3h-5.3zM152.3 327.3h5.3v5.3h-5.3zM132.3 332.3h5.3v5.3h-5.3zM132.3 337.3h5.3v5.3h-5.3zM27.3 342.3h5.3v5.3h-5.3zM72.3 347.3h5.3v5.3h-5.3zM132.3 347.3h5.3v5.3h-5.3zM107.3 372.3h5.3v5.3h-5.3zM122.3 372.3h5.3v5.3h-5.3zM92.3 377.3h5.3v5.3h-5.3zM97.3 377.3h5.3v5.3h-5.3zM117.3 377.3h5.3v5.3h-5.3zM122.3 377.3h5.3v5.3h-5.3zM112.3 382.3h5.3v5.3h-5.3zM117.3 382.3h5.3v5.3h-5.3zM97.3 387.3h5.3v5.3h-5.3zM117.3 387.3h5.3v5.3h-5.3zM137.3 387.3h5.3v5.3h-5.3zM47.3 392.3h5.3v5.3h-5.3zM97.3 392.3h5.3v5.3h-5.3zM112.3 392.3h5.3v5.3h-5.3zM117.3 392.3h5.3v5.3h-5.3zM122.3 392.3h5.3v5.3h-5.3zM127.3 392.3h5.3v5.3h-5.3zM117.3 397.3h5.3v5.3h-5.3zM122.3 397.3h5.3v5.3h-5.3zM132.3 397.3h5.3v5.3h-5.3zM52.3 402.3h5.3v5.3h-5.3zM127.3 402.3h5.3v5.3h-5.3zM132.3 402.3h5.3v5.3h-5.3zM137.3 402.3h5.3v5.3h-5.3zM57.3 407.3h5.3v5.3h-5.3zM62.3 407.3h5.3v5.3h-5.3zM137.3 407.3h5.3v5.3h-5.3zM57.3 412.3h5.3v5.3h-5.3zM107.3 412.3h5.3v5.3h-5.3zM127.3 412.3h5.3v5.3h-5.3zM132.3 412.3h5.3v5.3h-5.3zM137.3 412.3h5.3v5.3h-5.3zM142.3 412.3h5.3v5.3h-5.3z"/><path fill="rgb(134,134,134)" d="M172.3 222.3h5.3v5.3h-5.3zM17.3 227.3h5.3v5.3h-5.3zM172.3 227.3h5.3v5.3h-5.3zM172.3 232.3h5.3v5.3h-5.3zM172.3 237.3h5.3v5.3h-5.3zM177.3 242.3h5.3v5.3h-5.3zM197.3 242.3h5.3v5.3h-5.3zM202.3 242.3h5.3v5.3h-5.3zM207.3 247.3h5.3v5.3h-5.3zM127.3 252.3h5.3v5.3h-5.3zM122.3 272.3h5.3v5.3h-5.3zM122.3 277.3h5.3v5.3h-5.3zM127.3 287.3h5.3v5.3h-5.3zM27.3 297.3h5.3v5.3h-5.3zM82.3 297.3h5.3v5.3h-5.3zM137.3 307.3h5.3v5.3h-5.3zM152.3 322.3h5.3v5.3h-5.3zM72.3 327.3h5.3v5.3h-5.3zM157.3 327.3h5.3v5.3h-5.3zM72.3 332.3h5.3v5.3h-5.3zM137.3 332.3h5.3v5.3h-5.3zM72.3 337.3h5.3v5.3h-5.3zM72.3 342.3h5.3v5.3h-5.3zM127.3 352.3h5.3v5.3h-5.3zM132.3 352.3h5.3v5.3h-5.3zM137.3 357.3h5.3v5.3h-5.3zM127.3 362.3h5.3v5.3h-5.3zM132.3 362.3h5.3v5.3h-5.3zM137.3 362.3h5.3v5.3h-5.3zM127.3 367.3h5.3v5.3h-5.3zM102.3 377.3h5.3v5.3h-5.3zM107.3 377.3h5.3v5.3h-5.3zM112.3 377.3h5.3v5.3h-5.3zM102.3 382.3h5.3v5.3h-5.3zM107.3 382.3h5.3v5.3h-5.3zM122.3 382.3h5.3v5.3h-5.3zM137.3 382.3h5.3v5.3h-5.3zM52.3 387.3h5.3v5.3h-5.3zM62.3 387.3h5.3v5.3h-5.3zM102.3 387.3h5.3v5.3h-5.3zM107.3 387.3h5.3v5.3h-5.3zM122.3 387.3h5.3v5.3h-5.3zM142.3 387.3h5.3v5.3h-5.3zM67.3 392.3h5.3v5.3h-5.3zM102.3 392.3h5.3v5.3h-5.3zM107.3 392.3h5.3v5.3h-5.3zM132.3 392.3h5.3v5.3h-5.3zM137.3 392.3h5.3v5.3h-5.3zM67.3 397.3h5.3v5.3h-5.3zM107.3 397.3h5.3v5.3h-5.3zM112.3 397.3h5.3v5.3h-5.3zM137.3 397.3h5.3v5.3h-5.3zM62.3 402.3h5.3v5.3h-5.3zM107.3 402.3h5.3v5.3h-5.3zM122.3 402.3h5.3v5.3h-5.3zM107.3 407.3h5.3v5.3h-5.3zM127.3 407.3h5.3v5.3h-5.3zM132.3 407.3h5.3v5.3h-5.3zM142.3 407.3h5.3v5.3h-5.3zM112.3 412.3h5.3v5.3h-5.3zM117.3 412.3h5.3v5.3h-5.3zM122.3 412.3h5.3v5.3h-5.3z"/><path fill="rgb(136,136,136)" d="M167.3 222.3h5.3v5.3h-5.3zM132.3 232.3h5.3v5.3h-5.3zM132.3 237.3h5.3v5.3h-5.3zM132.3 242.3h5.3v5.3h-5.3zM172.3 242.3h5.3v5.3h-5.3zM132.3 247.3h5.3v5.3h-5.3zM187.3 247.3h5.3v5.3h-5.3zM127.3 282.3h5.3v5.3h-5.3zM132.3 292.3h5.3v5.3h-5.3zM77.3 302.3h5.3v5.3h-5.3zM137.3 302.3h5.3v5.3h-5.3zM82.3 307.3h5.3v5.3h-5.3zM142.3 322.3h5.3v5.3h-5.3zM147.3 322.3h5.3v5.3h-5.3zM157.3 322.3h5.3v5.3h-5.3zM142.3 327.3h5.3v5.3h-5.3zM147.3 327.3h5.3v5.3h-5.3zM152.3 332.3h5.3v5.3h-5.3zM27.3 337.3h5.3v5.3h-5.3zM137.3 337.3h5.3v5.3h-5.3zM137.3 342.3h5.3v5.3h-5.3zM137.3 347.3h5.3v5.3h-5.3zM137.3 352.3h5.3v5.3h-5.3zM127.3 357.3h5.3v5.3h-5.3zM132.3 357.3h5.3v5.3h-5.3zM142.3 357.3h5.3v5.3h-5.3zM132.3 367.3h5.3v5.3h-5.3zM127.3 372.3h5.3v5.3h-5.3zM127.3 377.3h5.3v5.3h-5.3zM132.3 377.3h5.3v5.3h-5.3zM137.3 377.3h5.3v5.3h-5.3zM127.3 382.3h5.3v5.3h-5.3zM132.3 382.3h5.3v5.3h-5.3zM142.3 382.3h5.3v5.3h-5.3zM57.3 387.3h5.3v5.3h-5.3zM127.3 387.3h5.3v5.3h-5.3zM132.3 387.3h5.3v5.3h-5.3zM142.3 392.3h5.3v5.3h-5.3zM142.3 397.3h5.3v5.3h-5.3zM57.3 402.3h5.3v5.3h-5.3zM112.3 402.3h5.3v5.3h-5.3zM117.3 402.3h5.3v5.3h-5.3zM142.3 402.3h5.3v5.3h-5.3zM112.3 407.3h5.3v5.3h-5.3zM117.3 407.3h5.3v5.3h-5.3zM122.3 407.3h5.3v5.3h-5.3zM147.3 412.3h5.3v5.3h-5.3z"/><path fill="rgb(138,138,138)" d="M17.3 222.3h5.3v5.3h-5.3zM137.3 222.3h5.3v5.3h-5.3zM137.3 227.3h5.3v5.3h-5.3zM167.3 227.3h5.3v5.3h-5.3zM182.3 247.3h5.3v5.3h-5.3zM192.3 247.3h5.3v5.3h-5.3zM197.3 247.3h5.3v5.3h-5.3zM202.3 247.3h5.3v5.3h-5.3zM207.3 252.3h5.3v5.3h-5.3zM127.3 257.3h5.3v5.3h-5.3zM127.3 277.3h5.3v5.3h-5.3zM137.3 297.3h5.3v5.3h-5.3zM82.3 302.3h5.3v5.3h-5.3zM77.3 307.3h5.3v5.3h-5.3zM142.3 317.3h5.3v5.3h-5.3zM157.3 332.3h5.3v5.3h-5.3zM142.3 352.3h5.3v5.3h-5.3zM142.3 362.3h5.3v5.3h-5.3zM137.3 367.3h5.3v5.3h-5.3zM132.3 372.3h5.3v5.3h-5.3zM142.3 377.3h5.3v5.3h-5.3zM167.3 382.3h5.3v5.3h-5.3zM172.3 382.3h5.3v5.3h-5.3zM147.3 387.3h5.3v5.3h-5.3zM167.3 387.3h5.3v5.3h-5.3zM172.3 387.3h5.3v5.3h-5.3zM177.3 387.3h5.3v5.3h-5.3zM202.3 387.3h5.3v5.3h-5.3zM147.3 392.3h5.3v5.3h-5.3zM152.3 392.3h5.3v5.3h-5.3zM172.3 392.3h5.3v5.3h-5.3zM177.3 392.3h5.3v5.3h-5.3zM182.3 392.3h5.3v5.3h-5.3zM52.3 397.3h5.3v5.3h-5.3zM147.3 397.3h5.3v5.3h-5.3zM152.3 397.3h5.3v5.3h-5.3zM157.3 397.3h5.3v5.3h-5.3zM167.3 397.3h5.3v5.3h-5.3zM172.3 397.3h5.3v5.3h-5.3zM177.3 397.3h5.3v5.3h-5.3zM182.3 397.3h5.3v5.3h-5.3zM147.3 402.3h5.3v5.3h-5.3zM152.3 402.3h5.3v5.3h-5.3zM157.3 402.3h5.3v5.3h-5.3zM162.3 402.3h5.3v5.3h-5.3zM167.3 402.3h5.3v5.3h-5.3zM172.3 402.3h5.3v5.3h-5.3zM177.3 402.3h5.3v5.3h-5.3zM182.3 402.3h5.3v5.3h-5.3zM147.3 407.3h5.3v5.3h-5.3zM177.3 407.3h5.3v5.3h-5.3zM182.3 407.3h5.3v5.3h-5.3zM182.3 412.3h5.3v5.3h-5.3z"/><path fill="rgb(140,140,140)" d="M162.3 222.3h5.3v5.3h-5.3zM137.3 242.3h5.3v5.3h-5.3zM167.3 242.3h5.3v5.3h-5.3zM177.3 247.3h5.3v5.3h-5.3zM132.3 252.3h5.3v5.3h-5.3zM202.3 252.3h5.3v5.3h-5.3zM127.3 262.3h5.3v5.3h-5.3zM127.3 267.3h5.3v5.3h-5.3zM127.3 272.3h5.3v5.3h-5.3zM132.3 287.3h5.3v5.3h-5.3zM172.3 297.3h5.3v5.3h-5.3zM177.3 297.3h5.3v5.3h-5.3zM172.3 302.3h5.3v5.3h-5.3zM177.3 302.3h5.3v5.3h-5.3zM182.3 302.3h5.3v5.3h-5.3zM142.3 307.3h5.3v5.3h-5.3zM147.3 307.3h5.3v5.3h-5.3zM152.3 307.3h5.3v5.3h-5.3zM177.3 307.3h5.3v5.3h-5.3zM182.3 307.3h5.3v5.3h-5.3zM187.3 307.3h5.3v5.3h-5.3zM142.3 312.3h5.3v5.3h-5.3zM147.3 312.3h5.3v5.3h-5.3zM182.3 312.3h5.3v5.3h-5.3zM147.3 317.3h5.3v5.3h-5.3zM152.3 317.3h5.3v5.3h-5.3zM157.3 317.3h5.3v5.3h-5.3zM207.3 317.3h5.3v5.3h-5.3zM162.3 322.3h5.3v5.3h-5.3zM162.3 327.3h5.3v5.3h-5.3zM192.3 327.3h5.3v5.3h-5.3zM142.3 332.3h5.3v5.3h-5.3zM147.3 332.3h5.3v5.3h-5.3zM187.3 332.3h5.3v5.3h-5.3zM192.3 332.3h5.3v5.3h-5.3zM157.3 337.3h5.3v5.3h-5.3zM162.3 342.3h5.3v5.3h-5.3zM167.3 342.3h5.3v5.3h-5.3zM142.3 347.3h5.3v5.3h-5.3zM157.3 347.3h5.3v5.3h-5.3zM162.3 347.3h5.3v5.3h-5.3zM167.3 347.3h5.3v5.3h-5.3zM152.3 352.3h5.3v5.3h-5.3zM157.3 352.3h5.3v5.3h-5.3zM172.3 352.3h5.3v5.3h-5.3zM147.3 357.3h5.3v5.3h-5.3zM172.3 357.3h5.3v5.3h-5.3zM177.3 357.3h5.3v5.3h-5.3zM147.3 362.3h5.3v5.3h-5.3zM167.3 362.3h5.3v5.3h-5.3zM172.3 362.3h5.3v5.3h-5.3zM142.3 367.3h5.3v5.3h-5.3zM152.3 367.3h5.3v5.3h-5.3zM157.3 367.3h5.3v5.3h-5.3zM162.3 367.3h5.3v5.3h-5.3zM167.3 367.3h5.3v5.3h-5.3zM137.3 372.3h5.3v5.3h-5.3zM152.3 372.3h5.3v5.3h-5.3zM157.3 372.3h5.3v5.3h-5.3zM162.3 372.3h5.3v5.3h-5.3zM162.3 377.3h5.3v5.3h-5.3zM167.3 377.3h5.3v5.3h-5.3zM172.3 377.3h5.3v5.3h-5.3zM147.3 382.3h5.3v5.3h-5.3zM162.3 382.3h5.3v5.3h-5.3zM177.3 382.3h5.3v5.3h-5.3zM182.3 382.3h5.3v5.3h-5.3zM197.3 382.3h5.3v5.3h-5.3zM182.3 387.3h5.3v5.3h-5.3zM197.3 387.3h5.3v5.3h-5.3zM167.3 392.3h5.3v5.3h-5.3zM187.3 392.3h5.3v5.3h-5.3zM197.3 392.3h5.3v5.3h-5.3zM202.3 392.3h5.3v5.3h-5.3zM62.3 397.3h5.3v5.3h-5.3zM162.3 397.3h5.3v5.3h-5.3zM187.3 397.3h5.3v5.3h-5.3zM197.3 397.3h5.3v5.3h-5.3zM202.3 397.3h5.3v5.3h-5.3zM187.3 402.3h5.3v5.3h-5.3zM202.3 402.3h5.3v5.3h-5.3zM152.3 407.3h5.3v5.3h-5.3zM157.3 407.3h5.3v5.3h-5.3zM162.3 407.3h5.3v5.3h-5.3zM167.3 407.3h5.3v5.3h-5.3zM172.3 407.3h5.3v5.3h-5.3zM187.3 407.3h5.3v5.3h-5.3zM152.3 412.3h5.3v5.3h-5.3zM167.3 412.3h5.3v5.3h-5.3zM172.3 412.3h5.3v5.3h-5.3zM177.3 412.3h5.3v5.3h-5.3zM187.3 412.3h5.3v5.3h-5.3z"/><path fill="rgb(142,142,142)" d="M157.3 222.3h5.3v5.3h-5.3zM137.3 232.3h5.3v5.3h-5.3zM167.3 232.3h5.3v5.3h-5.3zM137.3 237.3h5.3v5.3h-5.3zM142.3 237.3h5.3v5.3h-5.3zM147.3 237.3h5.3v5.3h-5.3zM167.3 237.3h5.3v5.3h-5.3zM142.3 242.3h5.3v5.3h-5.3zM147.3 242.3h5.3v5.3h-5.3zM152.3 242.3h5.3v5.3h-5.3zM137.3 247.3h5.3v5.3h-5.3zM172.3 247.3h5.3v5.3h-5.3zM187.3 252.3h5.3v5.3h-5.3zM192.3 252.3h5.3v5.3h-5.3zM197.3 252.3h5.3v5.3h-5.3zM202.3 257.3h5.3v5.3h-5.3zM137.3 292.3h5.3v5.3h-5.3zM172.3 292.3h5.3v5.3h-5.3zM177.3 292.3h5.3v5.3h-5.3zM157.3 297.3h5.3v5.3h-5.3zM162.3 297.3h5.3v5.3h-5.3zM167.3 297.3h5.3v5.3h-5.3zM182.3 297.3h5.3v5.3h-5.3zM27.3 302.3h5.3v5.3h-5.3zM142.3 302.3h5.3v5.3h-5.3zM152.3 302.3h5.3v5.3h-5.3zM157.3 302.3h5.3v5.3h-5.3zM162.3 302.3h5.3v5.3h-5.3zM167.3 302.3h5.3v5.3h-5.3zM187.3 302.3h5.3v5.3h-5.3zM192.3 302.3h5.3v5.3h-5.3zM197.3 302.3h5.3v5.3h-5.3zM157.3 307.3h5.3v5.3h-5.3zM172.3 307.3h5.3v5.3h-5.3zM192.3 307.3h5.3v5.3h-5.3zM197.3 307.3h5.3v5.3h-5.3zM202.3 307.3h5.3v5.3h-5.3zM152.3 312.3h5.3v5.3h-5.3zM177.3 312.3h5.3v5.3h-5.3zM187.3 312.3h5.3v5.3h-5.3zM202.3 312.3h5.3v5.3h-5.3zM207.3 312.3h5.3v5.3h-5.3zM207.3 322.3h5.3v5.3h-5.3zM187.3 327.3h5.3v5.3h-5.3zM197.3 327.3h5.3v5.3h-5.3zM27.3 332.3h5.3v5.3h-5.3zM162.3 332.3h5.3v5.3h-5.3zM197.3 332.3h5.3v5.3h-5.3zM142.3 337.3h5.3v5.3h-5.3zM152.3 337.3h5.3v5.3h-5.3zM162.3 337.3h5.3v5.3h-5.3zM167.3 337.3h5.3v5.3h-5.3zM187.3 337.3h5.3v5.3h-5.3zM192.3 337.3h5.3v5.3h-5.3zM142.3 342.3h5.3v5.3h-5.3zM152.3 342.3h5.3v5.3h-5.3zM157.3 342.3h5.3v5.3h-5.3zM172.3 342.3h5.3v5.3h-5.3zM152.3 347.3h5.3v5.3h-5.3zM172.3 347.3h5.3v5.3h-5.3zM177.3 347.3h5.3v5.3h-5.3zM147.3 352.3h5.3v5.3h-5.3zM162.3 352.3h5.3v5.3h-5.3zM167.3 352.3h5.3v5.3h-5.3zM177.3 352.3h5.3v5.3h-5.3zM152.3 357.3h5.3v5.3h-5.3zM157.3 357.3h5.3v5.3h-5.3zM167.3 357.3h5.3v5.3h-5.3zM182.3 357.3h5.3v5.3h-5.3zM152.3 362.3h5.3v5.3h-5.3zM157.3 362.3h5.3v5.3h-5.3zM162.3 362.3h5.3v5.3h-5.3zM177.3 362.3h5.3v5.3h-5.3zM182.3 362.3h5.3v5.3h-5.3zM187.3 362.3h5.3v5.3h-5.3zM147.3 367.3h5.3v5.3h-5.3zM172.3 367.3h5.3v5.3h-5.3zM142.3 372.3h5.3v5.3h-5.3zM147.3 372.3h5.3v5.3h-5.3zM167.3 372.3h5.3v5.3h-5.3zM172.3 372.3h5.3v5.3h-5.3zM147.3 377.3h5.3v5.3h-5.3zM152.3 377.3h5.3v5.3h-5.3zM157.3 377.3h5.3v5.3h-5.3zM177.3 377.3h5.3v5.3h-5.3zM152.3 382.3h5.3v5.3h-5.3zM157.3 382.3h5.3v5.3h-5.3zM187.3 382.3h5.3v5.3h-5.3zM192.3 382.3h5.3v5.3h-5.3zM202.3 382.3h5.3v5.3h-5.3zM152.3 387.3h5.3v5.3h-5.3zM162.3 387.3h5.3v5.3h-5.3zM187.3 387.3h5.3v5.3h-5.3zM207.3 387.3h5.3v5.3h-5.3zM52.3 392.3h5.3v5.3h-5.3zM62.3 392.3h5.3v5.3h-5.3zM157.3 392.3h5.3v5.3h-5.3zM162.3 392.3h5.3v5.3h-5.3zM192.3 392.3h5.3v5.3h-5.3zM207.3 392.3h5.3v5.3h-5.3zM192.3 397.3h5.3v5.3h-5.3zM207.3 397.3h5.3v5.3h-5.3zM207.3 402.3h5.3v5.3h-5.3zM157.3 412.3h5.3v5.3h-5.3zM162.3 412.3h5.3v5.3h-5.3zM192.3 412.3h5.3v5.3h-5.3z"/><path fill="rgb(144,144,144)" d="M142.3 222.3h5.3v5.3h-5.3zM152.3 222.3h5.3v5.3h-5.3zM142.3 227.3h5.3v5.3h-5.3zM162.3 227.3h5.3v5.3h-5.3zM142.3 232.3h5.3v5.3h-5.3zM152.3 237.3h5.3v5.3h-5.3zM162.3 242.3h5.3v5.3h-5.3zM142.3 247.3h5.3v5.3h-5.3zM147.3 247.3h5.3v5.3h-5.3zM167.3 247.3h5.3v5.3h-5.3zM182.3 252.3h5.3v5.3h-5.3zM207.3 257.3h5.3v5.3h-5.3zM132.3 282.3h5.3v5.3h-5.3zM172.3 287.3h5.3v5.3h-5.3zM177.3 287.3h5.3v5.3h-5.3zM162.3 292.3h5.3v5.3h-5.3zM167.3 292.3h5.3v5.3h-5.3zM142.3 297.3h5.3v5.3h-5.3zM147.3 302.3h5.3v5.3h-5.3zM202.3 302.3h5.3v5.3h-5.3zM162.3 307.3h5.3v5.3h-5.3zM167.3 307.3h5.3v5.3h-5.3zM207.3 307.3h5.3v5.3h-5.3zM157.3 312.3h5.3v5.3h-5.3zM172.3 312.3h5.3v5.3h-5.3zM192.3 312.3h5.3v5.3h-5.3zM197.3 312.3h5.3v5.3h-5.3zM162.3 317.3h5.3v5.3h-5.3zM177.3 317.3h5.3v5.3h-5.3zM182.3 317.3h5.3v5.3h-5.3zM187.3 317.3h5.3v5.3h-5.3zM202.3 317.3h5.3v5.3h-5.3zM167.3 322.3h5.3v5.3h-5.3zM192.3 322.3h5.3v5.3h-5.3zM202.3 322.3h5.3v5.3h-5.3zM202.3 327.3h5.3v5.3h-5.3zM207.3 327.3h5.3v5.3h-5.3zM182.3 332.3h5.3v5.3h-5.3zM202.3 332.3h5.3v5.3h-5.3zM147.3 337.3h5.3v5.3h-5.3zM172.3 337.3h5.3v5.3h-5.3zM182.3 337.3h5.3v5.3h-5.3zM197.3 337.3h5.3v5.3h-5.3zM147.3 342.3h5.3v5.3h-5.3zM177.3 342.3h5.3v5.3h-5.3zM182.3 342.3h5.3v5.3h-5.3zM187.3 342.3h5.3v5.3h-5.3zM192.3 342.3h5.3v5.3h-5.3zM147.3 347.3h5.3v5.3h-5.3zM182.3 347.3h5.3v5.3h-5.3zM187.3 347.3h5.3v5.3h-5.3zM182.3 352.3h5.3v5.3h-5.3zM187.3 352.3h5.3v5.3h-5.3zM162.3 357.3h5.3v5.3h-5.3zM187.3 357.3h5.3v5.3h-5.3zM192.3 357.3h5.3v5.3h-5.3zM192.3 362.3h5.3v5.3h-5.3zM177.3 367.3h5.3v5.3h-5.3zM182.3 367.3h5.3v5.3h-5.3zM187.3 367.3h5.3v5.3h-5.3zM192.3 367.3h5.3v5.3h-5.3zM177.3 372.3h5.3v5.3h-5.3zM187.3 372.3h5.3v5.3h-5.3zM182.3 377.3h5.3v5.3h-5.3zM187.3 377.3h5.3v5.3h-5.3zM192.3 377.3h5.3v5.3h-5.3zM197.3 377.3h5.3v5.3h-5.3zM157.3 387.3h5.3v5.3h-5.3zM192.3 387.3h5.3v5.3h-5.3zM57.3 397.3h5.3v5.3h-5.3zM192.3 402.3h5.3v5.3h-5.3zM197.3 402.3h5.3v5.3h-5.3zM192.3 407.3h5.3v5.3h-5.3zM202.3 407.3h5.3v5.3h-5.3z"/><path fill="rgb(146,146,146)" d="M147.3 222.3h5.3v5.3h-5.3zM147.3 232.3h5.3v5.3h-5.3zM162.3 237.3h5.3v5.3h-5.3zM157.3 242.3h5.3v5.3h-5.3zM152.3 247.3h5.3v5.3h-5.3zM157.3 247.3h5.3v5.3h-5.3zM162.3 247.3h5.3v5.3h-5.3zM132.3 257.3h5.3v5.3h-5.3zM197.3 257.3h5.3v5.3h-5.3zM192.3 272.3h5.3v5.3h-5.3zM197.3 272.3h5.3v5.3h-5.3zM132.3 277.3h5.3v5.3h-5.3zM172.3 282.3h5.3v5.3h-5.3zM137.3 287.3h5.3v5.3h-5.3zM167.3 287.3h5.3v5.3h-5.3zM142.3 292.3h5.3v5.3h-5.3zM157.3 292.3h5.3v5.3h-5.3zM182.3 292.3h5.3v5.3h-5.3zM147.3 297.3h5.3v5.3h-5.3zM152.3 297.3h5.3v5.3h-5.3zM187.3 297.3h5.3v5.3h-5.3zM192.3 297.3h5.3v5.3h-5.3zM197.3 297.3h5.3v5.3h-5.3zM207.3 302.3h5.3v5.3h-5.3zM27.3 307.3h5.3v5.3h-5.3zM27.3 312.3h5.3v5.3h-5.3zM162.3 312.3h5.3v5.3h-5.3zM167.3 312.3h5.3v5.3h-5.3zM167.3 317.3h5.3v5.3h-5.3zM172.3 317.3h5.3v5.3h-5.3zM192.3 317.3h5.3v5.3h-5.3zM197.3 317.3h5.3v5.3h-5.3zM187.3 322.3h5.3v5.3h-5.3zM197.3 322.3h5.3v5.3h-5.3zM167.3 327.3h5.3v5.3h-5.3zM182.3 327.3h5.3v5.3h-5.3zM167.3 332.3h5.3v5.3h-5.3zM207.3 332.3h5.3v5.3h-5.3zM177.3 337.3h5.3v5.3h-5.3zM202.3 337.3h5.3v5.3h-5.3zM197.3 342.3h5.3v5.3h-5.3zM202.3 342.3h5.3v5.3h-5.3zM192.3 347.3h5.3v5.3h-5.3zM197.3 347.3h5.3v5.3h-5.3zM192.3 352.3h5.3v5.3h-5.3zM197.3 352.3h5.3v5.3h-5.3zM197.3 362.3h5.3v5.3h-5.3zM197.3 367.3h5.3v5.3h-5.3zM182.3 372.3h5.3v5.3h-5.3zM192.3 372.3h5.3v5.3h-5.3zM197.3 372.3h5.3v5.3h-5.3zM202.3 377.3h5.3v5.3h-5.3zM207.3 382.3h5.3v5.3h-5.3zM197.3 407.3h5.3v5.3h-5.3zM207.3 407.3h5.3v5.3h-5.3zM197.3 412.3h5.3v5.3h-5.3z"/><path fill="rgb(148,148,148)" d="M147.3 227.3h5.3v5.3h-5.3zM152.3 227.3h5.3v5.3h-5.3zM157.3 227.3h5.3v5.3h-5.3zM152.3 232.3h5.3v5.3h-5.3zM162.3 232.3h5.3v5.3h-5.3zM157.3 237.3h5.3v5.3h-5.3zM137.3 252.3h5.3v5.3h-5.3zM172.3 252.3h5.3v5.3h-5.3zM177.3 252.3h5.3v5.3h-5.3zM187.3 257.3h5.3v5.3h-5.3zM192.3 257.3h5.3v5.3h-5.3zM192.3 267.3h5.3v5.3h-5.3zM132.3 272.3h5.3v5.3h-5.3zM187.3 272.3h5.3v5.3h-5.3zM202.3 272.3h5.3v5.3h-5.3zM207.3 272.3h5.3v5.3h-5.3zM172.3 277.3h5.3v5.3h-5.3zM177.3 277.3h5.3v5.3h-5.3zM187.3 277.3h5.3v5.3h-5.3zM192.3 277.3h5.3v5.3h-5.3zM197.3 277.3h5.3v5.3h-5.3zM202.3 277.3h5.3v5.3h-5.3zM207.3 277.3h5.3v5.3h-5.3zM167.3 282.3h5.3v5.3h-5.3zM177.3 282.3h5.3v5.3h-5.3zM207.3 282.3h5.3v5.3h-5.3zM182.3 287.3h5.3v5.3h-5.3zM207.3 287.3h5.3v5.3h-5.3zM147.3 292.3h5.3v5.3h-5.3zM152.3 292.3h5.3v5.3h-5.3zM187.3 292.3h5.3v5.3h-5.3zM207.3 292.3h5.3v5.3h-5.3zM202.3 297.3h5.3v5.3h-5.3zM207.3 297.3h5.3v5.3h-5.3zM172.3 322.3h5.3v5.3h-5.3zM177.3 322.3h5.3v5.3h-5.3zM182.3 322.3h5.3v5.3h-5.3zM172.3 332.3h5.3v5.3h-5.3zM177.3 332.3h5.3v5.3h-5.3zM207.3 337.3h5.3v5.3h-5.3zM202.3 347.3h5.3v5.3h-5.3zM197.3 357.3h5.3v5.3h-5.3zM207.3 362.3h5.3v5.3h-5.3zM202.3 367.3h5.3v5.3h-5.3zM207.3 367.3h5.3v5.3h-5.3zM202.3 372.3h5.3v5.3h-5.3zM207.3 372.3h5.3v5.3h-5.3zM57.3 392.3h5.3v5.3h-5.3zM202.3 412.3h5.3v5.3h-5.3zM207.3 412.3h5.3v5.3h-5.3z"/><path fill="rgb(150,150,150)" d="M157.3 232.3h5.3v5.3h-5.3zM152.3 252.3h5.3v5.3h-5.3zM157.3 252.3h5.3v5.3h-5.3zM162.3 252.3h5.3v5.3h-5.3zM167.3 252.3h5.3v5.3h-5.3zM132.3 262.3h5.3v5.3h-5.3zM202.3 262.3h5.3v5.3h-5.3zM207.3 262.3h5.3v5.3h-5.3zM132.3 267.3h5.3v5.3h-5.3zM187.3 267.3h5.3v5.3h-5.3zM197.3 267.3h5.3v5.3h-5.3zM202.3 267.3h5.3v5.3h-5.3zM207.3 267.3h5.3v5.3h-5.3zM177.3 272.3h5.3v5.3h-5.3zM182.3 272.3h5.3v5.3h-5.3zM167.3 277.3h5.3v5.3h-5.3zM182.3 277.3h5.3v5.3h-5.3zM137.3 282.3h5.3v5.3h-5.3zM182.3 282.3h5.3v5.3h-5.3zM187.3 282.3h5.3v5.3h-5.3zM192.3 282.3h5.3v5.3h-5.3zM202.3 282.3h5.3v5.3h-5.3zM142.3 287.3h5.3v5.3h-5.3zM157.3 287.3h5.3v5.3h-5.3zM162.3 287.3h5.3v5.3h-5.3zM187.3 287.3h5.3v5.3h-5.3zM192.3 287.3h5.3v5.3h-5.3zM197.3 287.3h5.3v5.3h-5.3zM202.3 287.3h5.3v5.3h-5.3zM192.3 292.3h5.3v5.3h-5.3zM197.3 292.3h5.3v5.3h-5.3zM202.3 292.3h5.3v5.3h-5.3zM27.3 317.3h5.3v5.3h-5.3zM27.3 327.3h5.3v5.3h-5.3zM172.3 327.3h5.3v5.3h-5.3zM177.3 327.3h5.3v5.3h-5.3zM207.3 342.3h5.3v5.3h-5.3zM202.3 352.3h5.3v5.3h-5.3zM207.3 352.3h5.3v5.3h-5.3zM202.3 357.3h5.3v5.3h-5.3zM207.3 357.3h5.3v5.3h-5.3zM202.3 362.3h5.3v5.3h-5.3zM207.3 377.3h5.3v5.3h-5.3z"/><path fill="rgb(152,152,152)" d="M147.3 252.3h5.3v5.3h-5.3zM157.3 257.3h5.3v5.3h-5.3zM182.3 257.3h5.3v5.3h-5.3zM187.3 262.3h5.3v5.3h-5.3zM192.3 262.3h5.3v5.3h-5.3zM197.3 262.3h5.3v5.3h-5.3zM182.3 267.3h5.3v5.3h-5.3zM172.3 272.3h5.3v5.3h-5.3zM137.3 277.3h5.3v5.3h-5.3zM142.3 282.3h5.3v5.3h-5.3zM162.3 282.3h5.3v5.3h-5.3zM197.3 282.3h5.3v5.3h-5.3zM147.3 287.3h5.3v5.3h-5.3zM152.3 287.3h5.3v5.3h-5.3zM27.3 322.3h5.3v5.3h-5.3zM207.3 347.3h5.3v5.3h-5.3z"/><path fill="rgb(154,154,154)" d="M142.3 252.3h5.3v5.3h-5.3zM152.3 257.3h5.3v5.3h-5.3zM162.3 257.3h5.3v5.3h-5.3zM177.3 257.3h5.3v5.3h-5.3zM182.3 262.3h5.3v5.3h-5.3zM137.3 272.3h5.3v5.3h-5.3zM167.3 272.3h5.3v5.3h-5.3zM142.3 277.3h5.3v5.3h-5.3zM162.3 277.3h5.3v5.3h-5.3zM147.3 282.3h5.3v5.3h-5.3zM152.3 282.3h5.3v5.3h-5.3zM157.3 282.3h5.3v5.3h-5.3z"/><path fill="rgb(156,156,156)" d="M137.3 257.3h5.3v5.3h-5.3zM167.3 257.3h5.3v5.3h-5.3zM172.3 257.3h5.3v5.3h-5.3zM157.3 262.3h5.3v5.3h-5.3zM152.3 267.3h5.3v5.3h-5.3zM157.3 267.3h5.3v5.3h-5.3zM162.3 267.3h5.3v5.3h-5.3zM177.3 267.3h5.3v5.3h-5.3zM157.3 272.3h5.3v5.3h-5.3zM162.3 272.3h5.3v5.3h-5.3zM147.3 277.3h5.3v5.3h-5.3zM152.3 277.3h5.3v5.3h-5.3zM157.3 277.3h5.3v5.3h-5.3z"/><path fill="rgb(158,158,158)" d="M137.3 262.3h5.3v5.3h-5.3zM152.3 262.3h5.3v5.3h-5.3zM162.3 262.3h5.3v5.3h-5.3zM177.3 262.3h5.3v5.3h-5.3zM137.3 267.3h5.3v5.3h-5.3zM167.3 267.3h5.3v5.3h-5.3zM172.3 267.3h5.3v5.3h-5.3zM142.3 272.3h5.3v5.3h-5.3zM147.3 272.3h5.3v5.3h-5.3zM152.3 272.3h5.3v5.3h-5.3z"/><path fill="rgb(160,160,160)" d="M147.3 257.3h5.3v5.3h-5.3zM167.3 262.3h5.3v5.3h-5.3zM172.3 262.3h5.3v5.3h-5.3zM147.3 267.3h5.3v5.3h-5.3z"/><path fill="rgb(162,162,162)" d="M142.3 257.3h5.3v5.3h-5.3zM142.3 267.3h5.3v5.3h-5.3z"/><path fill="rgb(164,164,164)" d="M147.3 262.3h5.3v5.3h-5.3z"/><path fill="rgb(166,166,166)" d="M142.3 262.3h5.3v5.3h-5.3z"/>
</g><path d="M18.1 359.6l6.2 -11.3M41.9 254.7l5.5 -10.0M74.9 320.3l3.4 -6.2M32.5 357.6l6.3 -11.5M93.6 308.6l4.7 -8.6M99.3 272.4l3.6 -6.6M55.2 315.3l4.5 -8.1M115.4 274.9l4.0 -7.2M85.2 258.6l4.8 -8.8M59.8 282.7l6.9 -12.5M31.7 350.8l3.9 -7.2M76.9 412.4l7.6 -13.9M114.5 332.8l4.2 -7.6M55.3 375.1l4.0 -7.3M85.5 291.6l8.3 -15.2M53.3 291.6l4.8 -8.7M72.7 407.6l6.3 -11.4M93.4 328.1l3.8 -6.8M77.5 341.7l6.6 -12.0M48.0 281.4l5.1 -9.3M20.5 262.0l4.9 -8.9M69.9 400.0l7.2 -13.0M70.3 364.2l5.7 -10.4M22.2 358.6l7.2 -13.1M84.6 389.2l7.6 -13.8M102.4 240.8l8.8 -16.0M77.7 341.4l6.7 -12.1M45.0 288.0l8.1 -14.8M79.0 409.0l4.4 -8.1M77.4 342.7l3.5 -6.4M81.6 303.0l5.7 -10.3M36.4 341.7l7.0 -12.7M108.9 387.2l8.7 -15.8M117.5 361.2l4.8 -8.8M72.8 247.7l6.4 -11.7M48.7 331.0l7.4 -13.5M23.5 393.5l3.5 -6.4M67.6 272.5l3.5 -6.4M66.6 280.5l3.7 -6.8M102.0 277.5l8.5 -15.4M79.8 297.7l3.6 -6.6M105.2 252.3l7.6 -13.8M71.6 316.1l3.7 -6.8M60.5 235.3l7.5 -13.6M89.9 257.3l6.1 -11.1M35.6 363.3l4.3 -7.9M35.0 284.6l8.6 -15.7M101.4 306.5l7.7 -13.9M54.4 266.8l8.2 -15.0M21.1 378.2l8.6 -15.6M25.9 390.4l7.6 -13.8M21.7 314.0l4.7 -8.6M56.8 302.6l5.5 -9.9M18.3 282.2l4.9 -8.9M84.0 360.4l7.4 -13.5M82.7 396.8l6.4 -11.6M49.5 239.7l7.3 -13.3M75.1 262.4l6.1 -11.1M114.3 343.7l5.0 -9.1M100.1 304.9l3.4 -6.1M25.5 409.2l3.8 -6.9M97.8 237.9l5.6 -10.2M46.3 295.6l3.8 -6.9M58.6 372.0l6.2 -11.2M30.9 380.5l8.1 -14.7M64.2 298.4l3.4 -6.2M24.5 301.4l3.9 -7.1M116.9 350.8l5.0 -9.1M77.4 263.3l8.3 -15.2M68.7 361.0l4.3 -7.8" stroke="#fff" stroke-opacity="0.09" stroke-width="1.6" fill="none"/>
</g></g>
<path d="M160.5 282.3h1.1v1.1h-1.1zM154.1 242.0h1.1v1.1h-1.1zM160.2 289.1h1.1v1.1h-1.1zM159.7 298.7h1.1v1.1h-1.1zM167.0 292.7h1.1v1.1h-1.1zM127.4 277.1h1.1v1.1h-1.1zM163.3 260.2h1.1v1.1h-1.1zM192.7 243.7h1.1v1.1h-1.1zM161.5 257.0h1.1v1.1h-1.1zM197.0 286.5h1.1v1.1h-1.1zM140.1 245.9h1.1v1.1h-1.1zM126.8 249.1h1.1v1.1h-1.1zM194.7 292.1h1.1v1.1h-1.1zM185.0 262.8h1.1v1.1h-1.1zM161.1 273.7h1.1v1.1h-1.1zM185.8 238.3h1.1v1.1h-1.1zM138.6 274.0h1.1v1.1h-1.1zM135.6 296.2h1.1v1.1h-1.1zM128.3 298.4h1.1v1.1h-1.1zM141.1 250.0h1.1v1.1h-1.1zM156.8 277.5h1.1v1.1h-1.1zM198.5 267.5h1.1v1.1h-1.1zM192.4 293.2h1.1v1.1h-1.1zM198.8 260.3h1.1v1.1h-1.1zM160.6 239.3h1.1v1.1h-1.1zM153.8 259.9h1.1v1.1h-1.1zM134.3 289.6h1.1v1.1h-1.1zM145.9 246.1h1.1v1.1h-1.1zM133.7 239.5h1.1v1.1h-1.1zM181.6 271.0h1.1v1.1h-1.1zM164.3 263.7h1.1v1.1h-1.1zM197.3 261.4h1.1v1.1h-1.1zM160.6 280.8h1.1v1.1h-1.1zM194.7 291.2h1.1v1.1h-1.1zM191.1 249.4h1.1v1.1h-1.1zM195.8 289.1h1.1v1.1h-1.1zM149.7 287.9h1.1v1.1h-1.1zM196.5 284.1h1.1v1.1h-1.1zM180.4 290.0h1.1v1.1h-1.1zM190.9 286.4h1.1v1.1h-1.1zM130.8 250.9h1.1v1.1h-1.1zM134.1 266.9h1.1v1.1h-1.1zM129.9 272.1h1.1v1.1h-1.1zM194.3 298.9h1.1v1.1h-1.1zM127.8 280.3h1.1v1.1h-1.1zM135.7 291.5h1.1v1.1h-1.1zM127.3 244.4h1.1v1.1h-1.1zM149.3 238.3h1.1v1.1h-1.1zM174.7 250.8h1.1v1.1h-1.1zM179.0 296.9h1.1v1.1h-1.1zM160.3 267.1h1.1v1.1h-1.1zM199.7 257.5h1.1v1.1h-1.1zM191.4 282.2h1.1v1.1h-1.1zM125.7 256.5h1.1v1.1h-1.1zM179.1 240.8h1.1v1.1h-1.1zM189.3 294.6h1.1v1.1h-1.1zM182.0 288.3h1.1v1.1h-1.1zM169.8 288.1h1.1v1.1h-1.1zM160.1 263.3h1.1v1.1h-1.1zM177.7 266.8h1.1v1.1h-1.1zM148.3 254.4h1.1v1.1h-1.1zM157.8 261.7h1.1v1.1h-1.1zM181.6 286.6h1.1v1.1h-1.1zM184.9 290.4h1.1v1.1h-1.1zM152.2 260.9h1.1v1.1h-1.1zM187.9 249.2h1.1v1.1h-1.1zM177.6 270.5h1.1v1.1h-1.1zM175.0 281.2h1.1v1.1h-1.1zM175.2 252.6h1.1v1.1h-1.1zM126.8 297.1h1.1v1.1h-1.1zM192.3 269.3h1.1v1.1h-1.1zM174.6 243.6h1.1v1.1h-1.1zM159.4 274.5h1.1v1.1h-1.1zM177.5 251.6h1.1v1.1h-1.1zM131.9 297.6h1.1v1.1h-1.1zM188.6 249.1h1.1v1.1h-1.1zM186.7 288.4h1.1v1.1h-1.1zM138.6 287.9h1.1v1.1h-1.1zM153.7 258.7h1.1v1.1h-1.1zM137.0 274.7h1.1v1.1h-1.1zM171.0 269.7h1.1v1.1h-1.1zM132.5 287.3h1.1v1.1h-1.1zM148.8 254.4h1.1v1.1h-1.1zM173.1 249.5h1.1v1.1h-1.1zM193.3 278.2h1.1v1.1h-1.1zM184.2 259.1h1.1v1.1h-1.1zM157.1 253.6h1.1v1.1h-1.1zM143.8 263.7h1.1v1.1h-1.1zM184.0 269.2h1.1v1.1h-1.1zM187.5 244.9h1.1v1.1h-1.1zM146.7 240.3h1.1v1.1h-1.1zM193.5 241.9h1.1v1.1h-1.1zM165.7 279.7h1.1v1.1h-1.1zM140.3 298.8h1.1v1.1h-1.1zM198.6 252.8h1.1v1.1h-1.1zM135.5 278.3h1.1v1.1h-1.1zM163.6 275.5h1.1v1.1h-1.1zM171.4 297.3h1.1v1.1h-1.1zM182.6 257.4h1.1v1.1h-1.1zM181.1 265.9h1.1v1.1h-1.1zM198.2 267.6h1.1v1.1h-1.1zM125.8 294.9h1.1v1.1h-1.1zM145.8 288.9h1.1v1.1h-1.1zM170.9 284.1h1.1v1.1h-1.1zM180.4 294.1h1.1v1.1h-1.1zM187.5 278.0h1.1v1.1h-1.1zM149.5 268.6h1.1v1.1h-1.1zM145.9 258.9h1.1v1.1h-1.1zM159.5 264.2h1.1v1.1h-1.1zM146.7 256.9h1.1v1.1h-1.1zM148.4 249.9h1.1v1.1h-1.1zM168.7 243.7h1.1v1.1h-1.1zM143.6 248.6h1.1v1.1h-1.1zM178.0 255.4h1.1v1.1h-1.1zM132.5 288.9h1.1v1.1h-1.1zM157.8 287.9h1.1v1.1h-1.1zM149.1 259.5h1.1v1.1h-1.1zM166.9 242.3h1.1v1.1h-1.1zM198.3 246.3h1.1v1.1h-1.1zM193.5 278.9h1.1v1.1h-1.1zM182.3 251.0h1.1v1.1h-1.1zM191.9 271.2h1.1v1.1h-1.1zM156.0 249.9h1.1v1.1h-1.1zM137.9 291.5h1.1v1.1h-1.1zM197.7 263.9h1.1v1.1h-1.1zM179.3 281.3h1.1v1.1h-1.1zM162.0 267.8h1.1v1.1h-1.1zM166.5 259.5h1.1v1.1h-1.1zM180.9 263.9h1.1v1.1h-1.1zM162.8 249.3h1.1v1.1h-1.1zM198.2 242.8h1.1v1.1h-1.1zM178.8 279.0h1.1v1.1h-1.1zM150.8 298.5h1.1v1.1h-1.1zM127.7 254.9h1.1v1.1h-1.1zM150.3 277.8h1.1v1.1h-1.1zM169.3 282.1h1.1v1.1h-1.1zM189.5 239.2h1.1v1.1h-1.1zM167.0 262.9h1.1v1.1h-1.1zM176.7 270.7h1.1v1.1h-1.1zM151.1 238.4h1.1v1.1h-1.1zM138.0 362.1h1.1v1.1h-1.1zM140.3 357.3h1.1v1.1h-1.1zM168.6 354.2h1.1v1.1h-1.1zM186.6 356.0h1.1v1.1h-1.1zM149.1 361.2h1.1v1.1h-1.1zM191.3 373.5h1.1v1.1h-1.1zM196.8 330.3h1.1v1.1h-1.1zM196.0 344.0h1.1v1.1h-1.1zM190.8 333.2h1.1v1.1h-1.1zM187.1 375.5h1.1v1.1h-1.1zM171.7 358.2h1.1v1.1h-1.1zM144.9 341.3h1.1v1.1h-1.1zM122.6 374.9h1.1v1.1h-1.1zM140.8 332.1h1.1v1.1h-1.1zM125.3 342.2h1.1v1.1h-1.1zM127.4 362.7h1.1v1.1h-1.1zM191.9 371.9h1.1v1.1h-1.1zM176.6 337.6h1.1v1.1h-1.1zM172.3 392.3h1.1v1.1h-1.1zM199.5 381.3h1.1v1.1h-1.1zM164.6 399.3h1.1v1.1h-1.1zM121.6 387.1h1.1v1.1h-1.1zM174.7 382.3h1.1v1.1h-1.1zM141.9 335.7h1.1v1.1h-1.1zM122.7 378.7h1.1v1.1h-1.1zM138.1 398.3h1.1v1.1h-1.1zM121.0 388.6h1.1v1.1h-1.1zM153.0 351.2h1.1v1.1h-1.1zM132.9 355.4h1.1v1.1h-1.1zM143.1 346.3h1.1v1.1h-1.1zM129.7 399.9h1.1v1.1h-1.1zM147.9 374.9h1.1v1.1h-1.1zM173.2 353.9h1.1v1.1h-1.1zM194.1 351.2h1.1v1.1h-1.1zM127.3 333.2h1.1v1.1h-1.1zM133.7 334.4h1.1v1.1h-1.1zM166.5 371.4h1.1v1.1h-1.1zM112.0 398.4h1.1v1.1h-1.1zM175.6 369.6h1.1v1.1h-1.1zM195.0 368.1h1.1v1.1h-1.1zM125.9 386.1h1.1v1.1h-1.1zM196.0 334.3h1.1v1.1h-1.1zM155.3 346.3h1.1v1.1h-1.1zM191.4 336.9h1.1v1.1h-1.1zM182.6 344.8h1.1v1.1h-1.1zM167.7 379.8h1.1v1.1h-1.1zM178.5 333.8h1.1v1.1h-1.1zM153.5 339.0h1.1v1.1h-1.1zM121.4 341.7h1.1v1.1h-1.1zM123.3 397.3h1.1v1.1h-1.1zM160.4 348.3h1.1v1.1h-1.1zM153.7 334.0h1.1v1.1h-1.1zM129.4 375.1h1.1v1.1h-1.1zM172.5 374.3h1.1v1.1h-1.1zM198.6 400.5h1.1v1.1h-1.1zM185.1 363.5h1.1v1.1h-1.1zM178.1 347.9h1.1v1.1h-1.1zM187.8 347.5h1.1v1.1h-1.1zM199.2 331.0h1.1v1.1h-1.1zM181.7 366.0h1.1v1.1h-1.1zM183.5 367.5h1.1v1.1h-1.1zM185.0 381.0h1.1v1.1h-1.1zM167.5 398.5h1.1v1.1h-1.1zM120.6 396.7h1.1v1.1h-1.1zM157.0 380.9h1.1v1.1h-1.1zM170.1 358.2h1.1v1.1h-1.1zM157.4 400.0h1.1v1.1h-1.1zM153.9 396.0h1.1v1.1h-1.1zM110.8 371.3h1.1v1.1h-1.1zM172.0 358.5h1.1v1.1h-1.1zM35.5 365.9h1.1v1.1h-1.1zM97.3 298.5h1.1v1.1h-1.1zM37.0 373.7h1.1v1.1h-1.1zM99.4 372.8h1.1v1.1h-1.1zM103.3 279.2h1.1v1.1h-1.1zM85.5 312.4h1.1v1.1h-1.1zM63.9 303.3h1.1v1.1h-1.1zM89.9 399.7h1.1v1.1h-1.1zM71.5 296.1h1.1v1.1h-1.1zM85.8 339.2h1.1v1.1h-1.1zM65.5 341.9h1.1v1.1h-1.1zM88.4 358.4h1.1v1.1h-1.1zM43.4 343.0h1.1v1.1h-1.1zM66.4 380.2h1.1v1.1h-1.1zM84.9 369.0h1.1v1.1h-1.1zM102.5 270.9h1.1v1.1h-1.1zM35.1 360.6h1.1v1.1h-1.1zM33.1 391.5h1.1v1.1h-1.1zM91.5 305.4h1.1v1.1h-1.1zM89.7 257.6h1.1v1.1h-1.1zM86.7 386.9h1.1v1.1h-1.1zM28.0 389.9h1.1v1.1h-1.1zM56.6 301.1h1.1v1.1h-1.1zM114.4 366.6h1.1v1.1h-1.1zM63.4 396.7h1.1v1.1h-1.1zM31.0 344.3h1.1v1.1h-1.1zM74.9 381.5h1.1v1.1h-1.1zM29.7 288.7h1.1v1.1h-1.1zM72.0 248.0h1.1v1.1h-1.1zM87.4 375.0h1.1v1.1h-1.1zM111.4 259.6h1.1v1.1h-1.1zM74.6 397.5h1.1v1.1h-1.1zM34.6 351.6h1.1v1.1h-1.1zM54.3 385.0h1.1v1.1h-1.1zM84.0 383.0h1.1v1.1h-1.1zM32.6 335.3h1.1v1.1h-1.1zM66.6 253.7h1.1v1.1h-1.1zM65.6 357.6h1.1v1.1h-1.1zM81.6 333.4h1.1v1.1h-1.1zM53.7 319.5h1.1v1.1h-1.1z" fill="#e6d870" fill-opacity="0.55"/>
<path d="M45.2 232.5 L44.2 240 L43 246 L41 252 L38.5 258 L36.5 263 L34.7 266.5" fill="none" stroke="#fff3c0" stroke-width="0.9" opacity="0.85"/>
<path d="M45.9 249.5 L41 253.5" stroke="#fffbe0" stroke-width="1.6" stroke-linecap="round"/>
<ellipse cx="39.8" cy="252.6" rx="1.6" ry="1.3" fill="#fffce8"/>
<path d="M34 277 L42.5 276.6" stroke="#fffce8" stroke-width="1.5" stroke-linecap="round"/>
<path d="M28.6 298 L28.6 352" stroke="#e8d070" stroke-width="1.1" opacity="0.75"/>
<path d="M113 373.2 L122 374.5 L131 376.5 L143.5 377.8 L152 375.5 L160 373 L168.6 371.5 M168.6 371.5 L169.7 380" fill="none" stroke="#fff6d8" stroke-width="0.9" opacity="0.95"/>
<circle cx="140.3" cy="379.5" r="1.1" fill="#fffbe8"/>
<circle cx="188" cy="335.5" r="1.1" fill="#fffbe8"/>
<path d="M86 303 L84 310 M81 318 L80 322 M77 333 L76 337 M73 347 L72 350" stroke="#f0e090" stroke-width="0.9" opacity="0.7"/>
<rect x="27.3" y="232.3" width="174.9" height="174.0" fill="none" stroke="#3a3238" stroke-width="0.8"/>
<rect x="150.4" y="387.5" width="44.2" height="3.2" fill="#fff" stroke="#000" stroke-width="0.6"/>
<text x="172.3" y="400" font-size="8.3" text-anchor="middle" fill="#fff" stroke="#000" stroke-width="1.6" paint-order="stroke" font-weight="bold">2μm</text>
<rect x="207.3" y="255.2" width="23.3" height="146.3" fill="url(#cbar)" stroke="#555" stroke-width="0.5"/>
<text x="219" y="251.5" font-size="6.5" text-anchor="middle" fill="#333" font-weight="normal" >nm</text>
<text x="219" y="261.8" font-size="7" text-anchor="middle" fill="#222" font-weight="normal" >1.25</text>
<text x="219" y="331" font-size="7" text-anchor="middle" fill="#f0e0d0" font-weight="normal" >0.00</text>
<text x="219" y="400" font-size="7" text-anchor="middle" fill="#fff" font-weight="normal" >-1.25</text>
<rect x="384.86" y="272.85" width="15.16" height="123.45" fill="#9438f8"/>
<rect x="401.52" y="363.99" width="15.16" height="32.31" fill="#9438f8"/>
<rect x="418.18" y="390.83" width="15.16" height="5.47" fill="#9438f8"/>
<path d="M283.5 399.3V230.6H450.1V396.3" fill="none" stroke="#7a7a7a" stroke-width="1"/>
<path d="M283.5 396.3H450.1" stroke="#111" stroke-width="1.5"/>
<path d="M283.5 396.30h-3M283.5 363.16h-3M283.5 330.02h-3M283.5 296.88h-3M283.5 263.74h-3M283.5 230.60h-3M325.15 396.3v3M366.80 396.3v3M408.45 396.3v3M450.10 396.3v3" stroke="#999" stroke-width="0.8"/>
<text x="277.7" y="399.60" font-size="9.4" text-anchor="end" fill="#1a1a1a" font-weight="normal" >0</text>
<text x="277.7" y="366.46" font-size="9.4" text-anchor="end" fill="#1a1a1a" font-weight="normal" >2</text>
<text x="277.7" y="333.32" font-size="9.4" text-anchor="end" fill="#1a1a1a" font-weight="normal" >4</text>
<text x="277.7" y="300.18" font-size="9.4" text-anchor="end" fill="#1a1a1a" font-weight="normal" >6</text>
<text x="277.7" y="267.04" font-size="9.4" text-anchor="end" fill="#1a1a1a" font-weight="normal" >8</text>
<text x="277.7" y="233.90" font-size="9.4" text-anchor="end" fill="#1a1a1a" font-weight="normal" >10</text>
<text x="283.50" y="409.9" font-size="9.4" text-anchor="middle" fill="#1a1a1a" font-weight="normal" >18.0</text>
<text x="325.15" y="409.9" font-size="9.4" text-anchor="middle" fill="#1a1a1a" font-weight="normal" >18.5</text>
<text x="366.80" y="409.9" font-size="9.4" text-anchor="middle" fill="#1a1a1a" font-weight="normal" >19.0</text>
<text x="408.45" y="409.9" font-size="9.4" text-anchor="middle" fill="#1a1a1a" font-weight="normal" >19.5</text>
<text x="450.10" y="409.9" font-size="9.4" text-anchor="middle" fill="#1a1a1a" font-weight="normal" >20.0</text>
<text x="368.6" y="426.6" font-size="10" text-anchor="middle" fill="#222"><tspan font-style="italic">Δ</tspan> (cm<tspan font-size="7" dy="-4.5" dx="1">-1</tspan><tspan dy="4.5" dx="1">)</tspan></text>
<text transform="translate(263.6 316.2) rotate(-90)" font-size="10.5" text-anchor="middle" fill="#222">Count (<tspan font-size="9.5">×</tspan>10<tspan font-size="7" dy="-4">3</tspan><tspan dy="4">)</tspan></text>
<rect x="543.86" y="372.63" width="14.98" height="22.97" fill="#9438f8"/>
<rect x="560.34" y="280.73" width="14.98" height="114.87" fill="#9438f8"/>
<rect x="576.82" y="379.19" width="14.98" height="16.41" fill="#9438f8"/>
<rect x="593.30" y="391.99" width="14.98" height="3.61" fill="#9438f8"/>
<path d="M509.5 398.6V231.5H674.3V395.6" fill="none" stroke="#7a7a7a" stroke-width="1"/>
<path d="M509.5 395.6H674.3" stroke="#111" stroke-width="1.5"/>
<path d="M509.5 395.60h-3M509.5 362.78h-3M509.5 329.96h-3M509.5 297.14h-3M509.5 264.32h-3M509.5 231.50h-3M542.46 395.6v3M575.42 395.6v3M608.38 395.6v3M641.34 395.6v3M674.30 395.6v3" stroke="#999" stroke-width="0.8"/>
<text x="503.7" y="398.90" font-size="9.4" text-anchor="end" fill="#1a1a1a" font-weight="normal" >0</text>
<text x="503.7" y="366.08" font-size="9.4" text-anchor="end" fill="#1a1a1a" font-weight="normal" >2</text>
<text x="503.7" y="333.26" font-size="9.4" text-anchor="end" fill="#1a1a1a" font-weight="normal" >4</text>
<text x="503.7" y="300.44" font-size="9.4" text-anchor="end" fill="#1a1a1a" font-weight="normal" >6</text>
<text x="503.7" y="267.62" font-size="9.4" text-anchor="end" fill="#1a1a1a" font-weight="normal" >8</text>
<text x="503.7" y="234.80" font-size="9.4" text-anchor="end" fill="#1a1a1a" font-weight="normal" >10</text>
<text x="509.50" y="409.2" font-size="9.4" text-anchor="middle" fill="#1a1a1a" font-weight="normal" >1.80</text>
<text x="542.46" y="409.2" font-size="9.4" text-anchor="middle" fill="#1a1a1a" font-weight="normal" >1.82</text>
<text x="575.42" y="409.2" font-size="9.4" text-anchor="middle" fill="#1a1a1a" font-weight="normal" >1.84</text>
<text x="608.38" y="409.2" font-size="9.4" text-anchor="middle" fill="#1a1a1a" font-weight="normal" >1.86</text>
<text x="641.34" y="409.2" font-size="9.4" text-anchor="middle" fill="#1a1a1a" font-weight="normal" >1.88</text>
<text x="674.30" y="409.2" font-size="9.4" text-anchor="middle" fill="#1a1a1a" font-weight="normal" >1.90</text>
<text x="592" y="425.2" font-size="9.8" text-anchor="middle" fill="#222">PL Peak position (eV)</text>
<text transform="translate(488.8 315.3) rotate(-90)" font-size="10.5" text-anchor="middle" fill="#222">Count (<tspan font-size="9.5">×</tspan>10<tspan font-size="7" dy="-4">3</tspan><tspan dy="4">)</tspan></text>
</svg>
</body></html>
